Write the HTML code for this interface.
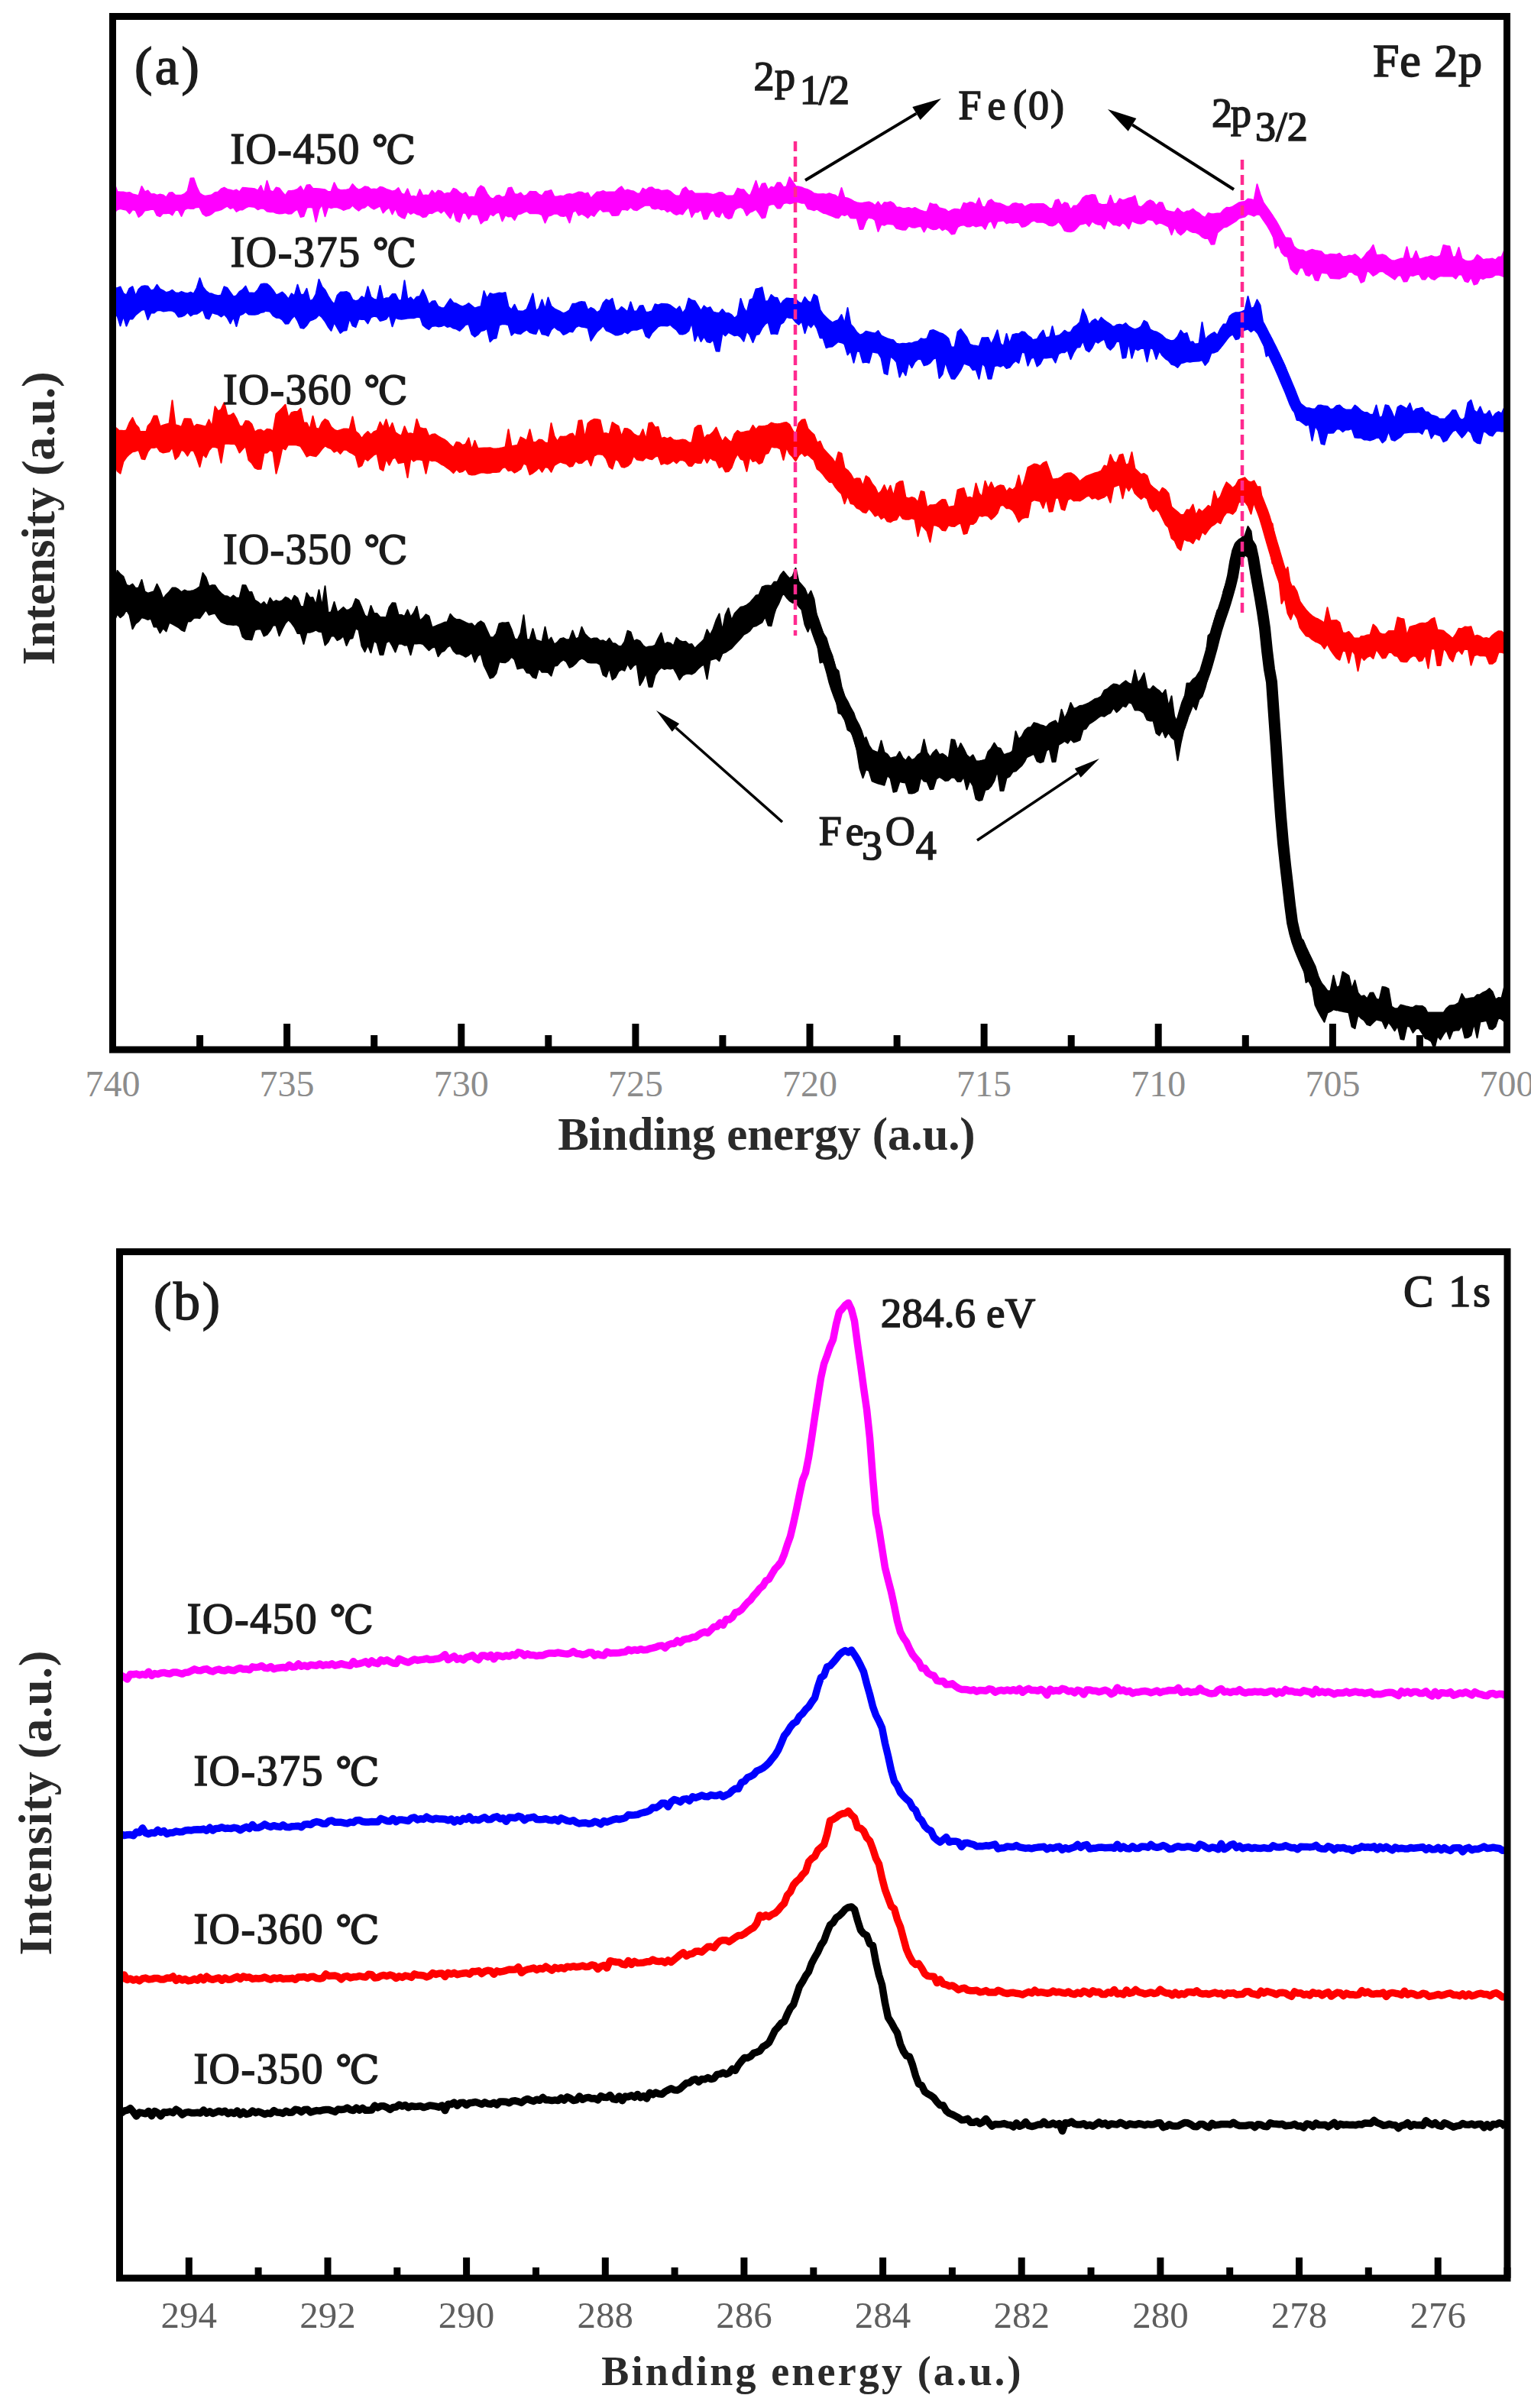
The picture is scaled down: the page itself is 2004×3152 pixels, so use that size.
<!DOCTYPE html>
<html><head><meta charset="utf-8"><title>XPS spectra</title>
<style>html,body{margin:0;padding:0;background:#fff;}svg{display:block;}</style>
</head><body>
<svg width="2004" height="3152" viewBox="0 0 2004 3152">
<rect x="0" y="0" width="2004" height="3152" fill="#fff"/>
<g fill="none" stroke-linejoin="round" stroke-linecap="round">
<path d="M149.5,239.2 L153.5,251.0 L157.5,251.5 L161.5,251.5 L165.5,252.4 L169.5,251.9 L173.5,254.1 L177.5,255.1 L181.5,256.1 L185.5,244.0 L189.5,251.3 L193.5,249.4 L197.5,254.2 L201.5,254.0 L205.5,255.6 L209.5,254.5 L213.5,255.4 L217.5,258.5 L221.5,252.5 L225.5,252.1 L229.5,255.7 L233.5,255.7 L237.5,255.7 L241.5,253.9 L245.5,250.3 L249.5,233.4 L253.5,233.2 L257.5,245.0 L261.5,253.1 L265.5,255.8 L269.5,257.4 L273.5,257.3 L277.5,255.1 L281.5,252.1 L285.5,251.4 L289.5,247.5 L293.5,245.6 L297.5,247.9 L301.5,248.7 L305.5,250.0 L309.5,248.5 L313.5,251.4 L317.5,245.7 L321.5,246.0 L325.5,246.4 L329.5,246.8 L333.5,247.3 L337.5,249.5 L341.5,243.0 L345.5,253.7 L349.5,236.8 L353.5,249.6 L357.5,251.2 L361.5,245.5 L365.5,246.4 L369.5,251.6 L373.5,256.1 L377.5,250.1 L381.5,250.0 L385.5,249.2 L389.5,247.8 L393.5,243.9 L397.5,251.1 L401.5,242.6 L405.5,242.0 L409.5,246.8 L413.5,247.0 L417.5,247.2 L421.5,247.7 L425.5,248.2 L429.5,251.0 L433.5,250.7 L437.5,239.3 L441.5,247.3 L445.5,248.9 L449.5,248.8 L453.5,248.5 L457.5,247.6 L461.5,241.1 L465.5,245.7 L469.5,248.5 L473.5,247.1 L477.5,244.2 L481.5,244.9 L485.5,248.0 L489.5,247.4 L493.5,248.1 L497.5,244.7 L501.5,245.6 L505.5,247.7 L509.5,248.9 L513.5,250.4 L517.5,249.6 L521.5,246.1 L525.5,253.4 L529.5,254.9 L533.5,247.3 L537.5,257.4 L541.5,256.8 L545.5,258.0 L549.5,248.1 L553.5,256.1 L557.5,255.4 L561.5,255.9 L565.5,249.5 L569.5,254.0 L573.5,249.5 L577.5,250.4 L581.5,254.2 L585.5,252.7 L589.5,253.0 L593.5,246.7 L597.5,248.3 L601.5,252.1 L605.5,254.6 L609.5,252.0 L613.5,258.3 L617.5,257.7 L621.5,258.2 L625.5,247.3 L629.5,243.3 L633.5,245.7 L637.5,253.5 L641.5,258.8 L645.5,260.6 L649.5,256.6 L653.5,255.8 L657.5,258.5 L661.5,256.8 L665.5,246.2 L669.5,245.5 L673.5,254.1 L677.5,254.7 L681.5,252.5 L685.5,257.0 L689.5,255.4 L693.5,250.8 L697.5,251.0 L701.5,251.0 L705.5,254.7 L709.5,256.4 L713.5,250.7 L717.5,250.2 L721.5,249.0 L725.5,257.5 L729.5,257.4 L733.5,256.5 L737.5,257.1 L741.5,254.8 L745.5,254.1 L749.5,254.8 L753.5,253.2 L757.5,251.5 L761.5,251.7 L765.5,253.9 L769.5,252.5 L773.5,259.8 L777.5,255.5 L781.5,251.4 L785.5,251.4 L789.5,250.0 L793.5,251.8 L797.5,251.5 L801.5,251.4 L805.5,251.2 L809.5,247.1 L813.5,244.2 L817.5,249.9 L821.5,248.5 L825.5,249.8 L829.5,250.6 L833.5,253.2 L837.5,253.4 L841.5,246.6 L845.5,249.0 L849.5,245.7 L853.5,245.2 L857.5,248.2 L861.5,247.9 L865.5,250.0 L869.5,249.4 L873.5,248.9 L877.5,250.7 L881.5,254.3 L885.5,257.0 L889.5,257.4 L893.5,247.9 L897.5,245.2 L901.5,250.4 L905.5,249.8 L909.5,253.5 L913.5,253.5 L917.5,253.5 L921.5,253.4 L925.5,253.3 L929.5,254.0 L933.5,254.9 L937.5,253.6 L941.5,252.0 L945.5,252.3 L949.5,255.8 L953.5,259.8 L957.5,258.7 L961.5,254.7 L965.5,246.6 L969.5,248.2 L973.5,248.3 L977.5,253.3 L981.5,257.5 L985.5,247.6 L989.5,236.8 L993.5,249.6 L997.5,240.8 L1001.5,240.0 L1005.5,248.9 L1009.5,244.8 L1013.5,245.9 L1017.5,239.3 L1021.5,239.2 L1025.5,245.3 L1029.5,244.3 L1033.5,232.1 L1037.5,238.1 L1041.5,243.9 L1045.5,244.5 L1049.5,245.4 L1053.5,247.3 L1057.5,248.3 L1061.5,250.4 L1065.5,253.2 L1069.5,253.9 L1073.5,254.2 L1077.5,254.0 L1081.5,254.8 L1085.5,253.3 L1089.5,254.8 L1093.5,255.8 L1097.5,259.1 L1101.5,246.0 L1105.5,258.8 L1109.5,259.5 L1113.5,261.2 L1117.5,263.7 L1121.5,265.3 L1125.5,266.1 L1129.5,265.7 L1133.5,265.1 L1137.5,264.4 L1141.5,266.1 L1145.5,269.2 L1149.5,264.2 L1153.5,270.2 L1157.5,265.0 L1161.5,265.5 L1165.5,264.2 L1169.5,266.3 L1173.5,271.7 L1177.5,271.5 L1181.5,272.9 L1185.5,272.8 L1189.5,272.0 L1193.5,273.6 L1197.5,271.9 L1201.5,274.0 L1205.5,275.8 L1209.5,276.9 L1213.5,277.2 L1217.5,266.1 L1221.5,267.7 L1225.5,267.4 L1229.5,272.3 L1233.5,273.2 L1237.5,274.3 L1241.5,277.5 L1245.5,275.3 L1249.5,273.8 L1253.5,274.0 L1257.5,275.0 L1261.5,265.7 L1265.5,266.9 L1269.5,264.8 L1273.5,265.5 L1277.5,268.1 L1281.5,259.4 L1285.5,270.4 L1289.5,271.5 L1293.5,263.5 L1297.5,261.3 L1301.5,265.3 L1305.5,266.0 L1309.5,266.6 L1313.5,268.4 L1317.5,270.4 L1321.5,270.2 L1325.5,266.8 L1329.5,266.0 L1333.5,267.2 L1337.5,267.0 L1341.5,270.9 L1345.5,268.6 L1349.5,267.0 L1353.5,267.3 L1357.5,267.0 L1361.5,266.9 L1365.5,267.0 L1369.5,269.2 L1373.5,272.8 L1377.5,273.3 L1381.5,262.5 L1385.5,261.2 L1389.5,269.1 L1393.5,265.2 L1397.5,266.5 L1401.5,275.1 L1405.5,269.4 L1409.5,269.6 L1413.5,265.2 L1417.5,259.1 L1421.5,256.2 L1425.5,256.0 L1429.5,255.1 L1433.5,255.6 L1437.5,266.3 L1441.5,267.7 L1445.5,268.0 L1449.5,267.6 L1453.5,255.9 L1457.5,266.6 L1461.5,266.7 L1465.5,260.2 L1469.5,262.4 L1473.5,261.2 L1477.5,259.4 L1481.5,258.8 L1485.5,256.4 L1489.5,269.8 L1493.5,271.2 L1497.5,268.0 L1501.5,263.9 L1505.5,262.2 L1509.5,264.1 L1513.5,269.3 L1517.5,264.9 L1521.5,265.6 L1525.5,275.2 L1529.5,276.5 L1533.5,277.3 L1537.5,278.0 L1541.5,272.7 L1545.5,276.5 L1549.5,278.9 L1553.5,276.5 L1557.5,276.2 L1561.5,273.5 L1565.5,277.2 L1569.5,279.1 L1573.5,282.9 L1577.5,284.8 L1581.5,279.0 L1585.5,280.2 L1589.5,280.1 L1593.5,279.4 L1597.5,279.6 L1601.5,274.8 L1605.5,271.7 L1609.5,272.0 L1613.5,270.7 L1617.5,268.1 L1621.5,265.5 L1625.5,264.5 L1629.5,264.1 L1633.5,260.5 L1637.5,260.9 L1641.5,262.2 L1645.5,241.3 L1649.5,254.4 L1653.5,264.7 L1657.5,270.5 L1661.5,276.5 L1665.5,282.1 L1669.5,290.4 L1673.5,296.6 L1677.5,303.5 L1681.5,311.2 L1685.5,311.4 L1689.5,312.1 L1693.5,322.4 L1697.5,326.0 L1701.5,327.6 L1705.5,327.5 L1709.5,330.0 L1713.5,328.2 L1717.5,326.8 L1721.5,327.9 L1725.5,328.6 L1729.5,329.2 L1733.5,333.5 L1737.5,334.0 L1741.5,332.8 L1745.5,333.1 L1749.5,333.4 L1753.5,331.8 L1757.5,336.2 L1761.5,336.1 L1765.5,334.6 L1769.5,335.1 L1773.5,333.1 L1777.5,336.2 L1781.5,340.5 L1785.5,336.3 L1789.5,330.7 L1793.5,327.2 L1797.5,320.8 L1801.5,333.7 L1805.5,333.9 L1809.5,333.3 L1813.5,334.6 L1817.5,338.2 L1821.5,341.0 L1825.5,341.4 L1829.5,340.0 L1833.5,338.6 L1837.5,338.3 L1841.5,323.3 L1845.5,339.1 L1849.5,338.2 L1853.5,328.7 L1857.5,339.4 L1861.5,338.5 L1865.5,337.1 L1869.5,336.5 L1873.5,335.0 L1877.5,336.5 L1881.5,336.4 L1885.5,334.7 L1889.5,320.9 L1893.5,322.0 L1897.5,322.6 L1901.5,336.8 L1905.5,335.9 L1909.5,324.1 L1913.5,338.6 L1917.5,341.1 L1921.5,342.3 L1925.5,341.8 L1929.5,340.1 L1933.5,333.7 L1937.5,336.4 L1941.5,340.2 L1945.5,339.2 L1949.5,339.2 L1953.5,338.6 L1957.5,340.4 L1961.5,336.5 L1965.5,336.5 L1969.5,326.8 L1969.5,362.9 L1965.5,360.7 L1961.5,359.5 L1957.5,359.7 L1953.5,362.5 L1949.5,363.2 L1945.5,363.2 L1941.5,365.2 L1937.5,363.6 L1933.5,371.3 L1929.5,372.6 L1925.5,362.7 L1921.5,369.2 L1917.5,368.0 L1913.5,359.5 L1909.5,359.2 L1905.5,364.7 L1901.5,361.5 L1897.5,361.5 L1893.5,361.4 L1889.5,361.4 L1885.5,361.1 L1881.5,362.9 L1877.5,366.1 L1873.5,364.6 L1869.5,360.7 L1865.5,365.7 L1861.5,365.6 L1857.5,358.8 L1853.5,359.5 L1849.5,361.0 L1845.5,360.2 L1841.5,368.3 L1837.5,368.5 L1833.5,360.2 L1829.5,360.8 L1825.5,365.8 L1821.5,363.0 L1817.5,360.2 L1813.5,357.8 L1809.5,354.4 L1805.5,355.3 L1801.5,358.7 L1797.5,361.0 L1793.5,356.8 L1789.5,354.0 L1785.5,368.0 L1781.5,369.9 L1777.5,360.4 L1773.5,359.3 L1769.5,356.0 L1765.5,355.7 L1761.5,361.7 L1757.5,362.7 L1753.5,364.7 L1749.5,364.5 L1745.5,364.2 L1741.5,363.9 L1737.5,357.7 L1733.5,357.2 L1729.5,356.7 L1725.5,367.2 L1721.5,366.5 L1717.5,356.5 L1713.5,361.1 L1709.5,359.8 L1705.5,350.5 L1701.5,350.6 L1697.5,359.2 L1693.5,356.0 L1689.5,351.7 L1685.5,335.8 L1681.5,334.9 L1677.5,330.4 L1673.5,318.9 L1669.5,324.6 L1665.5,303.5 L1661.5,297.4 L1657.5,291.3 L1653.5,285.6 L1649.5,281.0 L1645.5,280.4 L1641.5,282.7 L1637.5,281.1 L1633.5,280.1 L1629.5,283.6 L1625.5,284.6 L1621.5,285.7 L1617.5,289.4 L1613.5,291.9 L1609.5,294.5 L1605.5,296.8 L1601.5,297.6 L1597.5,301.3 L1593.5,304.6 L1589.5,319.6 L1585.5,319.7 L1581.5,312.1 L1577.5,312.0 L1573.5,310.1 L1569.5,306.3 L1565.5,304.3 L1561.5,304.1 L1557.5,302.3 L1553.5,299.6 L1549.5,304.3 L1545.5,307.4 L1541.5,304.2 L1537.5,296.9 L1533.5,307.2 L1529.5,296.5 L1525.5,294.6 L1521.5,292.5 L1517.5,291.5 L1513.5,293.7 L1509.5,288.6 L1505.5,285.7 L1501.5,287.7 L1497.5,291.6 L1493.5,292.8 L1489.5,292.2 L1485.5,290.8 L1481.5,288.9 L1477.5,299.3 L1473.5,293.8 L1469.5,291.4 L1465.5,295.7 L1461.5,294.2 L1457.5,294.2 L1453.5,290.4 L1449.5,287.8 L1445.5,299.4 L1441.5,294.1 L1437.5,293.8 L1433.5,292.2 L1429.5,289.5 L1425.5,296.1 L1421.5,291.9 L1417.5,293.0 L1413.5,293.7 L1409.5,298.2 L1405.5,302.0 L1401.5,303.2 L1397.5,303.1 L1393.5,301.8 L1389.5,294.6 L1385.5,290.0 L1381.5,293.9 L1377.5,295.6 L1373.5,295.1 L1369.5,292.4 L1365.5,290.8 L1361.5,290.6 L1357.5,290.8 L1353.5,288.5 L1349.5,290.2 L1345.5,294.0 L1341.5,296.3 L1337.5,297.0 L1333.5,291.0 L1329.5,291.0 L1325.5,291.8 L1321.5,291.0 L1317.5,292.4 L1313.5,288.4 L1309.5,289.3 L1305.5,289.4 L1301.5,298.5 L1297.5,289.0 L1293.5,291.2 L1289.5,299.8 L1285.5,295.1 L1281.5,295.6 L1277.5,296.5 L1273.5,294.7 L1269.5,296.6 L1265.5,296.5 L1261.5,294.2 L1257.5,294.9 L1253.5,297.2 L1249.5,305.8 L1245.5,306.4 L1241.5,301.7 L1237.5,299.1 L1233.5,301.3 L1229.5,297.3 L1225.5,300.0 L1221.5,300.3 L1217.5,298.7 L1213.5,296.5 L1209.5,303.5 L1205.5,295.9 L1201.5,296.6 L1197.5,297.7 L1193.5,297.4 L1189.5,295.7 L1185.5,300.7 L1181.5,300.8 L1177.5,299.7 L1173.5,298.8 L1169.5,293.7 L1165.5,293.2 L1161.5,292.7 L1157.5,294.8 L1153.5,293.6 L1149.5,302.9 L1145.5,288.2 L1141.5,285.2 L1137.5,283.5 L1133.5,289.0 L1129.5,299.7 L1125.5,300.1 L1121.5,285.3 L1117.5,285.5 L1113.5,285.3 L1109.5,280.0 L1105.5,282.1 L1101.5,280.3 L1097.5,285.3 L1093.5,284.7 L1089.5,282.9 L1085.5,281.4 L1081.5,279.6 L1077.5,278.7 L1073.5,276.4 L1069.5,273.7 L1065.5,275.4 L1061.5,274.0 L1057.5,273.3 L1053.5,265.7 L1049.5,265.7 L1045.5,264.6 L1041.5,264.1 L1037.5,265.5 L1033.5,266.4 L1029.5,265.3 L1025.5,266.3 L1021.5,272.4 L1017.5,272.5 L1013.5,267.1 L1009.5,267.4 L1005.5,269.2 L1001.5,284.6 L997.5,285.5 L993.5,279.1 L989.5,273.9 L985.5,276.2 L981.5,277.7 L977.5,282.0 L973.5,273.5 L969.5,271.0 L965.5,271.9 L961.5,274.7 L957.5,285.1 L953.5,286.2 L949.5,283.8 L945.5,276.1 L941.5,284.0 L937.5,282.7 L933.5,274.7 L929.5,277.9 L925.5,286.5 L921.5,286.7 L917.5,274.0 L913.5,277.4 L909.5,277.4 L905.5,284.1 L901.5,270.8 L897.5,274.8 L893.5,280.5 L889.5,279.4 L885.5,281.1 L881.5,279.0 L877.5,275.4 L873.5,277.3 L869.5,273.8 L865.5,274.4 L861.5,272.3 L857.5,273.6 L853.5,272.5 L849.5,266.5 L845.5,267.8 L841.5,270.4 L837.5,272.7 L833.5,275.3 L829.5,274.6 L825.5,270.9 L821.5,274.9 L817.5,274.0 L813.5,274.3 L809.5,281.6 L805.5,281.9 L801.5,282.1 L797.5,276.2 L793.5,276.4 L789.5,276.9 L785.5,273.2 L781.5,277.3 L777.5,282.9 L773.5,280.6 L769.5,285.1 L765.5,282.0 L761.5,279.8 L757.5,281.8 L753.5,275.3 L749.5,277.7 L745.5,291.5 L741.5,282.1 L737.5,283.0 L733.5,282.4 L729.5,279.7 L725.5,279.7 L721.5,281.7 L717.5,282.9 L713.5,291.7 L709.5,281.3 L705.5,279.6 L701.5,279.3 L697.5,279.3 L693.5,279.3 L689.5,276.3 L685.5,277.9 L681.5,279.8 L677.5,280.6 L673.5,288.0 L669.5,282.9 L665.5,283.6 L661.5,281.3 L657.5,289.4 L653.5,277.7 L649.5,278.8 L645.5,282.2 L641.5,279.7 L637.5,288.0 L633.5,288.7 L629.5,292.6 L625.5,281.1 L621.5,280.8 L617.5,280.3 L613.5,286.4 L609.5,278.5 L605.5,278.8 L601.5,290.7 L597.5,288.7 L593.5,274.9 L589.5,285.5 L585.5,280.6 L581.5,275.1 L577.5,278.6 L573.5,275.5 L569.5,276.8 L565.5,279.2 L561.5,278.7 L557.5,283.5 L553.5,284.2 L549.5,281.3 L545.5,280.2 L541.5,277.8 L537.5,280.1 L533.5,276.6 L529.5,285.8 L525.5,284.3 L521.5,281.4 L517.5,272.6 L513.5,280.4 L509.5,271.4 L505.5,274.2 L501.5,278.6 L497.5,269.3 L493.5,271.6 L489.5,273.7 L485.5,271.3 L481.5,267.9 L477.5,271.5 L473.5,272.5 L469.5,275.8 L465.5,272.8 L461.5,268.5 L457.5,272.5 L453.5,273.5 L449.5,275.0 L445.5,272.7 L441.5,271.2 L437.5,271.0 L433.5,272.2 L429.5,270.8 L425.5,283.2 L421.5,267.4 L417.5,273.9 L413.5,290.3 L409.5,271.8 L405.5,271.1 L401.5,271.7 L397.5,283.0 L393.5,284.0 L389.5,273.9 L385.5,275.9 L381.5,279.6 L377.5,279.7 L373.5,278.3 L369.5,279.3 L365.5,279.6 L361.5,278.7 L357.5,277.1 L353.5,277.3 L349.5,276.4 L345.5,272.9 L341.5,272.6 L337.5,274.2 L333.5,271.1 L329.5,270.5 L325.5,270.1 L321.5,271.8 L317.5,274.5 L313.5,274.6 L309.5,277.0 L305.5,271.4 L301.5,273.0 L297.5,269.7 L293.5,271.9 L289.5,274.3 L285.5,275.6 L281.5,276.2 L277.5,279.6 L273.5,281.8 L269.5,282.7 L265.5,280.0 L261.5,271.9 L257.5,269.6 L253.5,272.9 L249.5,273.1 L245.5,272.3 L241.5,274.4 L237.5,282.9 L233.5,275.0 L229.5,275.0 L225.5,281.5 L221.5,278.7 L217.5,279.2 L213.5,278.9 L209.5,283.2 L205.5,281.8 L201.5,273.9 L197.5,274.0 L193.5,275.1 L189.5,275.4 L185.5,281.0 L181.5,284.0 L177.5,275.4 L173.5,274.4 L169.5,279.4 L165.5,274.8 L161.5,273.9 L157.5,273.1 L153.5,274.3 L149.5,278.3 Z" fill="#ff00ff" stroke="#ff00ff" stroke-width="2" stroke-linejoin="round"/>
<path d="M149.5,260.9 L152.5,261.3 L155.5,261.7 L158.5,262.1 L161.5,262.5 L164.5,262.8 L167.5,263.1 L170.5,263.4 L173.5,263.7 L176.5,263.9 L179.5,264.2 L182.5,264.4 L185.5,264.6 L188.5,264.8 L191.5,264.9 L194.5,265.1 L197.5,265.2 L200.5,265.4 L203.5,265.5 L206.5,265.6 L209.5,265.7 L212.5,265.7 L215.5,265.8 L218.5,265.9 L221.5,265.9 L224.5,265.9 L227.5,266.0 L230.5,266.0 L233.5,266.0 L236.5,266.0 L239.5,266.0 L242.5,265.9 L245.5,265.8 L248.5,265.6 L251.5,265.3 L254.5,265.0 L257.5,264.7 L260.5,264.3 L263.5,264.0 L266.5,263.6 L269.5,263.1 L272.5,262.7 L275.5,262.3 L278.5,261.9 L281.5,261.5 L284.5,261.2 L287.5,260.9 L290.5,260.6 L293.5,260.3 L296.5,260.2 L299.5,260.1 L302.5,260.0 L305.5,260.0 L308.5,260.1 L311.5,260.2 L314.5,260.3 L317.5,260.5 L320.5,260.7 L323.5,260.9 L326.5,261.2 L329.5,261.4 L332.5,261.7 L335.5,262.0 L338.5,262.2 L341.5,262.5 L344.5,262.8 L347.5,263.0 L350.5,263.2 L353.5,263.4 L356.5,263.6 L359.5,263.8 L362.5,263.9 L365.5,264.0 L368.5,264.0 L371.5,264.0 L374.5,264.0 L377.5,263.9 L380.5,263.8 L383.5,263.7 L386.5,263.6 L389.5,263.5 L392.5,263.3 L395.5,263.1 L398.5,263.0 L401.5,262.8 L404.5,262.6 L407.5,262.4 L410.5,262.2 L413.5,262.1 L416.5,261.9 L419.5,261.7 L422.5,261.5 L425.5,261.4 L428.5,261.2 L431.5,261.1 L434.5,261.0 L437.5,260.9 L440.5,260.7 L443.5,260.6 L446.5,260.5 L449.5,260.4 L452.5,260.3 L455.5,260.1 L458.5,260.0 L461.5,259.9 L464.5,259.8 L467.5,259.7 L470.5,259.6 L473.5,259.5 L476.5,259.4 L479.5,259.3 L482.5,259.2 L485.5,259.1 L488.5,259.1 L491.5,259.0 L494.5,259.0 L497.5,259.0 L500.5,259.0 L503.5,259.1 L506.5,259.3 L509.5,259.5 L512.5,259.9 L515.5,260.2 L518.5,260.7 L521.5,261.2 L524.5,261.7 L527.5,262.2 L530.5,262.7 L533.5,263.3 L536.5,263.8 L539.5,264.3 L542.5,264.8 L545.5,265.3 L548.5,265.8 L551.5,266.1 L554.5,266.5 L557.5,266.7 L560.5,266.9 L563.5,267.0 L566.5,267.0 L569.5,267.0 L572.5,267.0 L575.5,267.0 L578.5,267.0 L581.5,267.0 L584.5,267.0 L587.5,267.0 L590.5,267.0 L593.5,267.0 L596.5,267.0 L599.5,267.0 L602.5,267.0 L605.5,267.0 L608.5,267.0 L611.5,267.0 L614.5,267.0 L617.5,267.0 L620.5,267.0 L623.5,267.0 L626.5,267.0 L629.5,267.0 L632.5,267.0 L635.5,267.0 L638.5,267.0 L641.5,267.1 L644.5,267.1 L647.5,267.2 L650.5,267.2 L653.5,267.3 L656.5,267.3 L659.5,267.4 L662.5,267.5 L665.5,267.5 L668.5,267.6 L671.5,267.7 L674.5,267.7 L677.5,267.8 L680.5,267.8 L683.5,267.9 L686.5,267.9 L689.5,268.0 L692.5,268.0 L695.5,268.0 L698.5,268.0 L701.5,268.0 L704.5,268.0 L707.5,268.0 L710.5,268.0 L713.5,267.9 L716.5,267.9 L719.5,267.9 L722.5,267.8 L725.5,267.8 L728.5,267.7 L731.5,267.7 L734.5,267.6 L737.5,267.6 L740.5,267.5 L743.5,267.5 L746.5,267.4 L749.5,267.3 L752.5,267.3 L755.5,267.2 L758.5,267.1 L761.5,267.0 L764.5,267.0 L767.5,266.8 L770.5,266.7 L773.5,266.5 L776.5,266.2 L779.5,266.0 L782.5,265.7 L785.5,265.4 L788.5,265.1 L791.5,264.8 L794.5,264.5 L797.5,264.1 L800.5,263.8 L803.5,263.5 L806.5,263.2 L809.5,262.9 L812.5,262.7 L815.5,262.5 L818.5,262.3 L821.5,262.2 L824.5,262.1 L827.5,262.0 L830.5,262.0 L833.5,262.0 L836.5,262.0 L839.5,262.1 L842.5,262.1 L845.5,262.2 L848.5,262.2 L851.5,262.3 L854.5,262.3 L857.5,262.4 L860.5,262.5 L863.5,262.5 L866.5,262.6 L869.5,262.7 L872.5,262.7 L875.5,262.8 L878.5,262.9 L881.5,262.9 L884.5,262.9 L887.5,263.0 L890.5,263.0 L893.5,263.0 L896.5,263.0 L899.5,263.0 L902.5,263.0 L905.5,263.0 L908.5,263.0 L911.5,263.0 L914.5,263.0 L917.5,263.0 L920.5,263.0 L923.5,263.0 L926.5,263.0 L929.5,263.0 L932.5,263.0 L935.5,263.0 L938.5,263.0 L941.5,263.0 L944.5,263.0 L947.5,263.0 L950.5,263.0 L953.5,263.0 L956.5,263.0 L959.5,263.0 L962.5,263.0 L965.5,262.9 L968.5,262.8 L971.5,262.7 L974.5,262.5 L977.5,262.3 L980.5,262.1 L983.5,261.8 L986.5,261.5 L989.5,261.2 L992.5,260.9 L995.5,260.6 L998.5,260.2 L1001.5,259.9 L1004.5,259.5 L1007.5,259.1 L1010.5,258.7 L1013.5,258.3 L1016.5,258.0 L1019.5,257.6 L1022.5,257.2 L1025.5,256.8 L1028.5,256.2 L1031.5,255.6 L1034.5,254.9 L1037.5,254.4 L1040.5,254.0 L1043.5,254.1 L1046.5,254.8 L1049.5,256.0 L1052.5,257.3 L1055.5,258.5 L1058.5,259.4 L1061.5,260.2 L1064.5,260.9 L1067.5,261.5 L1070.5,262.2 L1073.5,262.8 L1076.5,263.4 L1079.5,264.0 L1082.5,264.6 L1085.5,265.2 L1088.5,265.9 L1091.5,266.7 L1094.5,267.5 L1097.5,268.5 L1100.5,269.8 L1103.5,271.1 L1106.5,272.1 L1109.5,272.9 L1112.5,273.6 L1115.5,274.3 L1118.5,275.0 L1121.5,275.6 L1124.5,276.2 L1127.5,276.7 L1130.5,277.2 L1133.5,277.7 L1136.5,278.2 L1139.5,278.7 L1142.5,279.1 L1145.5,279.5 L1148.5,279.9 L1151.5,280.3 L1154.5,280.7 L1157.5,281.1 L1160.5,281.5 L1163.5,281.8 L1166.5,282.2 L1169.5,282.5 L1172.5,282.9 L1175.5,283.3 L1178.5,283.7 L1181.5,284.0 L1184.5,284.4 L1187.5,284.8 L1190.5,285.1 L1193.5,285.5 L1196.5,285.8 L1199.5,286.1 L1202.5,286.4 L1205.5,286.7 L1208.5,287.0 L1211.5,287.2 L1214.5,287.4 L1217.5,287.6 L1220.5,287.8 L1223.5,287.9 L1226.5,288.0 L1229.5,288.0 L1232.5,288.0 L1235.5,287.9 L1238.5,287.7 L1241.5,287.4 L1244.5,287.1 L1247.5,286.7 L1250.5,286.3 L1253.5,285.8 L1256.5,285.3 L1259.5,284.7 L1262.5,284.2 L1265.5,283.6 L1268.5,283.1 L1271.5,282.6 L1274.5,282.0 L1277.5,281.6 L1280.5,281.1 L1283.5,280.8 L1286.5,280.5 L1289.5,280.2 L1292.5,280.1 L1295.5,280.0 L1298.5,280.0 L1301.5,280.0 L1304.5,280.0 L1307.5,280.0 L1310.5,280.0 L1313.5,280.0 L1316.5,280.0 L1319.5,280.0 L1322.5,280.0 L1325.5,280.0 L1328.5,280.0 L1331.5,280.0 L1334.5,280.0 L1337.5,280.0 L1340.5,280.0 L1343.5,280.0 L1346.5,280.0 L1349.5,280.0 L1352.5,280.0 L1355.5,280.0 L1358.5,280.0 L1361.5,280.0 L1364.5,280.0 L1367.5,280.0 L1370.5,280.0 L1373.5,280.0 L1376.5,280.0 L1379.5,280.0 L1382.5,280.0 L1385.5,280.0 L1388.5,280.0 L1391.5,280.0 L1394.5,280.0 L1397.5,280.0 L1400.5,280.0 L1403.5,280.0 L1406.5,280.0 L1409.5,280.0 L1412.5,280.0 L1415.5,280.0 L1418.5,280.0 L1421.5,280.0 L1424.5,280.0 L1427.5,280.0 L1430.5,280.0 L1433.5,280.0 L1436.5,280.0 L1439.5,280.0 L1442.5,280.0 L1445.5,280.0 L1448.5,280.0 L1451.5,280.0 L1454.5,280.0 L1457.5,280.0 L1460.5,280.0 L1463.5,280.0 L1466.5,280.0 L1469.5,280.0 L1472.5,280.0 L1475.5,280.0 L1478.5,280.0 L1481.5,280.0 L1484.5,280.0 L1487.5,280.0 L1490.5,280.0 L1493.5,280.0 L1496.5,280.1 L1499.5,280.4 L1502.5,280.7 L1505.5,281.1 L1508.5,281.5 L1511.5,282.1 L1514.5,282.7 L1517.5,283.3 L1520.5,283.9 L1523.5,284.6 L1526.5,285.2 L1529.5,285.9 L1532.5,286.5 L1535.5,287.1 L1538.5,287.8 L1541.5,288.6 L1544.5,289.5 L1547.5,290.3 L1550.5,291.0 L1553.5,291.6 L1556.5,292.0 L1559.5,292.1 L1562.5,292.3 L1565.5,292.4 L1568.5,292.6 L1571.5,292.7 L1574.5,292.8 L1577.5,292.8 L1580.5,292.9 L1583.5,293.0 L1586.5,293.0 L1589.5,293.0 L1592.5,292.7 L1595.5,291.6 L1598.5,290.0 L1601.5,287.9 L1604.5,285.6 L1607.5,283.1 L1610.5,280.9 L1613.5,278.8 L1616.5,277.2 L1619.5,275.3 L1622.5,273.5 L1625.5,272.0 L1628.5,271.1 L1631.5,271.0 L1634.5,271.0 L1637.5,271.0 L1640.5,271.0 L1643.5,271.0 L1646.5,271.0 L1649.5,272.3 L1652.5,275.1 L1655.5,279.0 L1658.5,283.4 L1661.5,287.9 L1664.5,292.2 L1667.5,297.4 L1670.5,303.2 L1673.5,309.0 L1676.5,314.3 L1679.5,318.6 L1682.5,322.5 L1685.5,326.4 L1688.5,330.0 L1691.5,333.2 L1694.5,335.9 L1697.5,337.9 L1700.5,339.1 L1703.5,340.0 L1706.5,340.8 L1709.5,341.6 L1712.5,342.3 L1715.5,342.9 L1718.5,343.6 L1721.5,344.1 L1724.5,344.7 L1727.5,345.2 L1730.5,345.6 L1733.5,346.0 L1736.5,346.4 L1739.5,346.7 L1742.5,347.0 L1745.5,347.3 L1748.5,347.5 L1751.5,347.7 L1754.5,347.8 L1757.5,347.9 L1760.5,348.0 L1763.5,348.1 L1766.5,348.1 L1769.5,348.2 L1772.5,348.3 L1775.5,348.3 L1778.5,348.4 L1781.5,348.4 L1784.5,348.5 L1787.5,348.5 L1790.5,348.6 L1793.5,348.6 L1796.5,348.7 L1799.5,348.7 L1802.5,348.7 L1805.5,348.8 L1808.5,348.8 L1811.5,348.8 L1814.5,348.9 L1817.5,348.9 L1820.5,348.9 L1823.5,348.9 L1826.5,349.0 L1829.5,349.0 L1832.5,349.0 L1835.5,349.0 L1838.5,349.0 L1841.5,349.0 L1844.5,349.0 L1847.5,349.0 L1850.5,349.0 L1853.5,349.0 L1856.5,349.0 L1859.5,349.0 L1862.5,349.0 L1865.5,349.0 L1868.5,349.0 L1871.5,349.0 L1874.5,349.0 L1877.5,349.0 L1880.5,349.0 L1883.5,349.0 L1886.5,349.0 L1889.5,349.0 L1892.5,349.0 L1895.5,349.0 L1898.5,349.0 L1901.5,349.0 L1904.5,349.0 L1907.5,349.0 L1910.5,349.0 L1913.5,349.0 L1916.5,349.0 L1919.5,349.0 L1922.5,349.0 L1925.5,349.0 L1928.5,349.0 L1931.5,349.0 L1934.5,349.0 L1937.5,349.0 L1940.5,349.0 L1943.5,349.0 L1946.5,349.0 L1949.5,349.0 L1952.5,349.0 L1955.5,349.0 L1958.5,349.0 L1961.5,349.0 L1964.5,349.0 L1967.5,349.0 L1970.5,349.0" fill="none" stroke="#ff00ff" stroke-width="15" stroke-linejoin="round" stroke-linecap="butt"/>
<path d="M149.5,377.7 L153.5,377.1 L157.5,375.5 L161.5,384.2 L165.5,386.4 L169.5,377.5 L173.5,375.2 L177.5,387.6 L181.5,378.7 L185.5,375.0 L189.5,374.2 L193.5,374.8 L197.5,380.4 L201.5,379.2 L205.5,372.8 L209.5,378.5 L213.5,380.4 L217.5,383.0 L221.5,382.1 L225.5,379.7 L229.5,383.2 L233.5,383.8 L237.5,381.8 L241.5,383.5 L245.5,384.2 L249.5,382.6 L253.5,384.7 L257.5,377.1 L261.5,364.1 L265.5,375.6 L269.5,380.7 L273.5,383.9 L277.5,384.6 L281.5,386.3 L285.5,387.2 L289.5,386.4 L293.5,375.3 L297.5,377.0 L301.5,382.8 L305.5,388.4 L309.5,387.2 L313.5,381.9 L317.5,379.3 L321.5,374.6 L325.5,383.3 L329.5,383.5 L333.5,383.7 L337.5,379.3 L341.5,372.2 L345.5,371.4 L349.5,371.7 L353.5,375.0 L357.5,380.0 L361.5,386.4 L365.5,384.6 L369.5,382.5 L373.5,386.3 L377.5,391.7 L381.5,384.4 L385.5,387.3 L389.5,372.7 L393.5,385.5 L397.5,386.0 L401.5,377.9 L405.5,394.0 L409.5,392.4 L413.5,385.2 L417.5,365.8 L421.5,375.5 L425.5,379.7 L429.5,387.5 L433.5,393.9 L437.5,398.7 L441.5,386.7 L445.5,382.6 L449.5,382.6 L453.5,382.0 L457.5,384.1 L461.5,392.5 L465.5,394.2 L469.5,392.9 L473.5,388.2 L477.5,390.8 L481.5,375.3 L485.5,388.8 L489.5,391.7 L493.5,392.7 L497.5,374.0 L501.5,391.9 L505.5,390.3 L509.5,390.0 L513.5,385.1 L517.5,384.9 L521.5,392.9 L525.5,393.3 L529.5,367.3 L533.5,392.4 L537.5,389.3 L541.5,393.6 L545.5,388.7 L549.5,388.1 L553.5,379.2 L557.5,388.0 L561.5,398.8 L565.5,394.6 L569.5,394.1 L573.5,401.3 L577.5,402.9 L581.5,403.2 L585.5,397.2 L589.5,391.4 L593.5,396.6 L597.5,397.5 L601.5,399.9 L605.5,401.4 L609.5,399.8 L613.5,397.0 L617.5,400.2 L621.5,403.5 L625.5,402.1 L629.5,401.3 L633.5,381.1 L637.5,390.8 L641.5,384.0 L645.5,385.4 L649.5,384.5 L653.5,383.5 L657.5,384.0 L661.5,382.9 L665.5,401.4 L669.5,405.6 L673.5,398.7 L677.5,407.1 L681.5,407.6 L685.5,407.2 L689.5,404.9 L693.5,395.2 L697.5,384.4 L701.5,407.2 L705.5,403.7 L709.5,392.4 L713.5,404.7 L717.5,389.5 L721.5,400.9 L725.5,404.1 L729.5,406.1 L733.5,408.0 L737.5,410.4 L741.5,408.6 L745.5,406.0 L749.5,397.7 L753.5,397.7 L757.5,395.8 L761.5,395.1 L765.5,395.6 L769.5,406.1 L773.5,402.8 L777.5,404.9 L781.5,409.1 L785.5,406.5 L789.5,396.6 L793.5,392.1 L797.5,394.1 L801.5,390.9 L805.5,406.2 L809.5,406.5 L813.5,401.9 L817.5,404.9 L821.5,408.2 L825.5,395.4 L829.5,407.3 L833.5,407.5 L837.5,400.5 L841.5,399.9 L845.5,409.1 L849.5,408.4 L853.5,407.2 L857.5,398.2 L861.5,399.5 L865.5,397.8 L869.5,397.9 L873.5,398.2 L877.5,399.8 L881.5,402.7 L885.5,405.5 L889.5,401.3 L893.5,410.2 L897.5,404.9 L901.5,390.6 L905.5,393.3 L909.5,394.1 L913.5,400.4 L917.5,407.0 L921.5,400.4 L925.5,403.7 L929.5,402.1 L933.5,408.6 L937.5,409.4 L941.5,409.9 L945.5,405.0 L949.5,409.9 L953.5,410.0 L957.5,412.2 L961.5,416.7 L965.5,413.0 L969.5,390.9 L973.5,403.0 L977.5,409.4 L981.5,392.7 L985.5,390.9 L989.5,378.6 L993.5,377.7 L997.5,376.1 L1001.5,394.7 L1005.5,394.0 L1009.5,386.0 L1013.5,389.4 L1017.5,390.1 L1021.5,399.0 L1025.5,393.7 L1029.5,390.4 L1033.5,390.8 L1037.5,391.1 L1041.5,391.8 L1045.5,395.8 L1049.5,397.4 L1053.5,389.0 L1057.5,394.3 L1061.5,396.3 L1065.5,385.5 L1069.5,388.0 L1073.5,405.9 L1077.5,411.7 L1081.5,415.6 L1085.5,419.4 L1089.5,422.3 L1093.5,420.5 L1097.5,418.8 L1101.5,412.1 L1105.5,423.7 L1109.5,403.1 L1113.5,424.6 L1117.5,429.0 L1121.5,435.0 L1125.5,438.6 L1129.5,437.2 L1133.5,433.7 L1137.5,434.7 L1141.5,435.7 L1145.5,436.5 L1149.5,433.1 L1153.5,439.5 L1157.5,441.5 L1161.5,443.2 L1165.5,444.4 L1169.5,445.3 L1173.5,449.8 L1177.5,450.6 L1181.5,449.7 L1185.5,450.1 L1189.5,449.1 L1193.5,449.4 L1197.5,447.7 L1201.5,447.1 L1205.5,443.1 L1209.5,444.3 L1213.5,443.1 L1217.5,432.9 L1221.5,432.0 L1225.5,433.6 L1229.5,435.6 L1233.5,436.9 L1237.5,439.6 L1241.5,443.2 L1245.5,455.9 L1249.5,455.0 L1253.5,434.6 L1257.5,430.9 L1261.5,436.4 L1265.5,441.7 L1269.5,450.8 L1273.5,452.3 L1277.5,452.7 L1281.5,453.8 L1285.5,442.3 L1289.5,442.2 L1293.5,442.1 L1297.5,450.9 L1301.5,442.6 L1305.5,432.3 L1309.5,449.7 L1313.5,453.8 L1317.5,436.9 L1321.5,450.0 L1325.5,438.2 L1329.5,437.1 L1333.5,437.3 L1337.5,434.2 L1341.5,435.1 L1345.5,439.6 L1349.5,442.2 L1353.5,447.5 L1357.5,444.3 L1361.5,437.3 L1365.5,432.5 L1369.5,444.3 L1373.5,443.7 L1377.5,427.3 L1381.5,443.5 L1385.5,440.0 L1389.5,436.9 L1393.5,432.7 L1397.5,435.4 L1401.5,434.7 L1405.5,428.4 L1409.5,425.9 L1413.5,421.6 L1417.5,404.8 L1421.5,413.1 L1425.5,425.7 L1429.5,420.4 L1433.5,417.8 L1437.5,421.6 L1441.5,415.6 L1445.5,419.4 L1449.5,422.2 L1453.5,424.8 L1457.5,429.0 L1461.5,425.5 L1465.5,424.7 L1469.5,425.8 L1473.5,423.1 L1477.5,427.4 L1481.5,429.7 L1485.5,431.5 L1489.5,430.0 L1493.5,427.7 L1497.5,419.9 L1501.5,422.2 L1505.5,431.3 L1509.5,433.5 L1513.5,434.4 L1517.5,436.7 L1521.5,439.4 L1525.5,443.3 L1529.5,445.9 L1533.5,446.4 L1537.5,445.1 L1541.5,440.7 L1545.5,432.6 L1549.5,437.4 L1553.5,435.9 L1557.5,448.0 L1561.5,447.2 L1565.5,453.5 L1569.5,450.0 L1573.5,422.0 L1577.5,444.8 L1581.5,440.2 L1585.5,437.4 L1589.5,435.0 L1593.5,438.9 L1597.5,430.5 L1601.5,424.6 L1605.5,424.2 L1609.5,414.0 L1613.5,410.9 L1617.5,409.2 L1621.5,409.2 L1625.5,408.1 L1629.5,406.2 L1633.5,388.0 L1637.5,404.0 L1641.5,402.2 L1645.5,392.4 L1649.5,399.4 L1653.5,424.4 L1657.5,435.7 L1661.5,437.7 L1665.5,445.3 L1669.5,457.7 L1673.5,461.7 L1677.5,470.1 L1681.5,478.5 L1685.5,489.4 L1689.5,498.9 L1693.5,511.9 L1697.5,521.4 L1701.5,527.8 L1705.5,530.9 L1709.5,534.0 L1713.5,534.2 L1717.5,535.4 L1721.5,535.4 L1725.5,530.7 L1729.5,530.6 L1733.5,531.6 L1737.5,531.9 L1741.5,536.0 L1745.5,535.2 L1749.5,531.2 L1753.5,530.6 L1757.5,534.3 L1761.5,536.5 L1765.5,536.6 L1769.5,536.4 L1773.5,530.6 L1777.5,533.6 L1781.5,537.5 L1785.5,539.8 L1789.5,540.0 L1793.5,542.9 L1797.5,542.5 L1801.5,530.5 L1805.5,546.8 L1809.5,545.1 L1813.5,530.3 L1817.5,531.2 L1821.5,538.8 L1825.5,548.6 L1829.5,533.2 L1833.5,530.7 L1837.5,532.9 L1841.5,535.3 L1845.5,527.9 L1849.5,539.8 L1853.5,535.4 L1857.5,534.8 L1861.5,533.7 L1865.5,539.3 L1869.5,539.6 L1873.5,543.6 L1877.5,544.5 L1881.5,546.0 L1885.5,550.4 L1889.5,551.9 L1893.5,545.9 L1897.5,542.3 L1901.5,536.9 L1905.5,537.3 L1909.5,546.0 L1913.5,551.0 L1917.5,546.7 L1921.5,527.3 L1925.5,523.8 L1929.5,537.3 L1933.5,540.2 L1937.5,532.5 L1941.5,542.1 L1945.5,542.5 L1949.5,537.7 L1953.5,547.0 L1957.5,541.7 L1961.5,539.0 L1965.5,541.6 L1969.5,532.6 L1969.5,563.7 L1965.5,564.5 L1961.5,562.5 L1957.5,565.2 L1953.5,570.6 L1949.5,569.6 L1945.5,565.9 L1941.5,564.5 L1937.5,580.5 L1933.5,579.7 L1929.5,576.8 L1925.5,566.5 L1921.5,563.0 L1917.5,568.5 L1913.5,572.7 L1909.5,567.7 L1905.5,562.5 L1901.5,564.6 L1897.5,570.0 L1893.5,576.4 L1889.5,578.2 L1885.5,570.5 L1881.5,569.1 L1877.5,567.6 L1873.5,573.7 L1869.5,561.4 L1865.5,559.7 L1861.5,568.0 L1857.5,565.2 L1853.5,565.7 L1849.5,565.7 L1845.5,565.8 L1841.5,566.3 L1837.5,566.8 L1833.5,571.6 L1829.5,574.1 L1825.5,576.8 L1821.5,575.5 L1817.5,564.2 L1813.5,575.9 L1809.5,579.4 L1805.5,573.1 L1801.5,573.0 L1797.5,575.1 L1793.5,576.4 L1789.5,575.5 L1785.5,575.4 L1781.5,572.9 L1777.5,572.9 L1773.5,572.6 L1769.5,561.0 L1765.5,562.4 L1761.5,562.3 L1757.5,565.1 L1753.5,561.4 L1749.5,561.6 L1745.5,566.4 L1741.5,566.7 L1737.5,566.4 L1733.5,581.9 L1729.5,580.8 L1725.5,563.8 L1721.5,557.2 L1717.5,576.8 L1713.5,555.6 L1709.5,556.7 L1705.5,553.7 L1701.5,550.6 L1697.5,549.7 L1693.5,536.4 L1689.5,521.8 L1685.5,517.8 L1681.5,507.4 L1677.5,499.0 L1673.5,490.7 L1669.5,482.0 L1665.5,473.6 L1661.5,463.2 L1657.5,466.4 L1653.5,447.0 L1649.5,438.1 L1645.5,435.4 L1641.5,431.3 L1637.5,434.2 L1633.5,430.6 L1629.5,431.7 L1625.5,433.8 L1621.5,443.2 L1617.5,444.3 L1613.5,437.3 L1609.5,439.8 L1605.5,443.8 L1601.5,448.0 L1597.5,455.0 L1593.5,459.8 L1589.5,461.4 L1585.5,462.0 L1581.5,473.1 L1577.5,477.9 L1573.5,471.3 L1569.5,472.5 L1565.5,472.7 L1561.5,472.9 L1557.5,473.8 L1553.5,473.1 L1549.5,474.5 L1545.5,475.6 L1541.5,480.9 L1537.5,478.0 L1533.5,476.9 L1529.5,471.8 L1525.5,469.3 L1521.5,465.4 L1517.5,458.9 L1513.5,469.9 L1509.5,457.0 L1505.5,454.9 L1501.5,473.4 L1497.5,455.8 L1493.5,456.0 L1489.5,458.3 L1485.5,455.9 L1481.5,468.8 L1477.5,448.0 L1473.5,468.1 L1469.5,468.7 L1465.5,447.0 L1461.5,446.8 L1457.5,453.9 L1453.5,457.9 L1449.5,454.6 L1445.5,443.7 L1441.5,445.8 L1437.5,448.8 L1433.5,446.7 L1429.5,455.1 L1425.5,460.4 L1421.5,457.8 L1417.5,445.9 L1413.5,454.3 L1409.5,454.7 L1405.5,461.2 L1401.5,470.1 L1397.5,458.1 L1393.5,461.3 L1389.5,461.2 L1385.5,463.4 L1381.5,474.6 L1377.5,467.4 L1373.5,468.1 L1369.5,468.6 L1365.5,468.6 L1361.5,476.2 L1357.5,479.5 L1353.5,467.6 L1349.5,469.0 L1345.5,478.7 L1341.5,461.7 L1337.5,460.8 L1333.5,475.1 L1329.5,472.3 L1325.5,475.6 L1321.5,480.9 L1317.5,482.1 L1313.5,477.7 L1309.5,479.8 L1305.5,478.2 L1301.5,479.3 L1297.5,495.7 L1293.5,495.8 L1289.5,479.6 L1285.5,475.5 L1281.5,495.9 L1277.5,483.5 L1273.5,484.3 L1269.5,478.7 L1265.5,477.0 L1261.5,475.5 L1257.5,484.3 L1253.5,490.4 L1249.5,496.0 L1245.5,495.4 L1241.5,486.0 L1237.5,473.6 L1233.5,489.9 L1229.5,495.0 L1225.5,468.3 L1221.5,469.9 L1217.5,474.9 L1213.5,477.3 L1209.5,478.4 L1205.5,469.9 L1201.5,470.0 L1197.5,473.7 L1193.5,481.3 L1189.5,473.7 L1185.5,491.2 L1181.5,484.3 L1177.5,493.5 L1173.5,473.9 L1169.5,469.4 L1165.5,466.4 L1161.5,490.2 L1157.5,488.5 L1153.5,468.6 L1149.5,462.1 L1145.5,461.3 L1141.5,460.5 L1137.5,474.9 L1133.5,473.8 L1129.5,474.4 L1125.5,460.4 L1121.5,459.4 L1117.5,474.8 L1113.5,459.2 L1109.5,464.5 L1105.5,450.7 L1101.5,447.2 L1097.5,446.7 L1093.5,450.2 L1089.5,453.5 L1085.5,453.9 L1081.5,455.2 L1077.5,442.6 L1073.5,442.2 L1069.5,430.1 L1065.5,423.2 L1061.5,428.4 L1057.5,423.9 L1053.5,436.1 L1049.5,420.3 L1045.5,424.8 L1041.5,421.5 L1037.5,416.3 L1033.5,416.1 L1029.5,415.1 L1025.5,421.8 L1021.5,424.4 L1017.5,437.3 L1013.5,436.6 L1009.5,436.9 L1005.5,421.4 L1001.5,424.1 L997.5,429.5 L993.5,437.3 L989.5,438.2 L985.5,448.1 L981.5,438.5 L977.5,433.5 L973.5,446.7 L969.5,441.2 L965.5,438.4 L961.5,439.3 L957.5,437.2 L953.5,434.9 L949.5,439.4 L945.5,436.0 L941.5,459.8 L937.5,459.4 L933.5,444.5 L929.5,448.3 L925.5,447.3 L921.5,440.5 L917.5,447.0 L913.5,436.6 L909.5,446.3 L905.5,422.1 L901.5,432.9 L897.5,436.3 L893.5,437.6 L889.5,437.3 L885.5,431.6 L881.5,428.7 L877.5,424.9 L873.5,426.5 L869.5,426.2 L865.5,426.1 L861.5,427.3 L857.5,431.5 L853.5,435.5 L849.5,442.5 L845.5,440.2 L841.5,429.2 L837.5,430.3 L833.5,431.7 L829.5,431.5 L825.5,432.9 L821.5,436.5 L817.5,434.2 L813.5,437.4 L809.5,438.4 L805.5,438.5 L801.5,436.1 L797.5,434.2 L793.5,432.5 L789.5,426.1 L785.5,430.5 L781.5,433.9 L777.5,439.6 L773.5,446.0 L769.5,429.2 L765.5,428.2 L761.5,427.8 L757.5,426.4 L753.5,428.4 L749.5,434.4 L745.5,433.7 L741.5,436.3 L737.5,438.1 L733.5,433.2 L729.5,431.3 L725.5,427.7 L721.5,431.5 L717.5,439.7 L713.5,437.9 L709.5,437.3 L705.5,427.8 L701.5,437.0 L697.5,436.4 L693.5,435.0 L689.5,431.4 L685.5,433.8 L681.5,437.0 L677.5,436.5 L673.5,435.0 L669.5,438.8 L665.5,425.4 L661.5,424.2 L657.5,424.0 L653.5,425.6 L649.5,442.5 L645.5,443.3 L641.5,447.4 L637.5,430.0 L633.5,432.3 L629.5,433.2 L625.5,438.0 L621.5,440.8 L617.5,437.5 L613.5,424.3 L609.5,424.9 L605.5,429.2 L601.5,432.9 L597.5,430.6 L593.5,429.6 L589.5,427.1 L585.5,428.0 L581.5,425.4 L577.5,427.1 L573.5,427.4 L569.5,426.4 L565.5,426.9 L561.5,431.1 L557.5,428.8 L553.5,425.5 L549.5,413.3 L545.5,415.0 L541.5,416.3 L537.5,416.2 L533.5,416.4 L529.5,417.2 L525.5,417.7 L521.5,417.3 L517.5,415.9 L513.5,427.3 L509.5,411.7 L505.5,417.6 L501.5,419.1 L497.5,420.0 L493.5,414.5 L489.5,413.7 L485.5,415.2 L481.5,423.4 L477.5,418.1 L473.5,418.1 L469.5,417.4 L465.5,428.1 L461.5,426.4 L457.5,416.6 L453.5,432.2 L449.5,432.7 L445.5,435.9 L441.5,429.1 L437.5,421.9 L433.5,432.9 L429.5,427.6 L425.5,420.6 L421.5,415.3 L417.5,412.0 L413.5,416.3 L409.5,418.3 L405.5,419.7 L401.5,425.7 L397.5,429.7 L393.5,429.0 L389.5,419.7 L385.5,413.0 L381.5,417.3 L377.5,423.4 L373.5,423.7 L369.5,418.3 L365.5,415.9 L361.5,415.7 L357.5,413.2 L353.5,407.7 L349.5,404.1 L345.5,408.2 L341.5,408.9 L337.5,411.1 L333.5,411.8 L329.5,411.7 L325.5,411.5 L321.5,408.1 L317.5,411.1 L313.5,412.7 L309.5,427.1 L305.5,414.8 L301.5,423.4 L297.5,415.9 L293.5,411.4 L289.5,414.5 L285.5,411.6 L281.5,410.6 L277.5,409.0 L273.5,417.5 L269.5,416.2 L265.5,405.1 L261.5,408.3 L257.5,410.8 L253.5,411.0 L249.5,413.4 L245.5,408.7 L241.5,412.6 L237.5,414.3 L233.5,414.8 L229.5,408.9 L225.5,406.7 L221.5,406.2 L217.5,407.1 L213.5,407.4 L209.5,406.1 L205.5,406.5 L201.5,409.6 L197.5,409.5 L193.5,418.3 L189.5,405.0 L185.5,405.7 L181.5,408.9 L177.5,412.1 L173.5,417.4 L169.5,417.3 L165.5,426.7 L161.5,413.7 L157.5,426.5 L153.5,413.1 L149.5,413.8 Z" fill="#0000ff" stroke="#0000ff" stroke-width="2" stroke-linejoin="round"/>
<path d="M149.5,396.0 L152.5,395.9 L155.5,395.8 L158.5,395.7 L161.5,395.7 L164.5,395.6 L167.5,395.5 L170.5,395.5 L173.5,395.4 L176.5,395.3 L179.5,395.3 L182.5,395.3 L185.5,395.2 L188.5,395.2 L191.5,395.1 L194.5,395.1 L197.5,395.1 L200.5,395.1 L203.5,395.1 L206.5,395.0 L209.5,395.0 L212.5,395.0 L215.5,395.0 L218.5,395.0 L221.5,395.0 L224.5,395.0 L227.5,395.0 L230.5,395.0 L233.5,395.0 L236.5,395.0 L239.5,395.0 L242.5,395.0 L245.5,395.1 L248.5,395.1 L251.5,395.2 L254.5,395.3 L257.5,395.4 L260.5,395.5 L263.5,395.6 L266.5,395.8 L269.5,395.9 L272.5,396.1 L275.5,396.2 L278.5,396.4 L281.5,396.6 L284.5,396.8 L287.5,397.0 L290.5,397.2 L293.5,397.4 L296.5,397.6 L299.5,397.8 L302.5,398.0 L305.5,398.2 L308.5,398.4 L311.5,398.6 L314.5,398.8 L317.5,399.0 L320.5,399.2 L323.5,399.3 L326.5,399.5 L329.5,399.7 L332.5,399.8 L335.5,400.0 L338.5,400.1 L341.5,400.3 L344.5,400.4 L347.5,400.6 L350.5,400.7 L353.5,400.9 L356.5,401.0 L359.5,401.2 L362.5,401.4 L365.5,401.5 L368.5,401.7 L371.5,401.8 L374.5,402.0 L377.5,402.2 L380.5,402.3 L383.5,402.5 L386.5,402.6 L389.5,402.8 L392.5,402.9 L395.5,403.0 L398.5,403.2 L401.5,403.3 L404.5,403.4 L407.5,403.5 L410.5,403.6 L413.5,403.7 L416.5,403.8 L419.5,403.8 L422.5,403.9 L425.5,403.9 L428.5,404.0 L431.5,404.0 L434.5,404.0 L437.5,404.0 L440.5,404.0 L443.5,404.0 L446.5,404.0 L449.5,404.0 L452.5,404.0 L455.5,404.0 L458.5,404.0 L461.5,404.0 L464.5,404.0 L467.5,404.0 L470.5,404.0 L473.5,404.0 L476.5,404.0 L479.5,404.0 L482.5,404.0 L485.5,404.0 L488.5,404.0 L491.5,404.0 L494.5,404.0 L497.5,404.0 L500.5,404.0 L503.5,404.1 L506.5,404.2 L509.5,404.3 L512.5,404.5 L515.5,404.8 L518.5,405.1 L521.5,405.4 L524.5,405.7 L527.5,406.1 L530.5,406.4 L533.5,406.8 L536.5,407.2 L539.5,407.6 L542.5,407.9 L545.5,408.3 L548.5,408.6 L551.5,409.0 L554.5,409.3 L557.5,409.5 L560.5,409.7 L563.5,409.9 L566.5,410.1 L569.5,410.2 L572.5,410.3 L575.5,410.4 L578.5,410.5 L581.5,410.6 L584.5,410.7 L587.5,410.7 L590.5,410.8 L593.5,410.9 L596.5,411.0 L599.5,411.0 L602.5,411.1 L605.5,411.2 L608.5,411.2 L611.5,411.3 L614.5,411.4 L617.5,411.5 L620.5,411.6 L623.5,411.7 L626.5,411.8 L629.5,412.0 L632.5,412.1 L635.5,412.4 L638.5,412.7 L641.5,413.0 L644.5,413.4 L647.5,413.8 L650.5,414.2 L653.5,414.7 L656.5,415.2 L659.5,415.7 L662.5,416.2 L665.5,416.7 L668.5,417.1 L671.5,417.6 L674.5,418.1 L677.5,418.5 L680.5,418.8 L683.5,419.2 L686.5,419.5 L689.5,419.7 L692.5,419.9 L695.5,420.0 L698.5,420.0 L701.5,420.0 L704.5,419.9 L707.5,419.9 L710.5,419.8 L713.5,419.7 L716.5,419.6 L719.5,419.5 L722.5,419.4 L725.5,419.2 L728.5,419.1 L731.5,419.0 L734.5,418.8 L737.5,418.7 L740.5,418.6 L743.5,418.4 L746.5,418.3 L749.5,418.2 L752.5,418.1 L755.5,418.1 L758.5,418.0 L761.5,418.0 L764.5,418.0 L767.5,418.0 L770.5,418.0 L773.5,418.0 L776.5,418.0 L779.5,418.0 L782.5,418.0 L785.5,418.0 L788.5,418.0 L791.5,418.0 L794.5,418.0 L797.5,418.0 L800.5,418.0 L803.5,418.0 L806.5,418.0 L809.5,418.0 L812.5,418.0 L815.5,418.0 L818.5,418.0 L821.5,418.0 L824.5,418.0 L827.5,418.0 L830.5,418.0 L833.5,418.0 L836.5,418.0 L839.5,417.9 L842.5,417.9 L845.5,417.8 L848.5,417.8 L851.5,417.7 L854.5,417.7 L857.5,417.6 L860.5,417.5 L863.5,417.5 L866.5,417.4 L869.5,417.3 L872.5,417.3 L875.5,417.2 L878.5,417.1 L881.5,417.1 L884.5,417.1 L887.5,417.0 L890.5,417.0 L893.5,417.0 L896.5,417.0 L899.5,417.1 L902.5,417.3 L905.5,417.5 L908.5,417.8 L911.5,418.1 L914.5,418.4 L917.5,418.8 L920.5,419.2 L923.5,419.6 L926.5,420.0 L929.5,420.4 L932.5,420.8 L935.5,421.2 L938.5,421.6 L941.5,421.9 L944.5,422.2 L947.5,422.5 L950.5,422.7 L953.5,422.9 L956.5,423.0 L959.5,423.0 L962.5,422.9 L965.5,422.6 L968.5,422.1 L971.5,421.5 L974.5,420.8 L977.5,420.0 L980.5,419.2 L983.5,418.2 L986.5,417.2 L989.5,416.2 L992.5,415.2 L995.5,414.1 L998.5,413.1 L1001.5,412.1 L1004.5,411.2 L1007.5,410.4 L1010.5,409.7 L1013.5,409.0 L1016.5,408.6 L1019.5,408.2 L1022.5,408.0 L1025.5,408.0 L1028.5,408.0 L1031.5,408.0 L1034.5,408.0 L1037.5,408.0 L1040.5,408.0 L1043.5,408.0 L1046.5,408.0 L1049.5,408.2 L1052.5,408.8 L1055.5,409.7 L1058.5,411.0 L1061.5,412.5 L1064.5,414.2 L1067.5,416.0 L1070.5,417.8 L1073.5,419.7 L1076.5,421.8 L1079.5,424.6 L1082.5,427.7 L1085.5,431.0 L1088.5,434.2 L1091.5,437.1 L1094.5,439.2 L1097.5,440.6 L1100.5,441.5 L1103.5,442.3 L1106.5,443.1 L1109.5,444.0 L1112.5,444.8 L1115.5,445.7 L1118.5,446.5 L1121.5,447.4 L1124.5,448.3 L1127.5,449.1 L1130.5,449.9 L1133.5,450.8 L1136.5,451.6 L1139.5,452.3 L1142.5,453.1 L1145.5,453.7 L1148.5,454.4 L1151.5,455.0 L1154.5,455.6 L1157.5,456.0 L1160.5,456.5 L1163.5,456.8 L1166.5,457.1 L1169.5,457.4 L1172.5,457.7 L1175.5,458.0 L1178.5,458.3 L1181.5,458.5 L1184.5,458.8 L1187.5,459.0 L1190.5,459.3 L1193.5,459.5 L1196.5,459.7 L1199.5,459.9 L1202.5,460.1 L1205.5,460.3 L1208.5,460.4 L1211.5,460.6 L1214.5,460.7 L1217.5,460.8 L1220.5,460.9 L1223.5,460.9 L1226.5,461.0 L1229.5,461.0 L1232.5,461.0 L1235.5,461.0 L1238.5,461.0 L1241.5,461.0 L1244.5,461.0 L1247.5,460.9 L1250.5,460.9 L1253.5,460.9 L1256.5,460.8 L1259.5,460.8 L1262.5,460.7 L1265.5,460.7 L1268.5,460.6 L1271.5,460.6 L1274.5,460.5 L1277.5,460.5 L1280.5,460.4 L1283.5,460.3 L1286.5,460.3 L1289.5,460.2 L1292.5,460.1 L1295.5,460.0 L1298.5,459.9 L1301.5,459.7 L1304.5,459.5 L1307.5,459.2 L1310.5,458.9 L1313.5,458.5 L1316.5,458.1 L1319.5,457.6 L1322.5,457.1 L1325.5,456.6 L1328.5,456.1 L1331.5,455.5 L1334.5,454.9 L1337.5,454.4 L1340.5,453.8 L1343.5,453.2 L1346.5,452.6 L1349.5,452.0 L1352.5,451.5 L1355.5,450.9 L1358.5,450.4 L1361.5,449.9 L1364.5,449.4 L1367.5,448.9 L1370.5,448.5 L1373.5,448.0 L1376.5,447.5 L1379.5,447.0 L1382.5,446.5 L1385.5,445.9 L1388.5,445.4 L1391.5,444.9 L1394.5,444.4 L1397.5,443.9 L1400.5,443.4 L1403.5,442.9 L1406.5,442.4 L1409.5,441.9 L1412.5,441.4 L1415.5,440.9 L1418.5,440.4 L1421.5,439.9 L1424.5,439.4 L1427.5,438.9 L1430.5,438.4 L1433.5,437.8 L1436.5,437.2 L1439.5,436.6 L1442.5,436.0 L1445.5,435.4 L1448.5,434.9 L1451.5,434.5 L1454.5,434.2 L1457.5,434.0 L1460.5,434.0 L1463.5,434.2 L1466.5,434.5 L1469.5,435.0 L1472.5,435.5 L1475.5,436.1 L1478.5,436.8 L1481.5,437.5 L1484.5,438.3 L1487.5,439.0 L1490.5,439.7 L1493.5,440.3 L1496.5,441.1 L1499.5,441.9 L1502.5,442.7 L1505.5,443.7 L1508.5,444.7 L1511.5,445.7 L1514.5,446.7 L1517.5,447.8 L1520.5,448.8 L1523.5,449.9 L1526.5,450.9 L1529.5,451.9 L1532.5,452.8 L1535.5,453.7 L1538.5,454.4 L1541.5,455.2 L1544.5,455.8 L1547.5,456.3 L1550.5,456.6 L1553.5,456.9 L1556.5,457.0 L1559.5,457.0 L1562.5,456.9 L1565.5,456.7 L1568.5,456.4 L1571.5,456.0 L1574.5,455.6 L1577.5,455.0 L1580.5,454.4 L1583.5,453.7 L1586.5,453.0 L1589.5,452.1 L1592.5,450.5 L1595.5,447.3 L1598.5,443.3 L1601.5,439.1 L1604.5,435.5 L1607.5,432.6 L1610.5,429.5 L1613.5,426.5 L1616.5,423.7 L1619.5,421.4 L1622.5,419.7 L1625.5,419.0 L1628.5,419.0 L1631.5,419.1 L1634.5,419.3 L1637.5,419.5 L1640.5,419.8 L1643.5,420.5 L1646.5,423.4 L1649.5,428.1 L1652.5,433.9 L1655.5,440.1 L1658.5,446.1 L1661.5,451.6 L1664.5,457.5 L1667.5,463.8 L1670.5,470.2 L1673.5,476.7 L1676.5,483.4 L1679.5,490.4 L1682.5,497.5 L1685.5,504.6 L1688.5,511.6 L1691.5,519.4 L1694.5,527.0 L1697.5,533.1 L1700.5,536.3 L1703.5,538.2 L1706.5,539.9 L1709.5,541.5 L1712.5,542.9 L1715.5,544.1 L1718.5,545.2 L1721.5,546.2 L1724.5,547.0 L1727.5,547.8 L1730.5,548.4 L1733.5,549.0 L1736.5,549.4 L1739.5,549.8 L1742.5,550.2 L1745.5,550.5 L1748.5,550.8 L1751.5,551.1 L1754.5,551.4 L1757.5,551.6 L1760.5,551.9 L1763.5,552.1 L1766.5,552.3 L1769.5,552.6 L1772.5,552.7 L1775.5,552.9 L1778.5,553.1 L1781.5,553.3 L1784.5,553.4 L1787.5,553.5 L1790.5,553.6 L1793.5,553.7 L1796.5,553.8 L1799.5,553.9 L1802.5,554.0 L1805.5,554.1 L1808.5,554.1 L1811.5,554.2 L1814.5,554.2 L1817.5,554.3 L1820.5,554.3 L1823.5,554.3 L1826.5,554.4 L1829.5,554.4 L1832.5,554.4 L1835.5,554.5 L1838.5,554.5 L1841.5,554.5 L1844.5,554.5 L1847.5,554.6 L1850.5,554.6 L1853.5,554.6 L1856.5,554.6 L1859.5,554.7 L1862.5,554.7 L1865.5,554.7 L1868.5,554.8 L1871.5,554.8 L1874.5,554.8 L1877.5,554.9 L1880.5,554.9 L1883.5,555.0 L1886.5,555.0 L1889.5,555.1 L1892.5,555.2 L1895.5,555.2 L1898.5,555.3 L1901.5,555.4 L1904.5,555.4 L1907.5,555.5 L1910.5,555.6 L1913.5,555.7 L1916.5,555.8 L1919.5,555.9 L1922.5,556.0 L1925.5,556.1 L1928.5,556.2 L1931.5,556.3 L1934.5,556.5 L1937.5,556.6 L1940.5,556.7 L1943.5,556.8 L1946.5,556.9 L1949.5,557.1 L1952.5,557.2 L1955.5,557.3 L1958.5,557.5 L1961.5,557.6 L1964.5,557.7 L1967.5,557.9 L1970.5,558.0" fill="none" stroke="#0000ff" stroke-width="15" stroke-linejoin="round" stroke-linecap="butt"/>
<path d="M149.5,558.4 L153.5,561.5 L157.5,565.9 L161.5,564.5 L165.5,563.3 L169.5,553.6 L173.5,546.9 L177.5,555.6 L181.5,560.0 L185.5,571.3 L189.5,572.2 L193.5,557.7 L197.5,553.5 L201.5,544.4 L205.5,544.5 L209.5,558.1 L213.5,556.8 L217.5,555.5 L221.5,554.6 L225.5,524.2 L229.5,556.1 L233.5,557.3 L237.5,558.9 L241.5,548.2 L245.5,548.3 L249.5,548.4 L253.5,559.2 L257.5,555.7 L261.5,556.4 L265.5,557.5 L269.5,558.5 L273.5,549.3 L277.5,558.4 L281.5,532.3 L285.5,538.3 L289.5,536.0 L293.5,527.2 L297.5,543.7 L301.5,543.8 L305.5,541.1 L309.5,548.0 L313.5,557.4 L317.5,558.4 L321.5,551.1 L325.5,551.6 L329.5,555.3 L333.5,565.7 L337.5,563.0 L341.5,562.6 L345.5,565.1 L349.5,561.8 L353.5,562.2 L357.5,564.6 L361.5,542.0 L365.5,538.1 L369.5,534.1 L373.5,529.7 L377.5,546.9 L381.5,540.3 L385.5,538.9 L389.5,538.9 L393.5,534.7 L397.5,553.4 L401.5,553.5 L405.5,562.2 L409.5,544.8 L413.5,560.4 L417.5,561.6 L421.5,552.9 L425.5,548.8 L429.5,551.2 L433.5,559.1 L437.5,562.6 L441.5,564.2 L445.5,563.0 L449.5,561.6 L453.5,561.4 L457.5,561.9 L461.5,545.4 L465.5,564.8 L469.5,568.1 L473.5,574.0 L477.5,568.7 L481.5,565.0 L485.5,569.2 L489.5,565.1 L493.5,563.7 L497.5,552.5 L501.5,559.8 L505.5,549.1 L509.5,562.6 L513.5,553.8 L517.5,566.2 L521.5,568.9 L525.5,570.4 L529.5,558.2 L533.5,567.7 L537.5,567.2 L541.5,568.5 L545.5,548.7 L549.5,560.0 L553.5,560.9 L557.5,561.3 L561.5,571.2 L565.5,568.8 L569.5,568.3 L573.5,571.0 L577.5,573.3 L581.5,575.3 L585.5,578.4 L589.5,582.6 L593.5,586.1 L597.5,578.8 L601.5,579.4 L605.5,583.0 L609.5,581.5 L613.5,573.4 L617.5,589.0 L621.5,576.9 L625.5,587.0 L629.5,586.8 L633.5,586.6 L637.5,586.4 L641.5,586.2 L645.5,587.5 L649.5,587.5 L653.5,587.0 L657.5,586.2 L661.5,585.1 L665.5,562.2 L669.5,584.3 L673.5,583.5 L677.5,582.7 L681.5,572.3 L685.5,574.5 L689.5,576.8 L693.5,562.3 L697.5,578.7 L701.5,578.9 L705.5,575.4 L709.5,576.1 L713.5,579.6 L717.5,580.2 L721.5,554.0 L725.5,570.8 L729.5,577.7 L733.5,571.6 L737.5,571.8 L741.5,571.3 L745.5,568.5 L749.5,567.5 L753.5,573.2 L757.5,550.7 L761.5,550.3 L765.5,573.7 L769.5,554.2 L773.5,550.8 L777.5,548.8 L781.5,549.0 L785.5,549.9 L789.5,567.5 L793.5,567.1 L797.5,568.4 L801.5,552.9 L805.5,555.5 L809.5,557.8 L813.5,571.5 L817.5,561.0 L821.5,561.3 L825.5,563.6 L829.5,568.2 L833.5,570.4 L837.5,571.1 L841.5,562.1 L845.5,575.5 L849.5,554.0 L853.5,553.2 L857.5,559.8 L861.5,558.7 L865.5,573.9 L869.5,572.6 L873.5,574.3 L877.5,572.5 L881.5,576.0 L885.5,576.7 L889.5,576.3 L893.5,575.6 L897.5,576.3 L901.5,579.3 L905.5,579.5 L909.5,560.6 L913.5,557.2 L917.5,557.1 L921.5,574.5 L925.5,569.5 L929.5,569.3 L933.5,565.5 L937.5,559.5 L941.5,569.6 L945.5,578.3 L949.5,572.1 L953.5,576.2 L957.5,579.0 L961.5,568.1 L965.5,563.7 L969.5,566.6 L973.5,565.7 L977.5,564.7 L981.5,564.2 L985.5,556.9 L989.5,562.5 L993.5,558.0 L997.5,558.3 L1001.5,557.8 L1005.5,556.6 L1009.5,553.5 L1013.5,554.8 L1017.5,555.3 L1021.5,554.7 L1025.5,553.6 L1029.5,553.1 L1033.5,555.9 L1037.5,563.5 L1041.5,568.9 L1045.5,554.2 L1049.5,549.8 L1053.5,548.9 L1057.5,561.2 L1061.5,565.4 L1065.5,568.9 L1069.5,579.7 L1073.5,577.6 L1077.5,587.2 L1081.5,591.6 L1085.5,595.9 L1089.5,600.1 L1093.5,606.5 L1097.5,591.9 L1101.5,593.7 L1105.5,612.7 L1109.5,615.7 L1113.5,620.6 L1117.5,627.7 L1121.5,626.3 L1125.5,626.5 L1129.5,636.3 L1133.5,623.2 L1137.5,625.8 L1141.5,633.2 L1145.5,638.0 L1149.5,646.7 L1153.5,643.0 L1157.5,635.1 L1161.5,644.7 L1165.5,635.7 L1169.5,649.5 L1173.5,633.3 L1177.5,630.6 L1181.5,629.9 L1185.5,651.3 L1189.5,652.5 L1193.5,651.0 L1197.5,652.5 L1201.5,657.7 L1205.5,642.9 L1209.5,643.9 L1213.5,664.6 L1217.5,661.2 L1221.5,661.3 L1225.5,660.5 L1229.5,656.8 L1233.5,653.9 L1237.5,654.3 L1241.5,664.5 L1245.5,664.3 L1249.5,662.7 L1253.5,641.5 L1257.5,639.9 L1261.5,638.9 L1265.5,651.8 L1269.5,650.7 L1273.5,652.6 L1277.5,632.8 L1281.5,645.7 L1285.5,650.3 L1289.5,629.7 L1293.5,640.0 L1297.5,631.4 L1301.5,640.1 L1305.5,636.7 L1309.5,635.3 L1313.5,636.0 L1317.5,643.9 L1321.5,639.0 L1325.5,641.5 L1329.5,637.8 L1333.5,622.3 L1337.5,639.5 L1341.5,627.5 L1345.5,612.0 L1349.5,609.8 L1353.5,607.6 L1357.5,608.1 L1361.5,610.1 L1365.5,606.2 L1369.5,604.3 L1373.5,615.7 L1377.5,627.5 L1381.5,627.1 L1385.5,626.4 L1389.5,624.5 L1393.5,620.6 L1397.5,619.4 L1401.5,619.2 L1405.5,621.6 L1409.5,625.3 L1413.5,630.3 L1417.5,626.7 L1421.5,623.7 L1425.5,622.2 L1429.5,620.7 L1433.5,619.1 L1437.5,618.1 L1441.5,616.4 L1445.5,609.4 L1449.5,610.9 L1453.5,595.2 L1457.5,604.1 L1461.5,606.4 L1465.5,595.8 L1469.5,594.6 L1473.5,608.6 L1477.5,607.2 L1481.5,591.9 L1485.5,613.4 L1489.5,617.3 L1493.5,621.1 L1497.5,620.0 L1501.5,622.8 L1505.5,635.2 L1509.5,638.4 L1513.5,641.2 L1517.5,645.2 L1521.5,638.7 L1525.5,641.2 L1529.5,645.8 L1533.5,663.9 L1537.5,667.0 L1541.5,670.3 L1545.5,673.9 L1549.5,674.1 L1553.5,667.3 L1557.5,667.8 L1561.5,660.5 L1565.5,674.7 L1569.5,666.6 L1573.5,670.1 L1577.5,666.3 L1581.5,661.9 L1585.5,664.1 L1589.5,643.0 L1593.5,654.9 L1597.5,650.0 L1601.5,639.7 L1605.5,631.4 L1609.5,634.7 L1613.5,639.1 L1617.5,635.4 L1621.5,628.1 L1625.5,626.6 L1629.5,625.3 L1633.5,629.9 L1637.5,631.4 L1641.5,629.4 L1645.5,637.1 L1649.5,637.3 L1653.5,662.7 L1657.5,672.3 L1661.5,686.8 L1665.5,685.4 L1669.5,709.7 L1673.5,722.8 L1677.5,739.9 L1681.5,749.7 L1685.5,742.6 L1689.5,768.8 L1693.5,767.2 L1697.5,774.3 L1701.5,787.4 L1705.5,793.1 L1709.5,798.3 L1713.5,802.7 L1717.5,806.3 L1721.5,808.9 L1725.5,810.5 L1729.5,812.9 L1733.5,815.6 L1737.5,795.2 L1741.5,812.4 L1745.5,812.2 L1749.5,812.0 L1753.5,815.0 L1757.5,828.2 L1761.5,828.9 L1765.5,826.9 L1769.5,831.5 L1773.5,837.3 L1777.5,839.0 L1781.5,833.0 L1785.5,833.0 L1789.5,831.4 L1793.5,831.1 L1797.5,817.6 L1801.5,821.3 L1805.5,828.3 L1809.5,830.3 L1813.5,830.3 L1817.5,826.1 L1821.5,826.1 L1825.5,826.1 L1829.5,808.2 L1833.5,809.8 L1837.5,810.6 L1841.5,832.2 L1845.5,820.7 L1849.5,819.5 L1853.5,818.5 L1857.5,816.6 L1861.5,815.8 L1865.5,816.1 L1869.5,814.4 L1873.5,810.7 L1877.5,808.8 L1881.5,824.6 L1885.5,825.0 L1889.5,825.7 L1893.5,829.4 L1897.5,832.4 L1901.5,835.9 L1905.5,830.4 L1909.5,822.7 L1913.5,823.2 L1917.5,820.6 L1921.5,820.9 L1925.5,820.3 L1929.5,832.9 L1933.5,831.6 L1937.5,833.0 L1941.5,835.8 L1945.5,835.0 L1949.5,836.1 L1953.5,831.7 L1957.5,828.5 L1961.5,826.2 L1965.5,826.4 L1969.5,830.7 L1969.5,855.1 L1965.5,853.8 L1961.5,853.6 L1957.5,865.8 L1953.5,868.8 L1949.5,868.7 L1945.5,858.7 L1941.5,857.9 L1937.5,858.2 L1933.5,856.8 L1929.5,858.2 L1925.5,870.6 L1921.5,847.8 L1917.5,847.5 L1913.5,856.0 L1909.5,851.0 L1905.5,854.1 L1901.5,865.9 L1897.5,861.6 L1893.5,852.8 L1889.5,848.6 L1885.5,870.9 L1881.5,871.0 L1877.5,846.6 L1873.5,848.4 L1869.5,874.8 L1865.5,856.6 L1861.5,864.6 L1857.5,865.4 L1853.5,859.1 L1849.5,858.3 L1845.5,860.9 L1841.5,866.2 L1837.5,866.2 L1833.5,865.4 L1829.5,859.1 L1825.5,858.3 L1821.5,854.1 L1817.5,854.0 L1813.5,860.9 L1809.5,861.4 L1805.5,855.5 L1801.5,850.0 L1797.5,862.0 L1793.5,858.3 L1789.5,860.0 L1785.5,864.0 L1781.5,859.0 L1777.5,878.2 L1773.5,856.3 L1769.5,850.7 L1765.5,867.8 L1761.5,852.4 L1757.5,851.8 L1753.5,863.8 L1749.5,861.4 L1745.5,856.2 L1741.5,850.5 L1737.5,842.7 L1733.5,849.0 L1729.5,843.5 L1725.5,841.2 L1721.5,839.5 L1717.5,836.9 L1713.5,833.3 L1709.5,832.2 L1705.5,827.0 L1701.5,821.4 L1697.5,806.8 L1693.5,799.8 L1689.5,810.7 L1685.5,802.7 L1681.5,782.3 L1677.5,790.0 L1673.5,753.1 L1669.5,738.2 L1665.5,737.5 L1661.5,714.4 L1657.5,699.9 L1653.5,683.0 L1649.5,674.5 L1645.5,663.2 L1641.5,655.5 L1637.5,672.7 L1633.5,662.1 L1629.5,656.6 L1625.5,657.9 L1621.5,656.9 L1617.5,668.5 L1613.5,672.9 L1609.5,671.0 L1605.5,670.9 L1601.5,676.2 L1597.5,685.1 L1593.5,682.8 L1589.5,686.5 L1585.5,688.9 L1581.5,693.6 L1577.5,699.5 L1573.5,695.8 L1569.5,706.6 L1565.5,703.9 L1561.5,711.3 L1557.5,708.2 L1553.5,707.7 L1549.5,705.5 L1545.5,720.3 L1541.5,716.8 L1537.5,707.7 L1533.5,704.4 L1529.5,690.2 L1525.5,686.4 L1521.5,678.0 L1517.5,669.9 L1513.5,665.8 L1509.5,669.4 L1505.5,664.3 L1501.5,652.7 L1497.5,649.9 L1493.5,653.1 L1489.5,649.4 L1485.5,645.6 L1481.5,635.8 L1477.5,642.5 L1473.5,635.5 L1469.5,652.4 L1465.5,634.2 L1461.5,635.7 L1457.5,637.3 L1453.5,657.8 L1449.5,647.3 L1445.5,650.5 L1441.5,652.1 L1437.5,653.8 L1433.5,651.2 L1429.5,652.8 L1425.5,648.6 L1421.5,650.1 L1417.5,653.2 L1413.5,655.6 L1409.5,654.9 L1405.5,655.6 L1401.5,652.2 L1397.5,654.5 L1393.5,667.8 L1389.5,666.3 L1385.5,651.5 L1381.5,652.0 L1377.5,669.3 L1373.5,669.8 L1369.5,652.5 L1365.5,665.0 L1361.5,656.0 L1357.5,655.2 L1353.5,654.3 L1349.5,656.6 L1345.5,677.2 L1341.5,677.3 L1337.5,678.9 L1333.5,683.2 L1329.5,674.0 L1325.5,667.8 L1321.5,665.3 L1317.5,665.3 L1313.5,661.3 L1309.5,660.6 L1305.5,671.7 L1301.5,676.3 L1297.5,679.7 L1293.5,675.5 L1289.5,674.6 L1285.5,675.7 L1281.5,674.5 L1277.5,682.9 L1273.5,686.1 L1269.5,685.8 L1265.5,698.1 L1261.5,699.1 L1257.5,684.5 L1253.5,686.2 L1249.5,689.0 L1245.5,688.8 L1241.5,687.2 L1237.5,694.4 L1233.5,694.0 L1229.5,689.5 L1225.5,687.8 L1221.5,687.2 L1217.5,709.4 L1213.5,695.4 L1209.5,690.9 L1205.5,686.5 L1201.5,701.9 L1197.5,679.7 L1193.5,678.2 L1189.5,679.7 L1185.5,679.7 L1181.5,678.8 L1177.5,672.9 L1173.5,680.3 L1169.5,681.0 L1165.5,683.4 L1161.5,682.4 L1157.5,676.4 L1153.5,679.3 L1149.5,673.5 L1145.5,675.7 L1141.5,670.1 L1137.5,665.5 L1133.5,671.2 L1129.5,670.3 L1125.5,666.6 L1121.5,664.9 L1117.5,659.9 L1113.5,659.0 L1109.5,648.6 L1105.5,659.2 L1101.5,646.3 L1097.5,642.5 L1093.5,637.6 L1089.5,631.2 L1085.5,630.9 L1081.5,626.6 L1077.5,621.1 L1073.5,616.8 L1069.5,613.7 L1065.5,602.3 L1061.5,598.9 L1057.5,594.7 L1053.5,597.0 L1049.5,592.5 L1045.5,596.0 L1041.5,603.3 L1037.5,597.9 L1033.5,593.8 L1029.5,585.6 L1025.5,602.0 L1021.5,587.5 L1017.5,585.5 L1013.5,585.4 L1009.5,584.6 L1005.5,593.1 L1001.5,594.4 L997.5,605.4 L993.5,607.1 L989.5,602.5 L985.5,604.1 L981.5,597.8 L977.5,616.9 L973.5,602.4 L969.5,600.8 L965.5,594.0 L961.5,601.1 L957.5,612.1 L953.5,617.1 L949.5,617.4 L945.5,609.9 L941.5,612.1 L937.5,603.1 L933.5,602.1 L929.5,599.0 L925.5,605.8 L921.5,598.0 L917.5,606.0 L913.5,606.1 L909.5,604.9 L905.5,609.9 L901.5,609.7 L897.5,604.1 L893.5,602.0 L889.5,602.2 L885.5,606.3 L881.5,602.8 L877.5,605.8 L873.5,607.6 L869.5,606.0 L865.5,607.8 L861.5,596.6 L857.5,597.7 L853.5,601.3 L849.5,600.4 L845.5,598.9 L841.5,602.8 L837.5,602.2 L833.5,601.5 L829.5,596.4 L825.5,606.3 L821.5,609.9 L817.5,611.7 L813.5,610.9 L809.5,603.1 L805.5,600.8 L801.5,613.7 L797.5,610.9 L793.5,600.4 L789.5,595.3 L785.5,594.6 L781.5,594.6 L777.5,596.8 L773.5,609.5 L769.5,600.5 L765.5,602.4 L761.5,605.9 L757.5,606.3 L753.5,603.3 L749.5,609.9 L745.5,610.8 L741.5,607.1 L737.5,606.1 L733.5,604.6 L729.5,606.6 L725.5,609.2 L721.5,617.8 L717.5,611.9 L713.5,611.3 L709.5,617.6 L705.5,612.0 L701.5,616.0 L697.5,619.0 L693.5,621.2 L689.5,608.7 L685.5,606.4 L681.5,614.0 L677.5,616.5 L673.5,618.7 L669.5,615.2 L665.5,616.3 L661.5,611.4 L657.5,612.6 L653.5,617.5 L649.5,618.0 L645.5,617.9 L641.5,619.0 L637.5,619.3 L633.5,618.4 L629.5,618.6 L625.5,619.7 L621.5,621.3 L617.5,621.4 L613.5,620.5 L609.5,613.7 L605.5,617.1 L601.5,618.1 L597.5,614.1 L593.5,619.1 L589.5,615.2 L585.5,612.5 L581.5,609.4 L577.5,607.5 L573.5,604.6 L569.5,602.8 L565.5,603.3 L561.5,601.8 L557.5,619.8 L553.5,602.4 L549.5,601.5 L545.5,601.2 L541.5,603.7 L537.5,599.6 L533.5,625.1 L529.5,604.8 L525.5,605.4 L521.5,606.3 L517.5,598.7 L513.5,600.7 L509.5,608.7 L505.5,600.2 L501.5,616.0 L497.5,613.6 L493.5,593.9 L489.5,595.3 L485.5,598.9 L481.5,602.9 L477.5,599.9 L473.5,609.4 L469.5,611.3 L465.5,596.3 L461.5,593.6 L457.5,591.8 L453.5,588.6 L449.5,588.8 L445.5,593.9 L441.5,589.6 L437.5,591.7 L433.5,587.4 L429.5,585.9 L425.5,583.5 L421.5,587.6 L417.5,593.0 L413.5,597.2 L409.5,596.5 L405.5,595.6 L401.5,597.6 L397.5,590.5 L393.5,584.1 L389.5,582.7 L385.5,580.1 L381.5,578.8 L377.5,581.3 L373.5,588.4 L369.5,586.3 L365.5,605.1 L361.5,619.8 L357.5,591.4 L353.5,588.7 L349.5,592.6 L345.5,592.7 L341.5,613.7 L337.5,614.1 L333.5,612.3 L329.5,605.9 L325.5,602.2 L321.5,584.0 L317.5,587.9 L313.5,592.5 L309.5,583.7 L305.5,578.4 L301.5,576.4 L297.5,576.3 L293.5,581.4 L289.5,605.7 L285.5,586.4 L281.5,585.0 L277.5,585.0 L273.5,589.5 L269.5,598.5 L265.5,594.4 L261.5,611.1 L257.5,599.2 L253.5,589.9 L249.5,589.6 L245.5,596.6 L241.5,590.9 L237.5,588.6 L233.5,597.1 L229.5,601.1 L225.5,585.3 L221.5,590.9 L217.5,591.8 L213.5,592.5 L209.5,590.9 L205.5,585.0 L201.5,586.0 L197.5,585.9 L193.5,591.1 L189.5,601.2 L185.5,600.4 L181.5,589.0 L177.5,590.4 L173.5,591.2 L169.5,594.4 L165.5,598.4 L161.5,604.1 L157.5,619.7 L153.5,616.5 L149.5,600.4 Z" fill="#ff0000" stroke="#ff0000" stroke-width="2" stroke-linejoin="round"/>
<path d="M149.5,570.0 L152.5,570.1 L155.5,570.2 L158.5,570.3 L161.5,570.5 L164.5,570.6 L167.5,570.7 L170.5,570.8 L173.5,570.9 L176.5,571.0 L179.5,571.1 L182.5,571.3 L185.5,571.4 L188.5,571.5 L191.5,571.6 L194.5,571.7 L197.5,571.8 L200.5,571.9 L203.5,572.0 L206.5,572.1 L209.5,572.2 L212.5,572.3 L215.5,572.4 L218.5,572.5 L221.5,572.5 L224.5,572.6 L227.5,572.7 L230.5,572.8 L233.5,572.9 L236.5,573.0 L239.5,573.0 L242.5,573.1 L245.5,573.2 L248.5,573.3 L251.5,573.3 L254.5,573.4 L257.5,573.5 L260.5,573.5 L263.5,573.6 L266.5,573.7 L269.5,573.7 L272.5,573.8 L275.5,573.8 L278.5,573.9 L281.5,574.0 L284.5,574.0 L287.5,574.1 L290.5,574.1 L293.5,574.2 L296.5,574.2 L299.5,574.3 L302.5,574.4 L305.5,574.4 L308.5,574.5 L311.5,574.5 L314.5,574.6 L317.5,574.6 L320.5,574.7 L323.5,574.8 L326.5,574.8 L329.5,574.9 L332.5,574.9 L335.5,575.0 L338.5,575.1 L341.5,575.1 L344.5,575.2 L347.5,575.2 L350.5,575.3 L353.5,575.3 L356.5,575.4 L359.5,575.4 L362.5,575.5 L365.5,575.5 L368.5,575.6 L371.5,575.6 L374.5,575.7 L377.5,575.7 L380.5,575.7 L383.5,575.8 L386.5,575.8 L389.5,575.9 L392.5,576.0 L395.5,576.0 L398.5,576.1 L401.5,576.1 L404.5,576.2 L407.5,576.3 L410.5,576.3 L413.5,576.4 L416.5,576.5 L419.5,576.6 L422.5,576.6 L425.5,576.7 L428.5,576.8 L431.5,576.9 L434.5,577.0 L437.5,577.1 L440.5,577.3 L443.5,577.5 L446.5,577.7 L449.5,577.9 L452.5,578.2 L455.5,578.5 L458.5,578.8 L461.5,579.1 L464.5,579.4 L467.5,579.7 L470.5,580.0 L473.5,580.4 L476.5,580.7 L479.5,581.1 L482.5,581.4 L485.5,581.7 L488.5,582.0 L491.5,582.3 L494.5,582.6 L497.5,582.9 L500.5,583.1 L503.5,583.4 L506.5,583.6 L509.5,583.8 L512.5,584.0 L515.5,584.2 L518.5,584.4 L521.5,584.6 L524.5,584.8 L527.5,584.9 L530.5,585.1 L533.5,585.3 L536.5,585.5 L539.5,585.7 L542.5,585.9 L545.5,586.2 L548.5,586.4 L551.5,586.6 L554.5,586.9 L557.5,587.2 L560.5,587.5 L563.5,587.8 L566.5,588.2 L569.5,588.7 L572.5,589.3 L575.5,590.1 L578.5,590.9 L581.5,591.8 L584.5,592.8 L587.5,593.8 L590.5,594.7 L593.5,595.7 L596.5,596.6 L599.5,597.5 L602.5,598.2 L605.5,598.9 L608.5,599.4 L611.5,599.8 L614.5,600.0 L617.5,600.0 L620.5,600.0 L623.5,599.9 L626.5,599.8 L629.5,599.7 L632.5,599.6 L635.5,599.5 L638.5,599.3 L641.5,599.2 L644.5,599.0 L647.5,598.8 L650.5,598.6 L653.5,598.4 L656.5,598.1 L659.5,597.9 L662.5,597.6 L665.5,597.4 L668.5,597.1 L671.5,596.9 L674.5,596.6 L677.5,596.4 L680.5,596.1 L683.5,595.9 L686.5,595.6 L689.5,595.3 L692.5,594.9 L695.5,594.6 L698.5,594.2 L701.5,593.8 L704.5,593.4 L707.5,593.0 L710.5,592.5 L713.5,592.1 L716.5,591.6 L719.5,591.1 L722.5,590.6 L725.5,590.2 L728.5,589.7 L731.5,589.2 L734.5,588.7 L737.5,588.3 L740.5,587.8 L743.5,587.4 L746.5,587.0 L749.5,586.6 L752.5,586.2 L755.5,585.8 L758.5,585.5 L761.5,585.1 L764.5,584.9 L767.5,584.6 L770.5,584.3 L773.5,583.9 L776.5,583.6 L779.5,583.3 L782.5,583.0 L785.5,582.7 L788.5,582.4 L791.5,582.1 L794.5,581.8 L797.5,581.6 L800.5,581.3 L803.5,581.1 L806.5,580.9 L809.5,580.7 L812.5,580.5 L815.5,580.3 L818.5,580.2 L821.5,580.1 L824.5,580.0 L827.5,580.0 L830.5,580.0 L833.5,580.2 L836.5,580.4 L839.5,580.8 L842.5,581.2 L845.5,581.8 L848.5,582.4 L851.5,583.0 L854.5,583.8 L857.5,584.5 L860.5,585.2 L863.5,586.0 L866.5,586.8 L869.5,587.5 L872.5,588.2 L875.5,588.8 L878.5,589.4 L881.5,589.9 L884.5,590.4 L887.5,590.7 L890.5,590.9 L893.5,591.0 L896.5,591.0 L899.5,591.0 L902.5,590.9 L905.5,590.9 L908.5,590.8 L911.5,590.7 L914.5,590.7 L917.5,590.5 L920.5,590.4 L923.5,590.3 L926.5,590.2 L929.5,590.0 L932.5,589.8 L935.5,589.7 L938.5,589.5 L941.5,589.3 L944.5,589.1 L947.5,588.9 L950.5,588.7 L953.5,588.4 L956.5,588.2 L959.5,588.0 L962.5,587.6 L965.5,587.0 L968.5,586.2 L971.5,585.4 L974.5,584.3 L977.5,583.2 L980.5,582.1 L983.5,580.9 L986.5,579.6 L989.5,578.4 L992.5,577.2 L995.5,576.1 L998.5,575.1 L1001.5,574.1 L1004.5,573.3 L1007.5,572.7 L1010.5,572.3 L1013.5,572.0 L1016.5,572.0 L1019.5,572.4 L1022.5,573.0 L1025.5,573.9 L1028.5,574.9 L1031.5,576.1 L1034.5,577.3 L1037.5,578.6 L1040.5,579.8 L1043.5,581.0 L1046.5,582.3 L1049.5,583.7 L1052.5,585.2 L1055.5,586.8 L1058.5,588.5 L1061.5,590.2 L1064.5,592.1 L1067.5,594.1 L1070.5,596.2 L1073.5,598.4 L1076.5,600.8 L1079.5,603.6 L1082.5,606.6 L1085.5,609.9 L1088.5,613.2 L1091.5,616.7 L1094.5,620.2 L1097.5,623.9 L1100.5,628.3 L1103.5,632.4 L1106.5,635.4 L1109.5,637.7 L1112.5,639.8 L1115.5,641.9 L1118.5,643.9 L1121.5,645.8 L1124.5,647.6 L1127.5,649.3 L1130.5,650.9 L1133.5,652.4 L1136.5,653.8 L1139.5,655.1 L1142.5,656.4 L1145.5,657.5 L1148.5,658.6 L1151.5,659.6 L1154.5,660.5 L1157.5,661.3 L1160.5,662.0 L1163.5,662.7 L1166.5,663.3 L1169.5,663.9 L1172.5,664.4 L1175.5,665.0 L1178.5,665.5 L1181.5,666.1 L1184.5,666.6 L1187.5,667.1 L1190.5,667.5 L1193.5,668.0 L1196.5,668.4 L1199.5,668.8 L1202.5,669.2 L1205.5,669.5 L1208.5,669.8 L1211.5,670.1 L1214.5,670.4 L1217.5,670.6 L1220.5,670.7 L1223.5,670.9 L1226.5,670.9 L1229.5,671.0 L1232.5,671.0 L1235.5,670.9 L1238.5,670.7 L1241.5,670.4 L1244.5,670.0 L1247.5,669.5 L1250.5,669.0 L1253.5,668.4 L1256.5,667.8 L1259.5,667.1 L1262.5,666.4 L1265.5,665.6 L1268.5,664.8 L1271.5,664.1 L1274.5,663.3 L1277.5,662.5 L1280.5,661.7 L1283.5,660.9 L1286.5,660.1 L1289.5,659.4 L1292.5,658.7 L1295.5,658.1 L1298.5,657.5 L1301.5,656.9 L1304.5,656.3 L1307.5,655.6 L1310.5,655.0 L1313.5,654.3 L1316.5,653.7 L1319.5,653.0 L1322.5,652.4 L1325.5,651.7 L1328.5,651.1 L1331.5,650.5 L1334.5,649.8 L1337.5,649.2 L1340.5,648.6 L1343.5,648.0 L1346.5,647.5 L1349.5,646.9 L1352.5,646.4 L1355.5,645.9 L1358.5,645.4 L1361.5,644.9 L1364.5,644.5 L1367.5,644.1 L1370.5,643.7 L1373.5,643.3 L1376.5,643.0 L1379.5,642.7 L1382.5,642.4 L1385.5,642.1 L1388.5,641.8 L1391.5,641.5 L1394.5,641.2 L1397.5,640.9 L1400.5,640.6 L1403.5,640.2 L1406.5,639.9 L1409.5,639.6 L1412.5,639.2 L1415.5,638.8 L1418.5,638.4 L1421.5,637.9 L1424.5,637.4 L1427.5,636.9 L1430.5,636.2 L1433.5,635.4 L1436.5,634.4 L1439.5,633.3 L1442.5,632.2 L1445.5,630.9 L1448.5,629.7 L1451.5,628.4 L1454.5,627.2 L1457.5,626.0 L1460.5,625.0 L1463.5,624.0 L1466.5,623.2 L1469.5,622.6 L1472.5,622.2 L1475.5,622.0 L1478.5,622.2 L1481.5,623.1 L1484.5,624.4 L1487.5,626.3 L1490.5,628.6 L1493.5,631.2 L1496.5,634.2 L1499.5,637.4 L1502.5,640.7 L1505.5,644.2 L1508.5,647.7 L1511.5,651.2 L1514.5,654.6 L1517.5,657.9 L1520.5,660.9 L1523.5,663.7 L1526.5,666.3 L1529.5,669.1 L1532.5,672.1 L1535.5,675.2 L1538.5,678.3 L1541.5,681.3 L1544.5,684.0 L1547.5,686.3 L1550.5,688.2 L1553.5,689.4 L1556.5,690.0 L1559.5,689.8 L1562.5,689.0 L1565.5,687.8 L1568.5,686.2 L1571.5,684.2 L1574.5,682.0 L1577.5,679.7 L1580.5,677.3 L1583.5,674.8 L1586.5,672.5 L1589.5,670.3 L1592.5,668.2 L1595.5,665.8 L1598.5,663.2 L1601.5,660.6 L1604.5,658.1 L1607.5,655.8 L1610.5,653.8 L1613.5,652.2 L1616.5,651.0 L1619.5,649.8 L1622.5,648.7 L1625.5,647.7 L1628.5,646.8 L1631.5,646.0 L1634.5,645.4 L1637.5,645.1 L1640.5,645.1 L1643.5,648.0 L1646.5,654.1 L1649.5,661.7 L1652.5,669.2 L1655.5,677.8 L1658.5,687.8 L1661.5,698.4 L1664.5,709.0 L1667.5,719.0 L1670.5,729.2 L1673.5,739.4 L1676.5,749.0 L1679.5,757.3 L1682.5,764.5 L1685.5,771.0 L1688.5,777.1 L1691.5,783.0 L1694.5,789.1 L1697.5,795.2 L1700.5,800.9 L1703.5,805.9 L1706.5,809.9 L1709.5,813.3 L1712.5,816.4 L1715.5,819.2 L1718.5,821.8 L1721.5,824.2 L1724.5,826.4 L1727.5,828.5 L1730.5,830.7 L1733.5,832.7 L1736.5,834.5 L1739.5,836.1 L1742.5,837.3 L1745.5,838.1 L1748.5,838.7 L1751.5,839.3 L1754.5,839.9 L1757.5,840.3 L1760.5,840.8 L1763.5,841.2 L1766.5,841.5 L1769.5,841.7 L1772.5,841.9 L1775.5,842.0 L1778.5,842.0 L1781.5,842.1 L1784.5,842.1 L1787.5,842.2 L1790.5,842.2 L1793.5,842.3 L1796.5,842.3 L1799.5,842.3 L1802.5,842.3 L1805.5,842.4 L1808.5,842.4 L1811.5,842.4 L1814.5,842.4 L1817.5,842.5 L1820.5,842.5 L1823.5,842.5 L1826.5,842.5 L1829.5,842.5 L1832.5,842.5 L1835.5,842.5 L1838.5,842.5 L1841.5,842.6 L1844.5,842.6 L1847.5,842.6 L1850.5,842.6 L1853.5,842.6 L1856.5,842.6 L1859.5,842.6 L1862.5,842.6 L1865.5,842.7 L1868.5,842.7 L1871.5,842.7 L1874.5,842.7 L1877.5,842.7 L1880.5,842.7 L1883.5,842.8 L1886.5,842.8 L1889.5,842.8 L1892.5,842.8 L1895.5,842.9 L1898.5,842.9 L1901.5,843.0 L1904.5,843.0 L1907.5,843.0 L1910.5,843.1 L1913.5,843.2 L1916.5,843.3 L1919.5,843.4 L1922.5,843.5 L1925.5,843.6 L1928.5,843.7 L1931.5,843.8 L1934.5,844.0 L1937.5,844.1 L1940.5,844.3 L1943.5,844.5 L1946.5,844.6 L1949.5,844.8 L1952.5,845.0 L1955.5,845.1 L1958.5,845.3 L1961.5,845.5 L1964.5,845.7 L1967.5,845.9 L1970.5,846.0" fill="none" stroke="#ff0000" stroke-width="15" stroke-linejoin="round" stroke-linecap="butt"/>
<path d="M149.5,770.7 L153.5,746.9 L157.5,751.6 L161.5,754.8 L165.5,765.7 L169.5,767.2 L173.5,764.6 L177.5,770.0 L181.5,769.4 L185.5,759.0 L189.5,774.4 L193.5,776.7 L197.5,775.4 L201.5,774.2 L205.5,764.6 L209.5,772.6 L213.5,784.2 L217.5,778.6 L221.5,774.7 L225.5,769.6 L229.5,769.4 L233.5,771.7 L237.5,775.2 L241.5,772.5 L245.5,774.1 L249.5,773.8 L253.5,772.9 L257.5,770.8 L261.5,768.1 L265.5,750.1 L269.5,755.8 L273.5,767.4 L277.5,766.1 L281.5,766.3 L285.5,772.5 L289.5,776.8 L293.5,779.9 L297.5,780.4 L301.5,783.0 L305.5,779.6 L309.5,782.7 L313.5,782.7 L317.5,766.0 L321.5,766.3 L325.5,774.8 L329.5,775.1 L333.5,785.6 L337.5,788.1 L341.5,791.4 L345.5,788.1 L349.5,793.3 L353.5,782.8 L357.5,788.4 L361.5,786.1 L365.5,787.7 L369.5,786.2 L373.5,781.8 L377.5,783.4 L381.5,787.4 L385.5,779.8 L389.5,783.0 L393.5,793.8 L397.5,794.5 L401.5,776.3 L405.5,782.4 L409.5,782.1 L413.5,791.9 L417.5,772.2 L421.5,794.2 L425.5,767.3 L429.5,802.2 L433.5,801.2 L437.5,788.0 L441.5,801.7 L445.5,798.6 L449.5,794.9 L453.5,798.9 L457.5,797.9 L461.5,794.7 L465.5,784.0 L469.5,786.2 L473.5,795.5 L477.5,805.6 L481.5,808.0 L485.5,793.0 L489.5,802.8 L493.5,803.1 L497.5,807.8 L501.5,808.0 L505.5,808.3 L509.5,795.1 L513.5,789.2 L517.5,789.4 L521.5,804.8 L525.5,805.0 L529.5,807.0 L533.5,798.3 L537.5,807.6 L541.5,802.4 L545.5,794.0 L549.5,812.6 L553.5,809.3 L557.5,804.4 L561.5,806.7 L565.5,821.1 L569.5,820.0 L573.5,818.2 L577.5,816.6 L581.5,814.8 L585.5,814.2 L589.5,803.9 L593.5,808.7 L597.5,811.0 L601.5,811.0 L605.5,812.8 L609.5,815.0 L613.5,816.7 L617.5,816.2 L621.5,820.5 L625.5,815.6 L629.5,813.2 L633.5,816.1 L637.5,825.2 L641.5,834.0 L645.5,834.6 L649.5,829.7 L653.5,816.4 L657.5,815.2 L661.5,815.4 L665.5,814.7 L669.5,823.9 L673.5,836.1 L677.5,837.4 L681.5,828.7 L685.5,805.2 L689.5,836.9 L693.5,837.3 L697.5,823.1 L701.5,837.8 L705.5,839.0 L709.5,840.2 L713.5,820.8 L717.5,839.4 L721.5,834.6 L725.5,843.5 L729.5,840.9 L733.5,836.1 L737.5,835.1 L741.5,837.4 L745.5,836.9 L749.5,825.5 L753.5,836.4 L757.5,834.8 L761.5,820.8 L765.5,829.6 L769.5,833.7 L773.5,836.7 L777.5,835.4 L781.5,835.5 L785.5,839.1 L789.5,838.3 L793.5,840.7 L797.5,835.6 L801.5,841.9 L805.5,842.6 L809.5,845.7 L813.5,846.0 L817.5,840.1 L821.5,825.8 L825.5,827.4 L829.5,839.4 L833.5,837.4 L837.5,839.1 L841.5,844.7 L845.5,847.8 L849.5,846.5 L853.5,846.3 L857.5,844.6 L861.5,835.9 L865.5,828.6 L869.5,843.4 L873.5,841.1 L877.5,841.9 L881.5,845.6 L885.5,834.9 L889.5,838.7 L893.5,840.2 L897.5,839.7 L901.5,843.7 L905.5,843.0 L909.5,848.9 L913.5,844.7 L917.5,841.1 L921.5,836.9 L925.5,824.2 L929.5,831.5 L933.5,823.4 L937.5,811.7 L941.5,803.5 L945.5,825.7 L949.5,805.0 L953.5,796.2 L957.5,812.1 L961.5,803.3 L965.5,799.0 L969.5,794.7 L973.5,794.0 L977.5,792.1 L981.5,789.1 L985.5,784.5 L989.5,779.5 L993.5,778.7 L997.5,768.5 L1001.5,766.8 L1005.5,766.5 L1009.5,767.0 L1013.5,761.7 L1017.5,761.8 L1021.5,753.1 L1025.5,748.0 L1029.5,752.9 L1033.5,757.4 L1037.5,754.4 L1041.5,743.7 L1045.5,761.4 L1049.5,765.8 L1053.5,770.7 L1057.5,780.5 L1061.5,773.6 L1065.5,784.4 L1069.5,809.1 L1073.5,819.4 L1077.5,829.1 L1081.5,835.0 L1085.5,848.7 L1089.5,858.7 L1093.5,874.8 L1097.5,878.3 L1101.5,898.8 L1105.5,911.5 L1109.5,918.2 L1113.5,926.6 L1117.5,933.5 L1121.5,945.7 L1125.5,957.9 L1129.5,970.0 L1133.5,965.0 L1137.5,975.9 L1141.5,981.8 L1145.5,983.7 L1149.5,985.1 L1153.5,969.6 L1157.5,984.8 L1161.5,987.3 L1165.5,992.8 L1169.5,991.4 L1173.5,990.8 L1177.5,984.0 L1181.5,991.9 L1185.5,995.8 L1189.5,990.2 L1193.5,995.0 L1197.5,993.2 L1201.5,988.0 L1205.5,985.7 L1209.5,968.0 L1213.5,985.4 L1217.5,991.3 L1221.5,985.1 L1225.5,981.2 L1229.5,988.1 L1233.5,986.7 L1237.5,989.3 L1241.5,993.5 L1245.5,967.9 L1249.5,968.8 L1253.5,982.4 L1257.5,973.1 L1261.5,980.3 L1265.5,988.6 L1269.5,991.9 L1273.5,988.3 L1277.5,996.2 L1281.5,997.1 L1285.5,997.5 L1289.5,995.7 L1293.5,983.9 L1297.5,979.6 L1301.5,972.6 L1305.5,978.8 L1309.5,979.7 L1313.5,987.5 L1317.5,989.2 L1321.5,987.2 L1325.5,982.7 L1329.5,957.3 L1333.5,967.7 L1337.5,964.0 L1341.5,956.3 L1345.5,952.6 L1349.5,952.1 L1353.5,946.1 L1357.5,947.1 L1361.5,948.9 L1365.5,950.0 L1369.5,951.8 L1373.5,947.4 L1377.5,945.2 L1381.5,943.3 L1385.5,949.0 L1389.5,928.8 L1393.5,940.7 L1397.5,932.5 L1401.5,920.0 L1405.5,927.7 L1409.5,926.4 L1413.5,923.9 L1417.5,923.4 L1421.5,921.9 L1425.5,920.1 L1429.5,917.6 L1433.5,914.9 L1437.5,913.9 L1441.5,911.5 L1445.5,903.7 L1449.5,901.9 L1453.5,898.4 L1457.5,895.6 L1461.5,895.9 L1465.5,897.8 L1469.5,894.3 L1473.5,891.2 L1477.5,894.5 L1481.5,895.9 L1485.5,877.2 L1489.5,894.2 L1493.5,889.0 L1497.5,881.1 L1501.5,901.5 L1505.5,902.8 L1509.5,898.0 L1513.5,901.5 L1517.5,904.4 L1521.5,908.8 L1525.5,903.0 L1529.5,925.0 L1533.5,911.2 L1537.5,940.6 L1541.5,944.2 L1545.5,936.0 L1549.5,920.2 L1553.5,894.5 L1557.5,894.6 L1561.5,889.3 L1565.5,886.5 L1569.5,880.1 L1573.5,876.9 L1577.5,865.5 L1581.5,831.9 L1585.5,828.4 L1589.5,812.3 L1593.5,798.6 L1597.5,797.1 L1601.5,773.8 L1605.5,762.2 L1609.5,750.7 L1613.5,748.6 L1617.5,723.8 L1621.5,710.4 L1625.5,703.7 L1629.5,701.2 L1633.5,689.1 L1637.5,695.2 L1641.5,726.1 L1645.5,753.4 L1649.5,775.7 L1653.5,800.1 L1657.5,832.4 L1661.5,867.2 L1665.5,873.6 L1669.5,938.9 L1673.5,998.5 L1677.5,1052.4 L1681.5,1090.2 L1685.5,1144.8 L1689.5,1175.0 L1693.5,1193.5 L1697.5,1218.9 L1701.5,1228.1 L1705.5,1230.5 L1709.5,1239.8 L1713.5,1248.5 L1717.5,1256.6 L1721.5,1264.9 L1725.5,1277.9 L1729.5,1287.0 L1733.5,1291.3 L1737.5,1296.9 L1741.5,1297.2 L1745.5,1276.9 L1749.5,1292.7 L1753.5,1291.0 L1757.5,1272.2 L1761.5,1274.7 L1765.5,1277.4 L1769.5,1294.5 L1773.5,1283.4 L1777.5,1299.7 L1781.5,1304.4 L1785.5,1303.3 L1789.5,1307.5 L1793.5,1299.7 L1797.5,1299.6 L1801.5,1307.8 L1805.5,1308.7 L1809.5,1291.7 L1813.5,1292.5 L1817.5,1294.5 L1821.5,1317.6 L1825.5,1320.0 L1829.5,1320.3 L1833.5,1315.5 L1837.5,1316.4 L1841.5,1317.6 L1845.5,1318.5 L1849.5,1318.9 L1853.5,1316.4 L1857.5,1316.9 L1861.5,1316.9 L1865.5,1319.6 L1869.5,1327.8 L1873.5,1330.5 L1877.5,1331.0 L1881.5,1326.2 L1885.5,1330.5 L1889.5,1325.9 L1893.5,1319.9 L1897.5,1316.5 L1901.5,1316.1 L1905.5,1315.1 L1909.5,1312.5 L1913.5,1301.0 L1917.5,1307.7 L1921.5,1307.2 L1925.5,1306.6 L1929.5,1306.1 L1933.5,1302.3 L1937.5,1301.9 L1941.5,1299.1 L1945.5,1297.5 L1949.5,1294.0 L1953.5,1298.1 L1957.5,1308.4 L1961.5,1306.0 L1965.5,1306.5 L1969.5,1290.3 L1969.5,1337.4 L1965.5,1334.1 L1961.5,1331.5 L1957.5,1343.8 L1953.5,1347.3 L1949.5,1346.5 L1945.5,1335.0 L1941.5,1336.6 L1937.5,1337.6 L1933.5,1358.4 L1929.5,1339.6 L1925.5,1355.1 L1921.5,1358.0 L1917.5,1358.5 L1913.5,1342.1 L1909.5,1348.5 L1905.5,1348.5 L1901.5,1349.5 L1897.5,1359.7 L1893.5,1348.4 L1889.5,1353.7 L1885.5,1360.6 L1881.5,1356.0 L1877.5,1372.9 L1873.5,1363.1 L1869.5,1360.4 L1865.5,1359.0 L1861.5,1352.2 L1857.5,1346.1 L1853.5,1346.6 L1849.5,1351.6 L1845.5,1343.7 L1841.5,1343.0 L1837.5,1360.8 L1833.5,1359.9 L1829.5,1342.8 L1825.5,1349.3 L1821.5,1343.0 L1817.5,1337.8 L1813.5,1346.1 L1809.5,1336.9 L1805.5,1335.4 L1801.5,1334.5 L1797.5,1338.3 L1793.5,1342.4 L1789.5,1341.1 L1785.5,1335.4 L1781.5,1332.6 L1777.5,1328.5 L1773.5,1346.2 L1769.5,1343.8 L1765.5,1325.8 L1761.5,1318.5 L1757.5,1318.0 L1753.5,1317.5 L1749.5,1322.4 L1745.5,1321.1 L1741.5,1323.8 L1737.5,1325.6 L1733.5,1337.8 L1729.5,1331.1 L1725.5,1323.7 L1721.5,1315.5 L1717.5,1291.6 L1713.5,1283.5 L1709.5,1285.9 L1705.5,1261.0 L1701.5,1253.8 L1697.5,1244.1 L1693.5,1227.7 L1689.5,1215.2 L1685.5,1179.7 L1681.5,1144.6 L1677.5,1102.1 L1673.5,1038.7 L1669.5,977.0 L1665.5,911.2 L1661.5,886.2 L1657.5,856.5 L1653.5,815.9 L1649.5,791.6 L1645.5,779.3 L1641.5,754.8 L1637.5,734.9 L1633.5,728.9 L1629.5,726.4 L1625.5,733.8 L1621.5,740.6 L1617.5,739.4 L1613.5,763.0 L1609.5,777.8 L1605.5,795.3 L1601.5,809.3 L1597.5,822.3 L1593.5,835.9 L1589.5,851.7 L1585.5,865.8 L1581.5,884.6 L1577.5,900.2 L1573.5,911.6 L1569.5,915.5 L1565.5,928.9 L1561.5,922.8 L1557.5,933.2 L1553.5,941.5 L1549.5,955.4 L1545.5,973.0 L1541.5,995.2 L1537.5,968.5 L1533.5,965.2 L1529.5,958.7 L1525.5,965.3 L1521.5,955.6 L1517.5,962.6 L1513.5,959.7 L1509.5,943.2 L1505.5,943.6 L1501.5,942.4 L1497.5,933.5 L1493.5,930.6 L1489.5,929.3 L1485.5,929.4 L1481.5,920.7 L1477.5,919.2 L1473.5,925.2 L1469.5,923.9 L1465.5,928.7 L1461.5,932.2 L1457.5,926.5 L1453.5,933.0 L1449.5,934.9 L1445.5,937.7 L1441.5,936.7 L1437.5,939.2 L1433.5,942.4 L1429.5,945.1 L1425.5,947.6 L1421.5,953.7 L1417.5,955.1 L1413.5,968.6 L1409.5,970.2 L1405.5,971.6 L1401.5,967.5 L1397.5,972.8 L1393.5,969.9 L1389.5,972.6 L1385.5,975.0 L1381.5,997.1 L1377.5,997.3 L1373.5,979.3 L1369.5,982.9 L1365.5,996.9 L1361.5,998.2 L1357.5,996.3 L1353.5,987.1 L1349.5,987.4 L1345.5,987.6 L1341.5,996.1 L1337.5,1001.9 L1333.5,1005.6 L1329.5,1009.4 L1325.5,1010.4 L1321.5,1016.4 L1317.5,1018.3 L1313.5,1035.1 L1309.5,1035.0 L1305.5,1008.7 L1301.5,1021.7 L1297.5,1028.7 L1293.5,1033.0 L1289.5,1034.0 L1285.5,1047.0 L1281.5,1048.0 L1277.5,1045.8 L1273.5,1028.6 L1269.5,1021.5 L1265.5,1033.4 L1261.5,1016.6 L1257.5,1023.0 L1253.5,1023.1 L1249.5,1018.0 L1245.5,1017.5 L1241.5,1021.4 L1237.5,1022.1 L1233.5,1019.2 L1229.5,1016.9 L1225.5,1019.8 L1221.5,1032.8 L1217.5,1033.2 L1213.5,1023.3 L1209.5,1022.6 L1205.5,1017.4 L1201.5,1034.8 L1197.5,1037.5 L1193.5,1038.6 L1189.5,1038.3 L1185.5,1024.6 L1181.5,1023.9 L1177.5,1023.1 L1173.5,1035.8 L1169.5,1036.7 L1165.5,1018.8 L1161.5,1014.9 L1157.5,1027.7 L1153.5,1026.6 L1149.5,1025.5 L1145.5,1024.1 L1141.5,1022.3 L1137.5,1009.0 L1133.5,1006.9 L1129.5,1018.2 L1125.5,1006.0 L1121.5,981.0 L1117.5,964.8 L1113.5,957.8 L1109.5,955.4 L1105.5,941.0 L1101.5,934.9 L1097.5,933.3 L1093.5,911.0 L1089.5,899.6 L1085.5,884.1 L1081.5,873.1 L1077.5,866.0 L1073.5,867.5 L1069.5,840.5 L1065.5,830.6 L1061.5,816.7 L1057.5,826.8 L1053.5,817.6 L1049.5,798.2 L1045.5,793.8 L1041.5,788.1 L1037.5,789.0 L1033.5,786.4 L1029.5,782.0 L1025.5,776.6 L1021.5,781.7 L1017.5,790.4 L1013.5,803.1 L1009.5,819.3 L1005.5,818.8 L1001.5,807.0 L997.5,814.6 L993.5,817.0 L989.5,819.4 L985.5,820.4 L981.5,825.6 L977.5,828.7 L973.5,830.7 L969.5,835.6 L965.5,839.8 L961.5,844.1 L957.5,848.6 L953.5,851.1 L949.5,853.9 L945.5,855.3 L941.5,865.2 L937.5,861.7 L933.5,862.8 L929.5,864.1 L925.5,888.8 L921.5,869.6 L917.5,871.9 L913.5,875.6 L909.5,880.1 L905.5,882.4 L901.5,881.5 L897.5,882.1 L893.5,884.1 L889.5,889.8 L885.5,881.4 L881.5,874.5 L877.5,875.6 L873.5,874.9 L869.5,876.0 L865.5,873.7 L861.5,877.6 L857.5,883.7 L853.5,898.9 L849.5,899.0 L845.5,880.8 L841.5,890.4 L837.5,896.9 L833.5,869.2 L829.5,871.2 L825.5,875.9 L821.5,868.7 L817.5,877.9 L813.5,876.1 L809.5,879.0 L805.5,886.7 L801.5,889.6 L797.5,874.2 L793.5,885.8 L789.5,883.4 L785.5,869.9 L781.5,867.6 L777.5,867.6 L773.5,867.6 L769.5,867.0 L765.5,863.4 L761.5,861.6 L757.5,863.9 L753.5,868.5 L749.5,872.1 L745.5,873.7 L741.5,866.2 L737.5,863.4 L733.5,866.1 L729.5,870.9 L725.5,871.8 L721.5,884.6 L717.5,880.0 L713.5,879.8 L709.5,879.8 L705.5,874.3 L701.5,887.7 L697.5,886.3 L693.5,880.9 L689.5,880.5 L685.5,874.0 L681.5,874.6 L677.5,875.6 L673.5,863.3 L669.5,859.6 L665.5,864.7 L661.5,867.2 L657.5,867.0 L653.5,866.2 L649.5,881.1 L645.5,886.3 L641.5,887.8 L637.5,879.1 L633.5,871.0 L629.5,856.0 L625.5,858.4 L621.5,866.5 L617.5,854.3 L613.5,857.6 L609.5,859.8 L605.5,857.5 L601.5,855.7 L597.5,855.8 L593.5,852.0 L589.5,844.8 L585.5,846.8 L581.5,851.9 L577.5,853.7 L573.5,859.3 L569.5,846.5 L565.5,847.7 L561.5,851.2 L557.5,847.1 L553.5,842.9 L549.5,842.0 L545.5,842.5 L541.5,842.2 L537.5,857.3 L533.5,844.3 L529.5,844.7 L525.5,842.7 L521.5,842.5 L517.5,853.5 L513.5,845.3 L509.5,838.8 L505.5,841.1 L501.5,857.0 L497.5,856.9 L493.5,841.7 L489.5,838.7 L485.5,854.2 L481.5,844.4 L477.5,853.1 L473.5,845.5 L469.5,824.5 L465.5,822.3 L461.5,835.3 L457.5,836.4 L453.5,845.0 L449.5,832.3 L445.5,836.0 L441.5,838.2 L437.5,832.4 L433.5,832.3 L429.5,840.3 L425.5,844.5 L421.5,827.2 L417.5,826.8 L413.5,824.7 L409.5,826.6 L405.5,827.8 L401.5,827.8 L397.5,842.9 L393.5,829.3 L389.5,829.1 L385.5,820.8 L381.5,815.3 L377.5,811.4 L373.5,815.8 L369.5,823.4 L365.5,832.3 L361.5,818.7 L357.5,818.3 L353.5,825.4 L349.5,830.7 L345.5,832.5 L341.5,823.4 L337.5,823.2 L333.5,824.8 L329.5,837.4 L325.5,837.1 L321.5,836.8 L317.5,833.4 L313.5,820.2 L309.5,817.4 L305.5,817.9 L301.5,817.6 L297.5,817.3 L293.5,815.9 L289.5,813.8 L285.5,808.9 L281.5,802.8 L277.5,803.5 L273.5,804.7 L269.5,797.9 L265.5,803.6 L261.5,809.3 L257.5,808.6 L253.5,809.0 L249.5,813.2 L245.5,813.5 L241.5,826.3 L237.5,824.6 L233.5,821.1 L229.5,818.8 L225.5,816.7 L221.5,814.8 L217.5,826.4 L213.5,822.1 L209.5,828.5 L205.5,820.4 L201.5,820.4 L197.5,809.5 L193.5,811.1 L189.5,809.4 L185.5,808.2 L181.5,813.2 L177.5,816.1 L173.5,823.2 L169.5,805.0 L165.5,798.2 L161.5,804.9 L157.5,808.3 L153.5,803.6 L149.5,813.0 Z" fill="#000000" stroke="#000000" stroke-width="2" stroke-linejoin="round"/>
<path d="M149.5,787.0 L152.5,787.1 L155.5,787.2 L158.5,787.3 L161.5,787.4 L164.5,787.6 L167.5,787.7 L170.5,787.8 L173.5,787.9 L176.5,788.0 L179.5,788.2 L182.5,788.3 L185.5,788.4 L188.5,788.6 L191.5,788.7 L194.5,788.8 L197.5,789.0 L200.5,789.1 L203.5,789.3 L206.5,789.4 L209.5,789.6 L212.5,789.7 L215.5,789.8 L218.5,790.0 L221.5,790.1 L224.5,790.3 L227.5,790.5 L230.5,790.6 L233.5,790.8 L236.5,790.9 L239.5,791.1 L242.5,791.2 L245.5,791.4 L248.5,791.6 L251.5,791.7 L254.5,791.9 L257.5,792.1 L260.5,792.2 L263.5,792.4 L266.5,792.6 L269.5,792.8 L272.5,793.0 L275.5,793.1 L278.5,793.3 L281.5,793.5 L284.5,793.7 L287.5,793.9 L290.5,794.1 L293.5,794.3 L296.5,794.5 L299.5,794.7 L302.5,795.0 L305.5,795.2 L308.5,795.4 L311.5,795.6 L314.5,795.8 L317.5,796.1 L320.5,796.3 L323.5,796.5 L326.5,796.8 L329.5,797.0 L332.5,797.3 L335.5,797.5 L338.5,797.8 L341.5,798.0 L344.5,798.3 L347.5,798.6 L350.5,798.9 L353.5,799.2 L356.5,799.5 L359.5,799.9 L362.5,800.2 L365.5,800.6 L368.5,800.9 L371.5,801.3 L374.5,801.8 L377.5,802.4 L380.5,803.0 L383.5,803.7 L386.5,804.4 L389.5,805.2 L392.5,806.0 L395.5,806.8 L398.5,807.6 L401.5,808.4 L404.5,809.2 L407.5,810.0 L410.5,810.8 L413.5,811.5 L416.5,812.2 L419.5,812.9 L422.5,813.5 L425.5,814.0 L428.5,814.4 L431.5,814.8 L434.5,815.0 L437.5,815.2 L440.5,815.4 L443.5,815.6 L446.5,815.8 L449.5,815.9 L452.5,816.0 L455.5,816.1 L458.5,816.2 L461.5,816.3 L464.5,816.4 L467.5,816.5 L470.5,816.6 L473.5,816.7 L476.5,816.8 L479.5,816.9 L482.5,817.1 L485.5,817.2 L488.5,817.3 L491.5,817.5 L494.5,817.7 L497.5,817.9 L500.5,818.1 L503.5,818.4 L506.5,818.8 L509.5,819.3 L512.5,819.8 L515.5,820.4 L518.5,821.0 L521.5,821.7 L524.5,822.4 L527.5,823.2 L530.5,824.0 L533.5,824.7 L536.5,825.5 L539.5,826.3 L542.5,827.1 L545.5,827.9 L548.5,828.6 L551.5,829.3 L554.5,830.0 L557.5,830.6 L560.5,831.2 L563.5,831.8 L566.5,832.2 L569.5,832.7 L572.5,833.1 L575.5,833.5 L578.5,833.9 L581.5,834.3 L584.5,834.7 L587.5,835.1 L590.5,835.5 L593.5,835.8 L596.5,836.2 L599.5,836.5 L602.5,836.9 L605.5,837.2 L608.5,837.6 L611.5,837.9 L614.5,838.2 L617.5,838.6 L620.5,838.9 L623.5,839.2 L626.5,839.6 L629.5,839.9 L632.5,840.3 L635.5,840.7 L638.5,841.0 L641.5,841.4 L644.5,841.8 L647.5,842.1 L650.5,842.5 L653.5,842.9 L656.5,843.2 L659.5,843.6 L662.5,844.0 L665.5,844.3 L668.5,844.7 L671.5,845.0 L674.5,845.4 L677.5,845.7 L680.5,846.1 L683.5,846.4 L686.5,846.7 L689.5,847.0 L692.5,847.3 L695.5,847.6 L698.5,847.9 L701.5,848.1 L704.5,848.4 L707.5,848.6 L710.5,848.9 L713.5,849.1 L716.5,849.3 L719.5,849.6 L722.5,849.8 L725.5,850.0 L728.5,850.2 L731.5,850.4 L734.5,850.6 L737.5,850.8 L740.5,851.0 L743.5,851.2 L746.5,851.4 L749.5,851.6 L752.5,851.8 L755.5,852.0 L758.5,852.2 L761.5,852.4 L764.5,852.6 L767.5,852.8 L770.5,853.0 L773.5,853.2 L776.5,853.3 L779.5,853.5 L782.5,853.7 L785.5,854.0 L788.5,854.2 L791.5,854.4 L794.5,854.6 L797.5,854.8 L800.5,855.0 L803.5,855.3 L806.5,855.6 L809.5,855.8 L812.5,856.1 L815.5,856.5 L818.5,856.8 L821.5,857.1 L824.5,857.4 L827.5,857.8 L830.5,858.1 L833.5,858.4 L836.5,858.7 L839.5,858.9 L842.5,859.2 L845.5,859.4 L848.5,859.6 L851.5,859.8 L854.5,859.9 L857.5,860.0 L860.5,860.0 L863.5,860.0 L866.5,859.9 L869.5,859.9 L872.5,859.8 L875.5,859.6 L878.5,859.4 L881.5,859.2 L884.5,859.0 L887.5,858.7 L890.5,858.5 L893.5,858.1 L896.5,857.8 L899.5,857.4 L902.5,857.0 L905.5,856.6 L908.5,856.1 L911.5,855.7 L914.5,855.1 L917.5,854.6 L920.5,854.1 L923.5,853.5 L926.5,852.9 L929.5,852.0 L932.5,850.8 L935.5,849.2 L938.5,847.4 L941.5,845.3 L944.5,843.1 L947.5,840.7 L950.5,838.2 L953.5,835.7 L956.5,833.1 L959.5,830.6 L962.5,827.8 L965.5,824.8 L968.5,821.5 L971.5,818.0 L974.5,814.5 L977.5,811.0 L980.5,807.7 L983.5,804.5 L986.5,800.7 L989.5,797.0 L992.5,795.0 L995.5,795.0 L998.5,795.0 L1001.5,795.0 L1004.5,795.0 L1007.5,794.9 L1010.5,792.3 L1013.5,786.8 L1016.5,779.7 L1019.5,772.4 L1022.5,766.3 L1025.5,762.5 L1028.5,762.1 L1031.5,763.1 L1034.5,764.8 L1037.5,767.1 L1040.5,769.7 L1043.5,772.5 L1046.5,775.9 L1049.5,780.2 L1052.5,785.2 L1055.5,790.9 L1058.5,796.9 L1061.5,803.4 L1064.5,811.2 L1067.5,820.0 L1070.5,828.9 L1073.5,837.3 L1076.5,844.9 L1079.5,852.3 L1082.5,859.9 L1085.5,868.5 L1088.5,879.0 L1091.5,890.9 L1094.5,900.5 L1097.5,908.8 L1100.5,916.5 L1103.5,923.5 L1106.5,930.1 L1109.5,935.8 L1112.5,941.1 L1115.5,946.2 L1118.5,951.8 L1121.5,958.8 L1124.5,968.1 L1127.5,978.1 L1130.5,986.2 L1133.5,990.4 L1136.5,992.3 L1139.5,993.9 L1142.5,995.0 L1145.5,996.0 L1148.5,996.9 L1151.5,997.7 L1154.5,998.5 L1157.5,999.3 L1160.5,1000.1 L1163.5,1000.9 L1166.5,1001.6 L1169.5,1002.3 L1172.5,1003.0 L1175.5,1003.6 L1178.5,1004.2 L1181.5,1004.7 L1184.5,1005.1 L1187.5,1005.4 L1190.5,1005.7 L1193.5,1005.9 L1196.5,1006.0 L1199.5,1006.0 L1202.5,1006.0 L1205.5,1006.0 L1208.5,1006.0 L1211.5,1006.0 L1214.5,1005.9 L1217.5,1005.9 L1220.5,1005.9 L1223.5,1005.8 L1226.5,1005.8 L1229.5,1005.7 L1232.5,1005.7 L1235.5,1005.6 L1238.5,1005.6 L1241.5,1005.5 L1244.5,1005.5 L1247.5,1005.4 L1250.5,1005.3 L1253.5,1005.3 L1256.5,1005.2 L1259.5,1005.1 L1262.5,1005.0 L1265.5,1004.9 L1268.5,1004.7 L1271.5,1004.4 L1274.5,1004.1 L1277.5,1003.7 L1280.5,1003.2 L1283.5,1002.7 L1286.5,1002.1 L1289.5,1001.4 L1292.5,1000.7 L1295.5,1000.0 L1298.5,999.2 L1301.5,998.4 L1304.5,997.6 L1307.5,996.7 L1310.5,995.8 L1313.5,994.9 L1316.5,994.0 L1319.5,993.0 L1322.5,992.1 L1325.5,991.1 L1328.5,990.2 L1331.5,989.2 L1334.5,988.1 L1337.5,986.9 L1340.5,985.7 L1343.5,984.3 L1346.5,982.9 L1349.5,981.4 L1352.5,979.9 L1355.5,978.3 L1358.5,976.7 L1361.5,975.0 L1364.5,973.3 L1367.5,971.6 L1370.5,969.8 L1373.5,968.0 L1376.5,966.3 L1379.5,964.5 L1382.5,962.7 L1385.5,960.9 L1388.5,959.2 L1391.5,957.4 L1394.5,955.7 L1397.5,954.0 L1400.5,952.3 L1403.5,950.5 L1406.5,948.8 L1409.5,947.0 L1412.5,945.2 L1415.5,943.3 L1418.5,941.5 L1421.5,939.6 L1424.5,937.6 L1427.5,935.7 L1430.5,933.5 L1433.5,931.0 L1436.5,928.4 L1439.5,925.6 L1442.5,923.0 L1445.5,920.4 L1448.5,918.0 L1451.5,916.0 L1454.5,914.4 L1457.5,913.3 L1460.5,912.8 L1463.5,912.3 L1466.5,911.9 L1469.5,911.5 L1472.5,911.1 L1475.5,910.8 L1478.5,910.6 L1481.5,910.3 L1484.5,910.2 L1487.5,910.1 L1490.5,910.0 L1493.5,910.1 L1496.5,910.5 L1499.5,911.4 L1502.5,912.7 L1505.5,914.3 L1508.5,916.2 L1511.5,918.4 L1514.5,920.7 L1517.5,923.2 L1520.5,925.9 L1523.5,928.6 L1526.5,931.8 L1529.5,937.0 L1532.5,943.3 L1535.5,949.3 L1538.5,953.7 L1541.5,954.9 L1544.5,950.6 L1547.5,941.9 L1550.5,931.2 L1553.5,921.1 L1556.5,914.1 L1559.5,909.6 L1562.5,905.9 L1565.5,902.5 L1568.5,898.7 L1571.5,893.9 L1574.5,887.3 L1577.5,878.7 L1580.5,868.8 L1583.5,858.2 L1586.5,847.5 L1589.5,835.5 L1592.5,824.3 L1595.5,814.7 L1598.5,805.9 L1601.5,797.1 L1604.5,787.7 L1607.5,777.5 L1610.5,766.8 L1613.5,754.3 L1616.5,736.2 L1619.5,722.5 L1622.5,714.7 L1625.5,711.6 L1628.5,710.0 L1631.5,710.4 L1634.5,711.9 L1637.5,716.6 L1640.5,730.5 L1643.5,749.0 L1646.5,766.0 L1649.5,783.0 L1652.5,801.3 L1655.5,822.0 L1658.5,851.4 L1661.5,876.0 L1664.5,892.8 L1667.5,936.2 L1670.5,979.1 L1673.5,1026.5 L1676.5,1068.2 L1679.5,1103.3 L1682.5,1132.0 L1685.5,1157.8 L1688.5,1184.5 L1691.5,1207.4 L1694.5,1220.7 L1697.5,1231.2 L1700.5,1239.9 L1703.5,1247.4 L1706.5,1254.5 L1709.5,1261.5 L1712.5,1268.3 L1715.5,1274.5 L1718.5,1280.4 L1721.5,1285.8 L1724.5,1290.8 L1727.5,1295.9 L1730.5,1301.0 L1733.5,1305.7 L1736.5,1309.4 L1739.5,1311.8 L1742.5,1313.0 L1745.5,1314.0 L1748.5,1315.0 L1751.5,1315.8 L1754.5,1316.6 L1757.5,1317.2 L1760.5,1317.8 L1763.5,1318.3 L1766.5,1318.8 L1769.5,1319.2 L1772.5,1319.7 L1775.5,1320.1 L1778.5,1320.5 L1781.5,1320.9 L1784.5,1321.4 L1787.5,1321.9 L1790.5,1322.5 L1793.5,1323.0 L1796.5,1323.6 L1799.5,1324.2 L1802.5,1324.9 L1805.5,1325.5 L1808.5,1326.1 L1811.5,1326.7 L1814.5,1327.4 L1817.5,1328.0 L1820.5,1328.5 L1823.5,1329.1 L1826.5,1329.6 L1829.5,1330.1 L1832.5,1330.5 L1835.5,1330.9 L1838.5,1331.3 L1841.5,1331.5 L1844.5,1331.8 L1847.5,1331.9 L1850.5,1332.0 L1853.5,1332.0 L1856.5,1332.0 L1859.5,1332.0 L1862.5,1332.0 L1865.5,1332.0 L1868.5,1332.0 L1871.5,1332.0 L1874.5,1332.0 L1877.5,1332.0 L1880.5,1332.0 L1883.5,1332.0 L1886.5,1332.0 L1889.5,1332.0 L1892.5,1332.0 L1895.5,1332.0 L1898.5,1332.0 L1901.5,1332.0 L1904.5,1332.0 L1907.5,1332.0 L1910.5,1332.0 L1913.5,1332.0 L1916.5,1332.0 L1919.5,1332.0 L1922.5,1331.9 L1925.5,1331.7 L1928.5,1331.5 L1931.5,1331.2 L1934.5,1330.9 L1937.5,1330.5 L1940.5,1330.1 L1943.5,1329.7 L1946.5,1329.2 L1949.5,1328.8 L1952.5,1328.2 L1955.5,1327.7 L1958.5,1327.2 L1961.5,1326.6 L1964.5,1326.0 L1967.5,1325.5 L1970.5,1324.9" fill="none" stroke="#000000" stroke-width="15" stroke-linejoin="round" stroke-linecap="butt"/>
</g>
<g stroke="#ff2a8f" stroke-width="4.5" stroke-dasharray="13,7">
<line x1="1041" y1="185" x2="1041" y2="832"/>
<line x1="1626" y1="209" x2="1626" y2="808"/>
</g>
<g fill="none" stroke-linejoin="round">
<path d="M158.5,2193.1 L162.5,2195.0 L166.5,2198.1 L170.5,2191.6 L174.5,2191.7 L178.5,2191.1 L182.5,2192.7 L186.5,2191.5 L190.5,2192.5 L194.5,2188.2 L198.5,2193.4 L202.5,2190.5 L206.5,2191.5 L210.5,2190.0 L214.5,2189.4 L218.5,2190.5 L222.5,2190.9 L226.5,2189.0 L230.5,2188.9 L234.5,2190.0 L238.5,2191.1 L242.5,2189.2 L246.5,2188.9 L250.5,2187.0 L254.5,2184.8 L258.5,2186.4 L262.5,2186.7 L266.5,2185.3 L270.5,2184.6 L274.5,2186.9 L278.5,2188.0 L282.5,2186.0 L286.5,2185.0 L290.5,2186.6 L294.5,2186.9 L298.5,2185.1 L302.5,2186.2 L306.5,2186.8 L310.5,2184.6 L314.5,2183.4 L318.5,2185.1 L322.5,2184.7 L326.5,2185.8 L330.5,2181.8 L334.5,2182.6 L338.5,2182.1 L342.5,2180.5 L346.5,2183.2 L350.5,2183.7 L354.5,2181.5 L358.5,2184.7 L362.5,2183.5 L366.5,2183.0 L370.5,2182.5 L374.5,2183.2 L378.5,2179.3 L382.5,2182.2 L386.5,2182.0 L390.5,2178.0 L394.5,2181.2 L398.5,2180.0 L402.5,2181.5 L406.5,2179.3 L410.5,2179.8 L414.5,2180.2 L418.5,2178.0 L422.5,2180.2 L426.5,2178.9 L430.5,2179.6 L434.5,2177.8 L438.5,2180.2 L442.5,2179.2 L446.5,2177.7 L450.5,2178.8 L454.5,2179.6 L458.5,2180.3 L462.5,2174.7 L466.5,2178.4 L470.5,2177.6 L474.5,2176.5 L478.5,2174.8 L482.5,2178.2 L486.5,2174.0 L490.5,2176.7 L494.5,2177.7 L498.5,2172.9 L502.5,2174.7 L506.5,2172.9 L510.5,2175.2 L514.5,2177.0 L518.5,2177.6 L522.5,2171.4 L526.5,2173.1 L530.5,2174.9 L534.5,2176.1 L538.5,2174.0 L542.5,2171.9 L546.5,2173.4 L550.5,2172.6 L554.5,2172.1 L558.5,2171.0 L562.5,2172.6 L566.5,2172.3 L570.5,2171.4 L574.5,2171.0 L578.5,2169.0 L582.5,2165.8 L586.5,2172.6 L590.5,2170.1 L594.5,2167.9 L598.5,2172.1 L602.5,2170.6 L606.5,2172.9 L610.5,2169.4 L614.5,2168.4 L618.5,2166.6 L622.5,2170.8 L626.5,2172.6 L630.5,2167.0 L634.5,2167.1 L638.5,2168.9 L642.5,2166.4 L646.5,2171.8 L650.5,2166.8 L654.5,2167.5 L658.5,2168.8 L662.5,2166.9 L666.5,2168.1 L670.5,2165.8 L674.5,2166.9 L678.5,2162.8 L682.5,2163.8 L686.5,2167.2 L690.5,2164.9 L694.5,2166.6 L698.5,2166.5 L702.5,2167.6 L706.5,2166.7 L710.5,2167.0 L714.5,2165.1 L718.5,2164.0 L722.5,2163.9 L726.5,2164.2 L730.5,2163.1 L734.5,2164.0 L738.5,2164.6 L742.5,2165.1 L746.5,2164.1 L750.5,2161.5 L754.5,2164.4 L758.5,2164.8 L762.5,2166.1 L766.5,2165.2 L770.5,2163.1 L774.5,2162.9 L778.5,2167.1 L782.5,2165.0 L786.5,2166.6 L790.5,2167.0 L794.5,2162.1 L798.5,2163.9 L802.5,2163.8 L806.5,2163.8 L810.5,2163.5 L814.5,2162.7 L818.5,2162.3 L822.5,2159.2 L826.5,2160.9 L830.5,2159.4 L834.5,2160.3 L838.5,2158.7 L842.5,2159.8 L846.5,2159.5 L850.5,2158.0 L854.5,2157.2 L858.5,2156.1 L862.5,2154.4 L866.5,2154.0 L870.5,2157.1 L874.5,2153.1 L878.5,2151.6 L882.5,2151.5 L886.5,2147.5 L890.5,2150.1 L894.5,2146.4 L898.5,2145.3 L902.5,2144.9 L906.5,2143.0 L910.5,2142.9 L914.5,2139.9 L918.5,2137.4 L922.5,2136.0 L926.5,2137.5 L930.5,2133.5 L934.5,2129.4 L938.5,2129.1 L942.5,2124.3 L946.5,2127.3 L950.5,2119.5 L954.5,2120.1 L958.5,2117.2 L962.5,2110.7 L966.5,2109.8 L970.5,2107.1 L974.5,2102.1 L978.5,2097.5 L982.5,2094.3 L986.5,2088.6 L990.5,2084.4 L994.5,2079.2 L998.5,2076.1 L1002.5,2069.1 L1006.5,2067.2 L1010.5,2060.1 L1014.5,2053.5 L1018.5,2049.5 L1022.5,2044.3 L1026.5,2034.6 L1030.5,2022.1 L1034.5,2011.2 L1038.5,1994.3 L1042.5,1976.1 L1046.5,1956.3 L1050.5,1937.4 L1054.5,1927.7 L1058.5,1907.4 L1062.5,1882.1 L1066.5,1854.9 L1070.5,1828.7 L1074.5,1803.5 L1078.5,1785.4 L1082.5,1774.7 L1086.5,1762.6 L1090.5,1753.4 L1094.5,1733.2 L1098.5,1717.6 L1102.5,1713.2 L1106.5,1708.4 L1110.5,1705.4 L1114.5,1714.0 L1118.5,1729.3 L1122.5,1759.7 L1126.5,1787.4 L1130.5,1816.8 L1134.5,1844.6 L1138.5,1881.9 L1142.5,1934.9 L1146.5,1980.7 L1150.5,2001.5 L1154.5,2026.7 L1158.5,2052.0 L1162.5,2068.2 L1166.5,2083.5 L1170.5,2101.9 L1174.5,2121.7 L1178.5,2136.3 L1182.5,2143.7 L1186.5,2149.2 L1190.5,2158.1 L1194.5,2165.8 L1198.5,2170.7 L1202.5,2175.1 L1206.5,2183.7 L1210.5,2183.6 L1214.5,2189.9 L1218.5,2192.3 L1222.5,2193.4 L1226.5,2199.9 L1230.5,2200.8 L1234.5,2200.5 L1238.5,2205.0 L1242.5,2204.8 L1246.5,2203.8 L1250.5,2207.1 L1254.5,2209.8 L1258.5,2211.4 L1262.5,2211.5 L1266.5,2211.8 L1270.5,2212.8 L1274.5,2211.8 L1278.5,2214.1 L1282.5,2212.5 L1286.5,2212.8 L1290.5,2213.3 L1294.5,2210.8 L1298.5,2211.4 L1302.5,2215.1 L1306.5,2213.2 L1310.5,2212.3 L1314.5,2213.3 L1318.5,2212.0 L1322.5,2213.3 L1326.5,2211.8 L1330.5,2213.3 L1334.5,2210.4 L1338.5,2215.1 L1342.5,2212.1 L1346.5,2210.4 L1350.5,2212.6 L1354.5,2212.4 L1358.5,2213.3 L1362.5,2211.2 L1366.5,2213.7 L1370.5,2218.9 L1374.5,2211.1 L1378.5,2213.7 L1382.5,2212.7 L1386.5,2213.5 L1390.5,2210.3 L1394.5,2211.4 L1398.5,2214.0 L1402.5,2213.2 L1406.5,2215.9 L1410.5,2212.2 L1414.5,2213.6 L1418.5,2218.0 L1422.5,2212.1 L1426.5,2211.9 L1430.5,2213.3 L1434.5,2213.3 L1438.5,2214.8 L1442.5,2213.6 L1446.5,2212.2 L1450.5,2213.8 L1454.5,2217.7 L1458.5,2215.5 L1462.5,2209.0 L1466.5,2213.3 L1470.5,2212.1 L1474.5,2214.5 L1478.5,2213.3 L1482.5,2216.6 L1486.5,2215.1 L1490.5,2215.0 L1494.5,2213.9 L1498.5,2213.5 L1502.5,2214.2 L1506.5,2215.7 L1510.5,2214.5 L1514.5,2213.1 L1518.5,2215.7 L1522.5,2214.0 L1526.5,2213.6 L1530.5,2212.4 L1534.5,2212.8 L1538.5,2212.7 L1542.5,2209.3 L1546.5,2215.4 L1550.5,2214.7 L1554.5,2213.4 L1558.5,2215.5 L1562.5,2214.5 L1566.5,2214.4 L1570.5,2209.9 L1574.5,2213.5 L1578.5,2214.7 L1582.5,2216.5 L1586.5,2216.9 L1590.5,2216.2 L1594.5,2212.1 L1598.5,2210.5 L1602.5,2214.9 L1606.5,2214.1 L1610.5,2215.6 L1614.5,2213.9 L1618.5,2214.5 L1622.5,2211.7 L1626.5,2214.9 L1630.5,2216.1 L1634.5,2214.8 L1638.5,2215.0 L1642.5,2214.1 L1646.5,2214.8 L1650.5,2214.3 L1654.5,2215.6 L1658.5,2215.2 L1662.5,2213.5 L1666.5,2213.5 L1670.5,2217.3 L1674.5,2214.3 L1678.5,2216.1 L1682.5,2211.5 L1686.5,2213.7 L1690.5,2213.4 L1694.5,2214.9 L1698.5,2215.1 L1702.5,2215.7 L1706.5,2212.8 L1710.5,2213.9 L1714.5,2214.7 L1718.5,2217.5 L1722.5,2211.2 L1726.5,2215.7 L1730.5,2214.1 L1734.5,2215.7 L1738.5,2214.3 L1742.5,2215.7 L1746.5,2217.7 L1750.5,2215.8 L1754.5,2215.9 L1758.5,2215.9 L1762.5,2214.1 L1766.5,2216.2 L1770.5,2215.1 L1774.5,2214.2 L1778.5,2215.4 L1782.5,2215.2 L1786.5,2216.8 L1790.5,2215.6 L1794.5,2214.8 L1798.5,2218.1 L1802.5,2217.4 L1806.5,2217.8 L1810.5,2216.8 L1814.5,2215.7 L1818.5,2215.3 L1822.5,2215.6 L1826.5,2217.6 L1830.5,2219.6 L1834.5,2213.8 L1838.5,2216.1 L1842.5,2214.0 L1846.5,2216.6 L1850.5,2214.4 L1854.5,2214.4 L1858.5,2216.6 L1862.5,2216.4 L1866.5,2213.9 L1870.5,2217.8 L1874.5,2220.1 L1878.5,2214.3 L1882.5,2219.7 L1886.5,2215.7 L1890.5,2216.1 L1894.5,2216.6 L1898.5,2214.7 L1902.5,2219.1 L1906.5,2217.9 L1910.5,2215.9 L1914.5,2216.8 L1918.5,2214.8 L1922.5,2216.8 L1926.5,2218.9 L1930.5,2214.7 L1934.5,2216.8 L1938.5,2217.8 L1942.5,2219.3 L1946.5,2219.8 L1950.5,2217.0 L1954.5,2216.6 L1958.5,2218.6 L1962.5,2217.3 L1966.5,2217.5 L1970.5,2219.7" stroke="#ff00ff" stroke-width="9.5"/>
<path d="M158.5,2401.1 L162.5,2402.5 L166.5,2401.8 L170.5,2401.6 L174.5,2402.8 L178.5,2398.1 L182.5,2398.8 L186.5,2392.8 L190.5,2399.2 L194.5,2400.7 L198.5,2398.9 L202.5,2399.5 L206.5,2395.4 L210.5,2398.5 L214.5,2396.6 L218.5,2400.6 L222.5,2399.0 L226.5,2398.9 L230.5,2397.1 L234.5,2397.9 L238.5,2397.8 L242.5,2396.0 L246.5,2395.5 L250.5,2395.9 L254.5,2394.9 L258.5,2394.7 L262.5,2395.0 L266.5,2394.1 L270.5,2396.2 L274.5,2392.3 L278.5,2395.9 L282.5,2393.4 L286.5,2393.3 L290.5,2391.8 L294.5,2393.5 L298.5,2393.1 L302.5,2393.6 L306.5,2392.3 L310.5,2393.1 L314.5,2395.6 L318.5,2393.1 L322.5,2391.4 L326.5,2393.6 L330.5,2388.5 L334.5,2392.6 L338.5,2392.4 L342.5,2390.6 L346.5,2387.9 L350.5,2390.2 L354.5,2391.4 L358.5,2389.7 L362.5,2390.8 L366.5,2391.4 L370.5,2388.8 L374.5,2391.4 L378.5,2391.8 L382.5,2390.7 L386.5,2390.6 L390.5,2390.2 L394.5,2391.8 L398.5,2388.3 L402.5,2387.8 L406.5,2388.5 L410.5,2385.8 L414.5,2384.6 L418.5,2385.4 L422.5,2387.2 L426.5,2387.2 L430.5,2383.7 L434.5,2383.0 L438.5,2385.3 L442.5,2385.3 L446.5,2385.3 L450.5,2386.2 L454.5,2386.9 L458.5,2385.1 L462.5,2385.6 L466.5,2382.7 L470.5,2382.4 L474.5,2384.5 L478.5,2385.0 L482.5,2384.9 L486.5,2384.6 L490.5,2384.7 L494.5,2384.7 L498.5,2380.4 L502.5,2381.9 L506.5,2383.7 L510.5,2383.9 L514.5,2380.4 L518.5,2384.6 L522.5,2381.9 L526.5,2382.1 L530.5,2382.8 L534.5,2383.5 L538.5,2379.9 L542.5,2379.0 L546.5,2382.1 L550.5,2380.7 L554.5,2381.4 L558.5,2378.2 L562.5,2380.6 L566.5,2381.8 L570.5,2380.3 L574.5,2380.9 L578.5,2381.1 L582.5,2381.3 L586.5,2382.8 L590.5,2381.0 L594.5,2384.9 L598.5,2381.8 L602.5,2384.1 L606.5,2380.2 L610.5,2381.5 L614.5,2378.1 L618.5,2382.7 L622.5,2381.5 L626.5,2382.6 L630.5,2380.3 L634.5,2378.7 L638.5,2381.7 L642.5,2381.4 L646.5,2378.8 L650.5,2377.8 L654.5,2380.8 L658.5,2379.8 L662.5,2384.2 L666.5,2379.1 L670.5,2379.2 L674.5,2379.8 L678.5,2377.3 L682.5,2378.6 L686.5,2382.6 L690.5,2379.8 L694.5,2379.2 L698.5,2378.3 L702.5,2381.5 L706.5,2381.8 L710.5,2381.5 L714.5,2380.8 L718.5,2382.2 L722.5,2382.7 L726.5,2381.3 L730.5,2383.8 L734.5,2379.8 L738.5,2381.5 L742.5,2383.4 L746.5,2384.1 L750.5,2382.8 L754.5,2385.5 L758.5,2386.9 L762.5,2386.2 L766.5,2386.0 L770.5,2387.2 L774.5,2386.6 L778.5,2384.2 L782.5,2385.6 L786.5,2387.8 L790.5,2383.5 L794.5,2384.9 L798.5,2383.5 L802.5,2381.9 L806.5,2380.8 L810.5,2381.5 L814.5,2380.7 L818.5,2379.5 L822.5,2375.5 L826.5,2376.0 L830.5,2375.7 L834.5,2375.3 L838.5,2373.5 L842.5,2372.5 L846.5,2371.6 L850.5,2369.9 L854.5,2366.0 L858.5,2366.3 L862.5,2364.0 L866.5,2360.3 L870.5,2360.2 L874.5,2365.0 L878.5,2358.6 L882.5,2355.5 L886.5,2356.8 L890.5,2358.8 L894.5,2355.1 L898.5,2354.6 L902.5,2357.2 L906.5,2351.8 L910.5,2353.2 L914.5,2351.8 L918.5,2350.0 L922.5,2351.4 L926.5,2351.7 L930.5,2349.6 L934.5,2350.4 L938.5,2350.4 L942.5,2348.9 L946.5,2351.8 L950.5,2349.7 L954.5,2348.0 L958.5,2343.9 L962.5,2341.2 L966.5,2341.6 L970.5,2333.2 L974.5,2331.6 L978.5,2326.8 L982.5,2325.3 L986.5,2322.9 L990.5,2318.2 L994.5,2316.5 L998.5,2314.4 L1002.5,2311.3 L1006.5,2307.5 L1010.5,2302.4 L1014.5,2297.5 L1018.5,2291.1 L1022.5,2281.8 L1026.5,2272.1 L1030.5,2267.2 L1034.5,2260.6 L1038.5,2255.8 L1042.5,2253.6 L1046.5,2246.5 L1050.5,2243.1 L1054.5,2237.8 L1058.5,2234.1 L1062.5,2227.9 L1066.5,2222.4 L1070.5,2208.0 L1074.5,2196.0 L1078.5,2193.2 L1082.5,2182.0 L1086.5,2180.4 L1090.5,2176.1 L1094.5,2171.4 L1098.5,2166.1 L1102.5,2162.7 L1106.5,2160.5 L1110.5,2162.9 L1114.5,2159.9 L1118.5,2165.8 L1122.5,2172.1 L1126.5,2180.0 L1130.5,2188.4 L1134.5,2204.0 L1138.5,2218.0 L1142.5,2233.8 L1146.5,2245.1 L1150.5,2252.8 L1154.5,2261.7 L1158.5,2282.0 L1162.5,2298.5 L1166.5,2317.0 L1170.5,2331.5 L1174.5,2337.4 L1178.5,2346.4 L1182.5,2351.0 L1186.5,2355.0 L1190.5,2358.4 L1194.5,2366.1 L1198.5,2369.5 L1202.5,2379.2 L1206.5,2383.0 L1210.5,2390.5 L1214.5,2394.5 L1218.5,2396.3 L1222.5,2404.9 L1226.5,2408.6 L1230.5,2411.3 L1234.5,2408.1 L1238.5,2404.8 L1242.5,2411.3 L1246.5,2410.2 L1250.5,2410.2 L1254.5,2411.1 L1258.5,2417.4 L1262.5,2412.6 L1266.5,2412.3 L1270.5,2413.5 L1274.5,2414.5 L1278.5,2416.9 L1282.5,2416.6 L1286.5,2416.7 L1290.5,2415.8 L1294.5,2416.2 L1298.5,2415.2 L1302.5,2414.1 L1306.5,2420.0 L1310.5,2419.0 L1314.5,2418.8 L1318.5,2416.9 L1322.5,2417.4 L1326.5,2417.5 L1330.5,2415.6 L1334.5,2417.8 L1338.5,2418.6 L1342.5,2419.4 L1346.5,2418.9 L1350.5,2419.8 L1354.5,2418.6 L1358.5,2418.1 L1362.5,2417.7 L1366.5,2417.3 L1370.5,2420.6 L1374.5,2418.3 L1378.5,2419.4 L1382.5,2417.8 L1386.5,2417.1 L1390.5,2421.4 L1394.5,2418.7 L1398.5,2420.5 L1402.5,2419.0 L1406.5,2417.7 L1410.5,2414.5 L1414.5,2418.3 L1418.5,2415.6 L1422.5,2414.6 L1426.5,2420.1 L1430.5,2419.3 L1434.5,2419.2 L1438.5,2418.2 L1442.5,2418.1 L1446.5,2418.8 L1450.5,2418.4 L1454.5,2418.2 L1458.5,2419.3 L1462.5,2414.2 L1466.5,2419.6 L1470.5,2417.1 L1474.5,2419.5 L1478.5,2420.0 L1482.5,2416.8 L1486.5,2419.4 L1490.5,2419.4 L1494.5,2416.9 L1498.5,2417.2 L1502.5,2418.2 L1506.5,2414.5 L1510.5,2417.3 L1514.5,2418.3 L1518.5,2417.3 L1522.5,2415.5 L1526.5,2417.4 L1530.5,2420.4 L1534.5,2420.1 L1538.5,2417.8 L1542.5,2416.7 L1546.5,2418.0 L1550.5,2418.0 L1554.5,2416.9 L1558.5,2417.5 L1562.5,2419.0 L1566.5,2419.5 L1570.5,2414.1 L1574.5,2415.4 L1578.5,2418.2 L1582.5,2419.8 L1586.5,2418.0 L1590.5,2418.7 L1594.5,2420.6 L1598.5,2413.3 L1602.5,2420.6 L1606.5,2418.3 L1610.5,2415.1 L1614.5,2413.7 L1618.5,2418.5 L1622.5,2416.4 L1626.5,2419.6 L1630.5,2418.4 L1634.5,2417.8 L1638.5,2419.6 L1642.5,2418.4 L1646.5,2419.3 L1650.5,2419.4 L1654.5,2418.6 L1658.5,2419.4 L1662.5,2419.4 L1666.5,2415.9 L1670.5,2417.7 L1674.5,2418.0 L1678.5,2417.6 L1682.5,2415.7 L1686.5,2417.3 L1690.5,2418.8 L1694.5,2418.6 L1698.5,2420.7 L1702.5,2417.3 L1706.5,2417.6 L1710.5,2417.4 L1714.5,2417.9 L1718.5,2417.4 L1722.5,2415.4 L1726.5,2419.0 L1730.5,2420.1 L1734.5,2420.3 L1738.5,2416.8 L1742.5,2418.2 L1746.5,2421.5 L1750.5,2418.4 L1754.5,2419.2 L1758.5,2418.4 L1762.5,2420.3 L1766.5,2420.3 L1770.5,2422.5 L1774.5,2419.6 L1778.5,2419.6 L1782.5,2416.9 L1786.5,2418.3 L1790.5,2417.8 L1794.5,2418.5 L1798.5,2416.9 L1802.5,2421.0 L1806.5,2417.4 L1810.5,2419.6 L1814.5,2417.2 L1818.5,2419.8 L1822.5,2421.9 L1826.5,2418.0 L1830.5,2419.9 L1834.5,2419.3 L1838.5,2419.9 L1842.5,2420.1 L1846.5,2418.5 L1850.5,2419.3 L1854.5,2418.7 L1858.5,2418.3 L1862.5,2417.7 L1866.5,2421.3 L1870.5,2418.6 L1874.5,2420.9 L1878.5,2420.8 L1882.5,2418.3 L1886.5,2421.6 L1890.5,2418.6 L1894.5,2421.1 L1898.5,2422.4 L1902.5,2419.0 L1906.5,2418.7 L1910.5,2418.7 L1914.5,2424.0 L1918.5,2419.7 L1922.5,2418.4 L1926.5,2421.7 L1930.5,2420.2 L1934.5,2420.5 L1938.5,2419.0 L1942.5,2417.1 L1946.5,2419.5 L1950.5,2419.1 L1954.5,2418.2 L1958.5,2419.1 L1962.5,2419.4 L1966.5,2422.2 L1970.5,2422.1" stroke="#0000ff" stroke-width="9.5"/>
<path d="M158.5,2592.9 L162.5,2585.1 L166.5,2591.5 L170.5,2590.1 L174.5,2592.1 L178.5,2590.6 L182.5,2592.9 L186.5,2590.0 L190.5,2589.1 L194.5,2590.9 L198.5,2590.6 L202.5,2589.4 L206.5,2589.5 L210.5,2591.1 L214.5,2591.0 L218.5,2589.1 L222.5,2589.3 L226.5,2587.0 L230.5,2592.5 L234.5,2589.5 L238.5,2592.0 L242.5,2590.5 L246.5,2592.9 L250.5,2592.2 L254.5,2590.3 L258.5,2592.1 L262.5,2588.2 L266.5,2591.7 L270.5,2587.3 L274.5,2590.2 L278.5,2591.3 L282.5,2589.9 L286.5,2589.0 L290.5,2592.2 L294.5,2589.0 L298.5,2591.2 L302.5,2590.9 L306.5,2589.0 L310.5,2587.4 L314.5,2590.4 L318.5,2587.0 L322.5,2588.4 L326.5,2588.1 L330.5,2590.4 L334.5,2589.6 L338.5,2589.9 L342.5,2589.5 L346.5,2588.0 L350.5,2589.9 L354.5,2591.3 L358.5,2588.9 L362.5,2589.9 L366.5,2588.7 L370.5,2590.5 L374.5,2589.9 L378.5,2590.1 L382.5,2589.3 L386.5,2591.3 L390.5,2588.0 L394.5,2588.0 L398.5,2587.6 L402.5,2589.4 L406.5,2587.4 L410.5,2587.3 L414.5,2589.5 L418.5,2590.1 L422.5,2589.1 L426.5,2583.9 L430.5,2586.6 L434.5,2586.3 L438.5,2586.1 L442.5,2587.3 L446.5,2590.8 L450.5,2587.4 L454.5,2586.6 L458.5,2588.9 L462.5,2587.8 L466.5,2587.8 L470.5,2586.5 L474.5,2587.5 L478.5,2588.1 L482.5,2584.3 L486.5,2584.7 L490.5,2589.0 L494.5,2588.5 L498.5,2586.3 L502.5,2585.4 L506.5,2586.7 L510.5,2585.0 L514.5,2586.3 L518.5,2589.4 L522.5,2586.9 L526.5,2588.4 L530.5,2586.1 L534.5,2586.9 L538.5,2588.4 L542.5,2583.9 L546.5,2585.3 L550.5,2585.5 L554.5,2586.0 L558.5,2587.9 L562.5,2586.3 L566.5,2582.6 L570.5,2584.4 L574.5,2583.2 L578.5,2582.9 L582.5,2587.4 L586.5,2582.3 L590.5,2584.1 L594.5,2582.4 L598.5,2584.7 L602.5,2583.6 L606.5,2583.0 L610.5,2582.5 L614.5,2584.2 L618.5,2580.6 L622.5,2580.7 L626.5,2579.8 L630.5,2583.5 L634.5,2580.6 L638.5,2579.2 L642.5,2579.9 L646.5,2584.3 L650.5,2579.9 L654.5,2581.2 L658.5,2580.3 L662.5,2579.3 L666.5,2578.0 L670.5,2578.3 L674.5,2578.1 L678.5,2574.8 L682.5,2582.3 L686.5,2579.4 L690.5,2577.9 L694.5,2577.1 L698.5,2576.0 L702.5,2578.6 L706.5,2576.5 L710.5,2577.4 L714.5,2574.2 L718.5,2576.8 L722.5,2579.2 L726.5,2575.3 L730.5,2576.9 L734.5,2575.5 L738.5,2577.0 L742.5,2574.2 L746.5,2574.9 L750.5,2573.7 L754.5,2574.8 L758.5,2574.2 L762.5,2573.0 L766.5,2574.5 L770.5,2574.2 L774.5,2571.9 L778.5,2572.9 L782.5,2577.5 L786.5,2573.9 L790.5,2572.5 L794.5,2576.1 L798.5,2566.7 L802.5,2567.6 L806.5,2568.2 L810.5,2568.5 L814.5,2571.1 L818.5,2571.9 L822.5,2566.5 L826.5,2571.5 L830.5,2567.4 L834.5,2569.4 L838.5,2569.3 L842.5,2568.9 L846.5,2567.8 L850.5,2567.7 L854.5,2565.1 L858.5,2567.0 L862.5,2567.6 L866.5,2567.0 L870.5,2569.1 L874.5,2565.9 L878.5,2568.5 L882.5,2565.1 L886.5,2561.9 L890.5,2558.4 L894.5,2555.8 L898.5,2560.3 L902.5,2558.0 L906.5,2557.3 L910.5,2554.2 L914.5,2554.1 L918.5,2555.3 L922.5,2551.7 L926.5,2548.2 L930.5,2548.1 L934.5,2549.7 L938.5,2544.4 L942.5,2540.6 L946.5,2539.7 L950.5,2539.7 L954.5,2541.6 L958.5,2538.9 L962.5,2536.0 L966.5,2533.4 L970.5,2533.4 L974.5,2531.2 L978.5,2528.1 L982.5,2525.3 L986.5,2523.2 L990.5,2517.8 L994.5,2507.0 L998.5,2509.4 L1002.5,2506.9 L1006.5,2508.9 L1010.5,2506.0 L1014.5,2504.2 L1018.5,2500.5 L1022.5,2495.4 L1026.5,2491.5 L1030.5,2480.7 L1034.5,2476.5 L1038.5,2467.4 L1042.5,2462.6 L1046.5,2459.4 L1050.5,2453.8 L1054.5,2449.9 L1058.5,2437.1 L1062.5,2432.8 L1066.5,2430.1 L1070.5,2421.9 L1074.5,2418.3 L1078.5,2414.8 L1082.5,2401.4 L1086.5,2383.2 L1090.5,2381.6 L1094.5,2379.0 L1098.5,2375.8 L1102.5,2374.0 L1106.5,2373.5 L1110.5,2370.6 L1114.5,2375.8 L1118.5,2379.3 L1122.5,2392.3 L1126.5,2393.1 L1130.5,2396.7 L1134.5,2405.5 L1138.5,2409.5 L1142.5,2420.1 L1146.5,2432.5 L1150.5,2439.9 L1154.5,2458.2 L1158.5,2473.5 L1162.5,2484.4 L1166.5,2495.2 L1170.5,2498.4 L1174.5,2512.5 L1178.5,2522.1 L1182.5,2536.9 L1186.5,2551.7 L1190.5,2560.8 L1194.5,2568.0 L1198.5,2571.5 L1202.5,2570.4 L1206.5,2576.3 L1210.5,2583.6 L1214.5,2586.6 L1218.5,2587.1 L1222.5,2587.2 L1226.5,2595.6 L1230.5,2591.0 L1234.5,2596.8 L1238.5,2597.8 L1242.5,2599.8 L1246.5,2598.9 L1250.5,2601.4 L1254.5,2604.7 L1258.5,2603.0 L1262.5,2602.2 L1266.5,2605.0 L1270.5,2605.7 L1274.5,2605.8 L1278.5,2605.2 L1282.5,2607.8 L1286.5,2607.1 L1290.5,2605.6 L1294.5,2608.1 L1298.5,2607.8 L1302.5,2608.1 L1306.5,2605.2 L1310.5,2606.7 L1314.5,2608.7 L1318.5,2609.5 L1322.5,2608.6 L1326.5,2608.3 L1330.5,2609.3 L1334.5,2609.7 L1338.5,2611.0 L1342.5,2609.0 L1346.5,2607.3 L1350.5,2609.0 L1354.5,2605.2 L1358.5,2608.4 L1362.5,2607.6 L1366.5,2608.3 L1370.5,2609.2 L1374.5,2608.5 L1378.5,2606.1 L1382.5,2607.9 L1386.5,2607.2 L1390.5,2608.5 L1394.5,2609.1 L1398.5,2607.0 L1402.5,2609.7 L1406.5,2610.6 L1410.5,2608.1 L1414.5,2609.7 L1418.5,2606.2 L1422.5,2607.7 L1426.5,2610.1 L1430.5,2605.8 L1434.5,2607.8 L1438.5,2607.2 L1442.5,2610.5 L1446.5,2610.5 L1450.5,2607.7 L1454.5,2608.9 L1458.5,2604.5 L1462.5,2610.0 L1466.5,2609.2 L1470.5,2610.8 L1474.5,2604.9 L1478.5,2609.3 L1482.5,2608.1 L1486.5,2604.5 L1490.5,2607.6 L1494.5,2608.6 L1498.5,2610.0 L1502.5,2609.1 L1506.5,2607.9 L1510.5,2609.5 L1514.5,2608.6 L1518.5,2604.2 L1522.5,2607.1 L1526.5,2609.0 L1530.5,2609.0 L1534.5,2611.7 L1538.5,2608.1 L1542.5,2611.4 L1546.5,2609.4 L1550.5,2610.7 L1554.5,2607.4 L1558.5,2607.5 L1562.5,2608.4 L1566.5,2605.9 L1570.5,2609.2 L1574.5,2610.1 L1578.5,2609.4 L1582.5,2610.6 L1586.5,2609.3 L1590.5,2608.1 L1594.5,2609.8 L1598.5,2609.1 L1602.5,2611.8 L1606.5,2608.8 L1610.5,2609.2 L1614.5,2608.6 L1618.5,2610.9 L1622.5,2610.5 L1626.5,2610.2 L1630.5,2607.1 L1634.5,2606.7 L1638.5,2609.6 L1642.5,2610.3 L1646.5,2611.6 L1650.5,2606.3 L1654.5,2609.0 L1658.5,2606.5 L1662.5,2607.7 L1666.5,2608.9 L1670.5,2610.8 L1674.5,2608.5 L1678.5,2608.2 L1682.5,2608.9 L1686.5,2611.4 L1690.5,2613.3 L1694.5,2607.0 L1698.5,2609.0 L1702.5,2608.8 L1706.5,2611.3 L1710.5,2610.2 L1714.5,2612.0 L1718.5,2607.9 L1722.5,2609.6 L1726.5,2608.9 L1730.5,2611.9 L1734.5,2609.4 L1738.5,2607.7 L1742.5,2613.1 L1746.5,2610.3 L1750.5,2608.1 L1754.5,2608.8 L1758.5,2612.5 L1762.5,2609.0 L1766.5,2610.9 L1770.5,2610.7 L1774.5,2611.6 L1778.5,2610.9 L1782.5,2605.6 L1786.5,2608.9 L1790.5,2607.1 L1794.5,2609.9 L1798.5,2610.2 L1802.5,2609.4 L1806.5,2609.8 L1810.5,2608.1 L1814.5,2613.5 L1818.5,2609.3 L1822.5,2608.4 L1826.5,2609.2 L1830.5,2609.9 L1834.5,2611.4 L1838.5,2606.3 L1842.5,2611.0 L1846.5,2609.2 L1850.5,2610.0 L1854.5,2611.9 L1858.5,2611.5 L1862.5,2609.2 L1866.5,2610.2 L1870.5,2613.4 L1874.5,2612.6 L1878.5,2611.8 L1882.5,2610.5 L1886.5,2612.0 L1890.5,2611.1 L1894.5,2609.6 L1898.5,2609.0 L1902.5,2611.4 L1906.5,2611.2 L1910.5,2612.6 L1914.5,2609.9 L1918.5,2612.9 L1922.5,2610.1 L1926.5,2612.7 L1930.5,2611.6 L1934.5,2609.9 L1938.5,2609.3 L1942.5,2610.6 L1946.5,2610.4 L1950.5,2612.4 L1954.5,2609.8 L1958.5,2608.6 L1962.5,2610.9 L1966.5,2614.1 L1970.5,2613.6" stroke="#ff0000" stroke-width="9.5"/>
<path d="M158.5,2766.3 L162.5,2763.2 L166.5,2762.2 L170.5,2759.7 L174.5,2764.4 L178.5,2770.0 L182.5,2765.1 L186.5,2765.9 L190.5,2766.8 L194.5,2763.4 L198.5,2769.8 L202.5,2763.4 L206.5,2765.7 L210.5,2769.9 L214.5,2764.8 L218.5,2765.2 L222.5,2764.1 L226.5,2765.6 L230.5,2761.2 L234.5,2763.8 L238.5,2768.0 L242.5,2765.4 L246.5,2764.6 L250.5,2765.7 L254.5,2765.7 L258.5,2765.3 L262.5,2766.0 L266.5,2762.0 L270.5,2766.1 L274.5,2763.8 L278.5,2766.4 L282.5,2765.0 L286.5,2763.2 L290.5,2764.9 L294.5,2763.2 L298.5,2766.8 L302.5,2764.9 L306.5,2766.5 L310.5,2763.0 L314.5,2767.9 L318.5,2764.5 L322.5,2767.5 L326.5,2766.5 L330.5,2763.0 L334.5,2765.6 L338.5,2764.0 L342.5,2765.7 L346.5,2767.5 L350.5,2766.1 L354.5,2766.7 L358.5,2762.6 L362.5,2765.0 L366.5,2765.2 L370.5,2766.4 L374.5,2763.2 L378.5,2765.3 L382.5,2764.9 L386.5,2761.3 L390.5,2762.0 L394.5,2764.6 L398.5,2761.5 L402.5,2761.3 L406.5,2764.9 L410.5,2763.7 L414.5,2762.6 L418.5,2763.1 L422.5,2762.0 L426.5,2761.6 L430.5,2761.5 L434.5,2762.9 L438.5,2764.4 L442.5,2761.0 L446.5,2761.5 L450.5,2761.1 L454.5,2759.0 L458.5,2761.6 L462.5,2762.5 L466.5,2759.2 L470.5,2762.1 L474.5,2759.4 L478.5,2762.3 L482.5,2762.2 L486.5,2762.0 L490.5,2756.1 L494.5,2758.9 L498.5,2756.8 L502.5,2756.8 L506.5,2758.6 L510.5,2761.3 L514.5,2758.5 L518.5,2758.1 L522.5,2755.0 L526.5,2757.1 L530.5,2755.5 L534.5,2758.7 L538.5,2756.7 L542.5,2757.4 L546.5,2757.2 L550.5,2756.7 L554.5,2758.6 L558.5,2757.5 L562.5,2755.9 L566.5,2756.5 L570.5,2757.1 L574.5,2758.3 L578.5,2755.9 L582.5,2762.6 L586.5,2754.2 L590.5,2754.6 L594.5,2752.1 L598.5,2756.1 L602.5,2752.5 L606.5,2752.3 L610.5,2755.5 L614.5,2752.8 L618.5,2752.2 L622.5,2751.5 L626.5,2752.8 L630.5,2754.5 L634.5,2751.9 L638.5,2753.8 L642.5,2754.2 L646.5,2752.2 L650.5,2755.0 L654.5,2750.9 L658.5,2751.0 L662.5,2751.3 L666.5,2752.8 L670.5,2750.2 L674.5,2749.8 L678.5,2750.8 L682.5,2752.4 L686.5,2749.2 L690.5,2747.4 L694.5,2749.3 L698.5,2750.5 L702.5,2748.2 L706.5,2749.3 L710.5,2745.5 L714.5,2748.8 L718.5,2748.8 L722.5,2749.6 L726.5,2748.9 L730.5,2749.6 L734.5,2746.2 L738.5,2749.1 L742.5,2744.8 L746.5,2746.6 L750.5,2749.5 L754.5,2748.9 L758.5,2743.9 L762.5,2748.2 L766.5,2746.2 L770.5,2745.4 L774.5,2747.1 L778.5,2746.8 L782.5,2748.9 L786.5,2743.6 L790.5,2745.3 L794.5,2745.6 L798.5,2742.4 L802.5,2747.6 L806.5,2748.4 L810.5,2743.9 L814.5,2749.7 L818.5,2744.1 L822.5,2744.8 L826.5,2742.9 L830.5,2745.3 L834.5,2741.4 L838.5,2745.7 L842.5,2743.5 L846.5,2746.9 L850.5,2739.2 L854.5,2741.7 L858.5,2739.1 L862.5,2740.8 L866.5,2741.3 L870.5,2737.9 L874.5,2735.8 L878.5,2733.8 L882.5,2735.7 L886.5,2735.9 L890.5,2733.9 L894.5,2730.1 L898.5,2726.7 L902.5,2726.2 L906.5,2722.8 L910.5,2721.5 L914.5,2725.1 L918.5,2721.6 L922.5,2721.7 L926.5,2719.6 L930.5,2721.5 L934.5,2720.6 L938.5,2715.4 L942.5,2714.9 L946.5,2713.0 L950.5,2715.0 L954.5,2713.1 L958.5,2708.1 L962.5,2710.2 L966.5,2703.2 L970.5,2698.0 L974.5,2693.5 L978.5,2693.8 L982.5,2691.8 L986.5,2687.4 L990.5,2686.3 L994.5,2684.8 L998.5,2679.2 L1002.5,2677.0 L1006.5,2673.8 L1010.5,2665.9 L1014.5,2657.7 L1018.5,2653.5 L1022.5,2648.3 L1026.5,2646.3 L1030.5,2636.6 L1034.5,2628.7 L1038.5,2624.2 L1042.5,2612.3 L1046.5,2600.1 L1050.5,2593.9 L1054.5,2586.4 L1058.5,2581.0 L1062.5,2569.7 L1066.5,2562.1 L1070.5,2555.4 L1074.5,2546.3 L1078.5,2540.5 L1082.5,2529.3 L1086.5,2519.8 L1090.5,2516.7 L1094.5,2510.3 L1098.5,2507.6 L1102.5,2503.8 L1106.5,2499.0 L1110.5,2496.7 L1114.5,2496.0 L1118.5,2499.3 L1122.5,2513.6 L1126.5,2526.4 L1130.5,2531.2 L1134.5,2533.4 L1138.5,2544.5 L1142.5,2546.5 L1146.5,2568.2 L1150.5,2585.3 L1154.5,2598.1 L1158.5,2622.1 L1162.5,2640.9 L1166.5,2647.1 L1170.5,2654.6 L1174.5,2661.0 L1178.5,2675.8 L1182.5,2685.0 L1186.5,2691.0 L1190.5,2692.1 L1194.5,2703.0 L1198.5,2717.1 L1202.5,2727.7 L1206.5,2729.7 L1210.5,2738.1 L1214.5,2740.9 L1218.5,2743.0 L1222.5,2746.1 L1226.5,2751.5 L1230.5,2755.7 L1234.5,2755.7 L1238.5,2763.0 L1242.5,2766.2 L1246.5,2767.8 L1250.5,2769.9 L1254.5,2772.0 L1258.5,2774.9 L1262.5,2774.7 L1266.5,2773.4 L1270.5,2778.2 L1274.5,2778.3 L1278.5,2776.6 L1282.5,2779.7 L1286.5,2777.8 L1290.5,2773.4 L1294.5,2778.6 L1298.5,2783.1 L1302.5,2780.5 L1306.5,2780.8 L1310.5,2780.4 L1314.5,2779.6 L1318.5,2781.2 L1322.5,2781.6 L1326.5,2784.0 L1330.5,2778.9 L1334.5,2783.3 L1338.5,2781.7 L1342.5,2777.5 L1346.5,2782.4 L1350.5,2783.5 L1354.5,2782.6 L1358.5,2781.1 L1362.5,2781.0 L1366.5,2777.2 L1370.5,2781.3 L1374.5,2781.1 L1378.5,2779.1 L1382.5,2781.2 L1386.5,2779.6 L1390.5,2789.5 L1394.5,2778.7 L1398.5,2779.3 L1402.5,2777.0 L1406.5,2780.2 L1410.5,2781.1 L1414.5,2780.9 L1418.5,2779.7 L1422.5,2782.5 L1426.5,2781.3 L1430.5,2783.1 L1434.5,2780.7 L1438.5,2777.8 L1442.5,2780.7 L1446.5,2779.1 L1450.5,2782.4 L1454.5,2779.9 L1458.5,2780.5 L1462.5,2780.9 L1466.5,2778.2 L1470.5,2780.3 L1474.5,2782.5 L1478.5,2780.0 L1482.5,2780.7 L1486.5,2781.3 L1490.5,2779.8 L1494.5,2780.5 L1498.5,2781.8 L1502.5,2780.3 L1506.5,2781.1 L1510.5,2780.7 L1514.5,2779.1 L1518.5,2778.7 L1522.5,2784.6 L1526.5,2783.5 L1530.5,2780.8 L1534.5,2782.7 L1538.5,2783.0 L1542.5,2782.7 L1546.5,2780.4 L1550.5,2778.4 L1554.5,2778.8 L1558.5,2780.6 L1562.5,2783.4 L1566.5,2783.8 L1570.5,2780.6 L1574.5,2780.4 L1578.5,2783.2 L1582.5,2784.7 L1586.5,2779.4 L1590.5,2781.9 L1594.5,2781.3 L1598.5,2780.5 L1602.5,2780.5 L1606.5,2780.4 L1610.5,2781.0 L1614.5,2778.3 L1618.5,2781.0 L1622.5,2782.5 L1626.5,2782.4 L1630.5,2782.5 L1634.5,2781.6 L1638.5,2781.4 L1642.5,2784.5 L1646.5,2780.7 L1650.5,2781.3 L1654.5,2783.3 L1658.5,2783.7 L1662.5,2778.7 L1666.5,2780.1 L1670.5,2780.3 L1674.5,2780.8 L1678.5,2780.2 L1682.5,2782.8 L1686.5,2782.3 L1690.5,2781.9 L1694.5,2780.3 L1698.5,2782.9 L1702.5,2782.8 L1706.5,2785.0 L1710.5,2780.0 L1714.5,2780.9 L1718.5,2783.6 L1722.5,2779.1 L1726.5,2781.6 L1730.5,2781.5 L1734.5,2781.2 L1738.5,2783.9 L1742.5,2781.2 L1746.5,2778.4 L1750.5,2783.2 L1754.5,2780.2 L1758.5,2781.4 L1762.5,2781.0 L1766.5,2781.4 L1770.5,2781.3 L1774.5,2781.8 L1778.5,2780.4 L1782.5,2781.1 L1786.5,2779.1 L1790.5,2779.2 L1794.5,2779.5 L1798.5,2775.5 L1802.5,2778.6 L1806.5,2779.9 L1810.5,2782.2 L1814.5,2781.8 L1818.5,2780.3 L1822.5,2781.6 L1826.5,2781.7 L1830.5,2785.8 L1834.5,2782.3 L1838.5,2781.5 L1842.5,2778.7 L1846.5,2783.3 L1850.5,2780.7 L1854.5,2781.8 L1858.5,2781.4 L1862.5,2782.3 L1866.5,2775.8 L1870.5,2779.0 L1874.5,2781.2 L1878.5,2778.7 L1882.5,2782.1 L1886.5,2783.3 L1890.5,2778.8 L1894.5,2780.3 L1898.5,2782.2 L1902.5,2784.3 L1906.5,2782.9 L1910.5,2782.4 L1914.5,2779.5 L1918.5,2781.1 L1922.5,2781.3 L1926.5,2780.0 L1930.5,2781.8 L1934.5,2780.5 L1938.5,2780.3 L1942.5,2784.9 L1946.5,2780.8 L1950.5,2784.4 L1954.5,2780.4 L1958.5,2780.9 L1962.5,2778.8 L1966.5,2780.0 L1970.5,2783.9" stroke="#000" stroke-width="9.5"/>
</g>
<rect x="147.5" y="21.5" width="1825.0" height="1352.5" fill="none" stroke="#000" stroke-width="9"/>
<rect x="156.5" y="1638.5" width="1816.5" height="1343.5" fill="none" stroke="#000" stroke-width="9"/>
<g stroke="#000" stroke-width="9"><line x1="147.5" y1="1374.0" x2="147.5" y2="1340.0"/><line x1="261.6" y1="1374.0" x2="261.6" y2="1355.0"/><line x1="375.6" y1="1374.0" x2="375.6" y2="1340.0"/><line x1="489.7" y1="1374.0" x2="489.7" y2="1355.0"/><line x1="603.8" y1="1374.0" x2="603.8" y2="1340.0"/><line x1="717.8" y1="1374.0" x2="717.8" y2="1355.0"/><line x1="831.9" y1="1374.0" x2="831.9" y2="1340.0"/><line x1="945.9" y1="1374.0" x2="945.9" y2="1355.0"/><line x1="1060.0" y1="1374.0" x2="1060.0" y2="1340.0"/><line x1="1174.1" y1="1374.0" x2="1174.1" y2="1355.0"/><line x1="1288.1" y1="1374.0" x2="1288.1" y2="1340.0"/><line x1="1402.2" y1="1374.0" x2="1402.2" y2="1355.0"/><line x1="1516.2" y1="1374.0" x2="1516.2" y2="1340.0"/><line x1="1630.3" y1="1374.0" x2="1630.3" y2="1355.0"/><line x1="1744.4" y1="1374.0" x2="1744.4" y2="1340.0"/><line x1="1858.4" y1="1374.0" x2="1858.4" y2="1355.0"/><line x1="1972.5" y1="1374.0" x2="1972.5" y2="1340.0"/><line x1="156.5" y1="2982.0" x2="156.5" y2="2968.0"/><line x1="247.3" y1="2982.0" x2="247.3" y2="2955.0"/><line x1="338.1" y1="2982.0" x2="338.1" y2="2968.0"/><line x1="429.0" y1="2982.0" x2="429.0" y2="2955.0"/><line x1="519.8" y1="2982.0" x2="519.8" y2="2968.0"/><line x1="610.6" y1="2982.0" x2="610.6" y2="2955.0"/><line x1="701.5" y1="2982.0" x2="701.5" y2="2968.0"/><line x1="792.3" y1="2982.0" x2="792.3" y2="2955.0"/><line x1="883.1" y1="2982.0" x2="883.1" y2="2968.0"/><line x1="973.9" y1="2982.0" x2="973.9" y2="2955.0"/><line x1="1064.8" y1="2982.0" x2="1064.8" y2="2968.0"/><line x1="1155.6" y1="2982.0" x2="1155.6" y2="2955.0"/><line x1="1246.4" y1="2982.0" x2="1246.4" y2="2968.0"/><line x1="1337.2" y1="2982.0" x2="1337.2" y2="2955.0"/><line x1="1428.0" y1="2982.0" x2="1428.0" y2="2968.0"/><line x1="1518.9" y1="2982.0" x2="1518.9" y2="2955.0"/><line x1="1609.7" y1="2982.0" x2="1609.7" y2="2968.0"/><line x1="1700.5" y1="2982.0" x2="1700.5" y2="2955.0"/><line x1="1791.3" y1="2982.0" x2="1791.3" y2="2968.0"/><line x1="1882.2" y1="2982.0" x2="1882.2" y2="2955.0"/><line x1="1973.0" y1="2982.0" x2="1973.0" y2="2968.0"/></g>
<g font-family="'Liberation Serif','DejaVu Serif','Noto Serif CJK SC',serif" font-size="48" fill="#8c8c8c" text-anchor="middle"><text x="147.5" y="1435">740</text><text x="375.6" y="1435">735</text><text x="603.8" y="1435">730</text><text x="831.9" y="1435">725</text><text x="1060.0" y="1435">720</text><text x="1288.1" y="1435">715</text><text x="1516.2" y="1435">710</text><text x="1744.4" y="1435">705</text><text x="1972.5" y="1435">700</text></g>
<g font-family="'Liberation Serif','DejaVu Serif','Noto Serif CJK SC',serif" font-size="49" fill="#5e5e5e" text-anchor="middle"><text x="247.3" y="3047">294</text><text x="429.0" y="3047">292</text><text x="610.6" y="3047">290</text><text x="792.3" y="3047">288</text><text x="973.9" y="3047">286</text><text x="1155.6" y="3047">284</text><text x="1337.2" y="3047">282</text><text x="1518.9" y="3047">280</text><text x="1700.5" y="3047">278</text><text x="1882.2" y="3047">276</text></g>
<text x="730.3" y="1505.0" font-family="'Liberation Serif','DejaVu Serif','Noto Serif CJK SC',serif" font-size="61" font-weight="bold" fill="#2a2a2a" textLength="546.4" lengthAdjust="spacing" >Binding energy (a.u.)</text>
<text x="787.3" y="3122.0" font-family="'Liberation Serif','DejaVu Serif','Noto Serif CJK SC',serif" font-size="54" font-weight="bold" fill="#2a2a2a" textLength="549.2" lengthAdjust="spacing" >Binding energy (a.u.)</text>
<g transform="translate(71,870.6) rotate(-90)"><text x="0.0" y="0.0" font-family="'Liberation Serif','DejaVu Serif','Noto Serif CJK SC',serif" font-size="62" font-weight="bold" fill="#2a2a2a" textLength="384.2" lengthAdjust="spacing" >Intensity (a.u.)</text></g>
<g transform="translate(66.5,2559.4) rotate(-90)"><text x="0.0" y="0.0" font-family="'Liberation Serif','DejaVu Serif','Noto Serif CJK SC',serif" font-size="62" font-weight="bold" fill="#2a2a2a" textLength="398.7" lengthAdjust="spacing" >Intensity (a.u.)</text></g>
<text x="176.0" y="110.0" font-family="'Liberation Serif','DejaVu Serif','Noto Serif CJK SC',serif" font-size="70" font-weight="normal" fill="#1c1c1c" textLength="84.7" lengthAdjust="spacing" stroke="#1c1c1c" stroke-width="1.6">(a)</text>
<text x="1797.0" y="100.0" font-family="'Liberation Serif','DejaVu Serif','Noto Serif CJK SC',serif" font-size="62" font-weight="normal" fill="#1c1c1c" textLength="143.0" lengthAdjust="spacing" stroke="#1c1c1c" stroke-width="1.6">Fe 2p</text>
<text x="301.5" y="214.0" font-family="'Liberation Serif','DejaVu Serif','Noto Serif CJK SC',serif" font-size="56" font-weight="normal" fill="#1c1c1c" textLength="242.5" lengthAdjust="spacing" stroke="#1c1c1c" stroke-width="1.6">IO-450 <tspan font-size="51">℃</tspan></text>
<text x="301.7" y="349.0" font-family="'Liberation Serif','DejaVu Serif','Noto Serif CJK SC',serif" font-size="56" font-weight="normal" fill="#1c1c1c" textLength="243.3" lengthAdjust="spacing" stroke="#1c1c1c" stroke-width="1.6">IO-375 <tspan font-size="51">℃</tspan></text>
<text x="292.0" y="528.5" font-family="'Liberation Serif','DejaVu Serif','Noto Serif CJK SC',serif" font-size="56" font-weight="normal" fill="#1c1c1c" textLength="241.5" lengthAdjust="spacing" stroke="#1c1c1c" stroke-width="1.6">IO-360 <tspan font-size="51">℃</tspan></text>
<text x="292.0" y="738.0" font-family="'Liberation Serif','DejaVu Serif','Noto Serif CJK SC',serif" font-size="56" font-weight="normal" fill="#1c1c1c" textLength="241.5" lengthAdjust="spacing" stroke="#1c1c1c" stroke-width="1.6">IO-350 <tspan font-size="51">℃</tspan></text>
<text x="986.6" y="118.0" font-family="'Liberation Serif','DejaVu Serif','Noto Serif CJK SC',serif" font-size="54" font-weight="normal" fill="#1c1c1c" textLength="54.4" lengthAdjust="spacing" stroke="#1c1c1c" stroke-width="1.6">2p</text>
<text x="1046.7" y="136.0" font-family="'Liberation Serif','DejaVu Serif','Noto Serif CJK SC',serif" font-size="54" font-weight="normal" fill="#1c1c1c" textLength="65.3" lengthAdjust="spacing" stroke="#1c1c1c" stroke-width="1.6">1/2</text>
<text x="1586.0" y="166.0" font-family="'Liberation Serif','DejaVu Serif','Noto Serif CJK SC',serif" font-size="54" font-weight="normal" fill="#1c1c1c" textLength="52.0" lengthAdjust="spacing" stroke="#1c1c1c" stroke-width="1.6">2p</text>
<text x="1643.0" y="184.0" font-family="'Liberation Serif','DejaVu Serif','Noto Serif CJK SC',serif" font-size="54" font-weight="normal" fill="#1c1c1c" textLength="68.7" lengthAdjust="spacing" stroke="#1c1c1c" stroke-width="1.6">3/2</text>
<text x="1254.5" y="156.0" font-family="'Liberation Serif','DejaVu Serif','Noto Serif CJK SC',serif" font-size="54" font-weight="normal" fill="#1c1c1c" textLength="62.0" lengthAdjust="spacing" stroke="#1c1c1c" stroke-width="1.6">Fe</text>
<text x="1326.0" y="156.0" font-family="'Liberation Serif','DejaVu Serif','Noto Serif CJK SC',serif" font-size="54" font-weight="normal" fill="#1c1c1c" textLength="67.0" lengthAdjust="spacing" stroke="#1c1c1c" stroke-width="1.6">(0)</text>
<text x="1071.8" y="1106.0" font-family="'Liberation Serif','DejaVu Serif','Noto Serif CJK SC',serif" font-size="54" font-weight="normal" fill="#1c1c1c" textLength="58.8" lengthAdjust="spacing" stroke="#1c1c1c" stroke-width="1.6">Fe</text>
<text x="1128.0" y="1124.5" font-family="'Liberation Serif','DejaVu Serif','Noto Serif CJK SC',serif" font-size="54" font-weight="normal" fill="#1c1c1c" textLength="28.5" lengthAdjust="spacing" stroke="#1c1c1c" stroke-width="1.6">3</text>
<text x="1158.8" y="1106.0" font-family="'Liberation Serif','DejaVu Serif','Noto Serif CJK SC',serif" font-size="54" font-weight="normal" fill="#1c1c1c" textLength="44.7" lengthAdjust="spacing" stroke="#1c1c1c" stroke-width="1.6">O</text>
<text x="1198.8" y="1124.5" font-family="'Liberation Serif','DejaVu Serif','Noto Serif CJK SC',serif" font-size="54" font-weight="normal" fill="#1c1c1c" textLength="29.2" lengthAdjust="spacing" stroke="#1c1c1c" stroke-width="1.6">4</text>
<line x1="1054" y1="236" x2="1199.4" y2="148.6" stroke="#000" stroke-width="4"/><polygon points="1232,129 1204.6,157.1 1194.3,140.0" fill="#000"/>
<line x1="1615" y1="248" x2="1482.1" y2="163.4" stroke="#000" stroke-width="4"/><polygon points="1450,143 1487.4,155.0 1476.7,171.8" fill="#000"/>
<line x1="1024" y1="1076" x2="884.5" y2="952.5" stroke="#000" stroke-width="3.5"/><polygon points="859,930 889.1,947.3 879.8,957.8" fill="#000"/>
<line x1="1279" y1="1100" x2="1410.7" y2="1011.9" stroke="#000" stroke-width="3.5"/><polygon points="1439,993 1414.6,1017.7 1406.8,1006.1" fill="#000"/>
<text x="201.0" y="1727.0" font-family="'Liberation Serif','DejaVu Serif','Noto Serif CJK SC',serif" font-size="70" font-weight="normal" fill="#1c1c1c" textLength="87.0" lengthAdjust="spacing" stroke="#1c1c1c" stroke-width="1.6">(b)</text>
<text x="1837.0" y="1710.0" font-family="'Liberation Serif','DejaVu Serif','Noto Serif CJK SC',serif" font-size="59" font-weight="normal" fill="#1c1c1c" textLength="114.0" lengthAdjust="spacing" stroke="#1c1c1c" stroke-width="1.6">C 1s</text>
<text x="1152.8" y="1737.0" font-family="'Liberation Serif','DejaVu Serif','Noto Serif CJK SC',serif" font-size="55" font-weight="normal" fill="#1c1c1c" textLength="202.5" lengthAdjust="spacing" stroke="#1c1c1c" stroke-width="1.6">284.6 eV</text>
<text x="244.7" y="2138.0" font-family="'Liberation Serif','DejaVu Serif','Noto Serif CJK SC',serif" font-size="56" font-weight="normal" fill="#1c1c1c" textLength="244.0" lengthAdjust="spacing" stroke="#1c1c1c" stroke-width="1.6">IO-450 <tspan font-size="51">℃</tspan></text>
<text x="253.5" y="2337.0" font-family="'Liberation Serif','DejaVu Serif','Noto Serif CJK SC',serif" font-size="56" font-weight="normal" fill="#1c1c1c" textLength="243.0" lengthAdjust="spacing" stroke="#1c1c1c" stroke-width="1.6">IO-375 <tspan font-size="51">℃</tspan></text>
<text x="253.5" y="2544.0" font-family="'Liberation Serif','DejaVu Serif','Noto Serif CJK SC',serif" font-size="56" font-weight="normal" fill="#1c1c1c" textLength="243.0" lengthAdjust="spacing" stroke="#1c1c1c" stroke-width="1.6">IO-360 <tspan font-size="51">℃</tspan></text>
<text x="253.5" y="2727.0" font-family="'Liberation Serif','DejaVu Serif','Noto Serif CJK SC',serif" font-size="56" font-weight="normal" fill="#1c1c1c" textLength="243.0" lengthAdjust="spacing" stroke="#1c1c1c" stroke-width="1.6">IO-350 <tspan font-size="51">℃</tspan></text>
</svg>
</body></html>
